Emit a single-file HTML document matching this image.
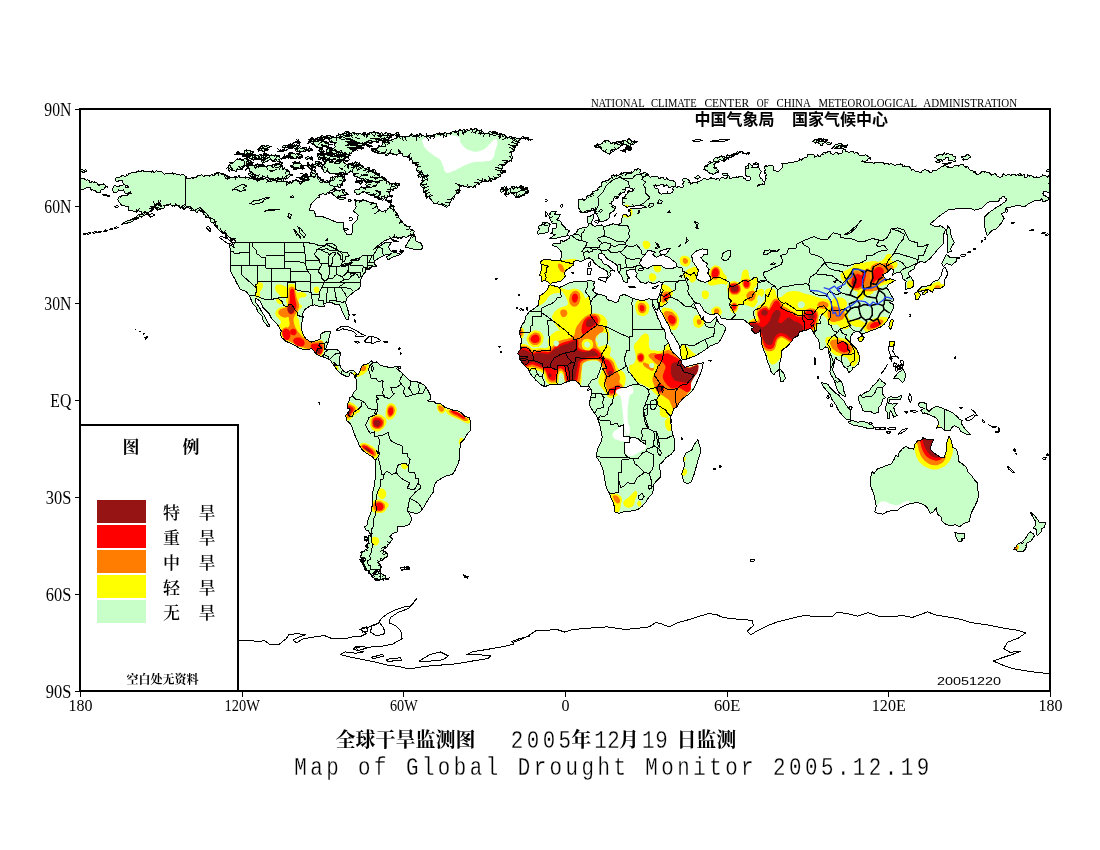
<!DOCTYPE html>
<html lang="zh-CN">
<head>
<meta charset="utf-8">
<title>全球干旱监测图 Map of Global Drought Monitor 2005.12.19</title>
<style>
html,body{margin:0;padding:0;background:#fff;}
body{width:1100px;height:850px;overflow:hidden;}
svg{display:block;}
text{fill:#000;}
.ax{font-family:"Liberation Serif",serif;font-size:16.5px;}
.ay{font-family:"Liberation Serif",serif;font-size:18px;}
.hd{font-family:"Liberation Serif",serif;font-size:11.5px;}
.cn16{font-family:"Liberation Sans","Noto Sans CJK SC",sans-serif;font-size:16px;font-weight:700;}
.cn20{font-family:"Liberation Serif","Noto Serif CJK SC",serif;font-size:20px;font-weight:700;}
.dg{font-family:"Liberation Mono",monospace;font-size:26px;stroke:#fff;stroke-width:0.3px;}
.en{font-family:"Liberation Mono",monospace;font-size:26px;stroke:#fff;stroke-width:0.3px;}
.lg{font-family:"Liberation Serif","Noto Serif CJK SC",serif;font-size:17px;font-weight:600;}
.lgt{font-family:"Liberation Serif","Noto Serif CJK SC",serif;font-size:17px;font-weight:700;}
.nd{font-family:"Liberation Serif","Noto Serif CJK SC",serif;font-size:12px;font-weight:700;}
.dt{font-family:"Liberation Sans",sans-serif;font-size:10px;}
</style>
</head>
<body>
<svg width="1100" height="850" viewBox="0 0 1100 850">
<rect x="0" y="0" width="1100" height="850" fill="#fff"/>
<defs><path id="landshape" fill-rule="evenodd" clip-rule="evenodd" d="M112.1,188.8l1.1-1 0.5-1.5 1.6-1 1.4,1.3 1.2-0.4 1.3,0.2 1.1-1.3 1.5,0.8 0.9-0.7 1.2-0.5 1.4,0.3 0.1,1.6 0.9-0.7 1.1-0.4 0.4,1.3 1.2,0.4 -1.7,0.7 -1.7-0.9 -0.5-1.7 -1.2-1.4 -0.9-0.9 -0.5-1.1 -0.3-1.7 -1.6,0 -1.9,0.1 -0.7,1.8 -1.6-0.5 -0.8-1.5 0.1-1.8 1.1-1.3 1.8,0.8 1.5-1.1 1.5-0.7 1.3-1 1.3,1 1.6,0.2 0.7-1.3 1.3,0.4 0.4-1.4 1.4,0.1 1.2-0.5 0.7-1.1 1.2,0.1 1.2,0.4 1.1-0.4 1.2-0.3 0.8-1 1.2-0.3 1.1,0.9 1.5,0.1 0.8-1.3 1.5-0.2 1.3,1.3 1.7-0.7 1.5,0.9 1.6-0.4 1.3-0.1 0.6,1.1 0.5-0.9 0.8-0.8 1.2,1.3 1.8-0.1 1.2-1.4 1.6,0.9 1.5,0.2 1.3-0.6 1,1.2 1.2,1 1.5,1 1.5-1 1.5,0.6 1.6,0.1 1.6-0.3 1.5-0.8 1.3,1.2 1.7-0.7 1.1,1.6 1.8-0.8 1.6,0.9 1.8-0.2 1.2,0 0.9-0.8 0.4,1 0.9,0.8 1.4,1 0.3,1.7 1.7-0.1 1.6,0.5 0.7-0.7 0.9-0.6 1.1,0.3 0.3,1.1 0.9-1.6 1.9,0.3 0.8-1.1 1.3,0.4 -0.2-1.3 0.9-0.8 1,0.7 1-0.7 1.3-0.3 0.6,1.2 1.3,0.7 1.1-1 1.3,0.4 1-1 1.5,0.2 1,1.1 1-1 1.2-0.7 0.9,1.3 1.5-0.6 0.2-1.5 1.4-0.5 0.7-1.1 1.3-0.1 1.4,0.1 0.7,1.1 1.2,0.1 0.7,0.9 1.3-0.8 0.9,1.2 1.1-0.1 1,0.5 0.9,0.7 1,0.4 1.3,0.8 1.3,0.7 1.5,0.3 1.5-0.3 1.2-1.5 1.7,0.9 1.8-0.1 0.5-1.8 0.2,1.9 1.6,0.8 1.6-0.4 1.7,0.2 1.3-1.2 1.5,0.8 1.4,0.6 1.5-0.1 0.5-1.4 1.5-0.3 1.6,0.1 0.6,1.5 1.4-0.1 0.3,1.4 1.3,0.7 -0.5,1.3 1-1.5 1.7-0.9 1.4,0.3 0.7-1.2 0.4,1.1 0.9,0.9 1.6-1.1 1.8,0.4 1.6,0.8 1,1.6 0.7-1.7 1.8,0 1.6,0.6 1.3-1.2 0.8,0.5 0.9,0.6 1.2,0.1 0.3,1.3 0.2-1.3 0.9-0.9 1.3-0.4 1.1,0.7 1.4-1.3 1.6,1.2 -0.3,1.9 1.8,0.6 1.2-0.8 1.3,0.7 1.2,0 1.3-0.3 1.7,0.7 1-1.6 1.7,0.2 1-1.4 1.5,0.4 0.8,1.4 1.6-0.2 1.4,0.5 1.7-0.5 0.7-1.6 1.5,0.5 1.5,0.3 0.6-1.2 1.2-0.6 -0.8-1.1 0.4-1.3 1.6,0.6 1.2-1.2 0.7-1.5 -0.9-1.3 1.1-0.8 0.2-1.4 -1.2-0.8 0-1.4 1.6,0.8 1,1.5 1.1-1 1.2,1 0.7,1 -0.2,1.2 0.8,0.9 1.2,0.2 -0.6,1.3 1.3,0.9 0.5,1.5 1.6-0.3 0.2,1.7 1.7,0 1.3,1.3 0.5,1.8 0.6-1 1.1-0.2 1.1-0.2 0.8,0.9 1.4-0.2 0.3-1.4 1.1-0.8 -0.3-1.4 1.2-0.2 0.9-0.7 1.3,0.2 0.8-1 1.5,0.7 1.1-1.2 1.4-0.4 0.6-1.4 1.1,0.8 1,0.9 1.3-1 1.5,0.6 0.3,1.3 -0.5,1.3 0.6,1.4 1.4,0.2 -0.6,0.9 -0.9,0.6 -1.3-0.4 -0.6,1.2 0.2,1.3 -1,0.9 1.2,0.6 -0.2,1.4 -1.3-0.9 -1.4,0.7 0.3,1.6 -1.3,0.9 -0.3-1.7 -1.7,0.1 -1.3,0.1 -1.1,0.8 -0.9,1 -0.7,1.1 -0.8,1.4 -1.6-0.3 -1.1,0.5 -0.7,0.9 0.5,1 0.6,0.9 -0.9-0.6 -0.8-0.7 -1.2,0.1 -0.5,1.2 -0.9,0.6 -1.1-0.3 -1-0.4 -0.5-1 -0.7,0.7 -0.5,0.9 -1,0.5 -1-0.4 -1,1.1 0.8,1.3 -1,0.7 -1.2,0.1 -1.4,1.4 -1.6,1.2 -4,4.9 -0.8,4.8 4.8,1 1.4,5.5 6.7,0 8.1,3.2 5.4,2.3 7.2,0.6 0.3,6.8 3.3,4.9 4,0.6 2.1-3.8 -0.8-6.5 5.4-4.9 0.6-4.8 -4.6-3.9 2.7-4.2 -1.4-7.4 1.1,0.7 0.8,1 2.2-1.2 2.1,1.4 1.9-1.6 6.8,2.3 6.7,1.6 1.3,4.8 4.1,3.3 2.7-0.9 1.3-0.3 1.4-0.5 -0.1-1.7 1.8-0.3 0.6-1.2 0.9-1 1.5,0.5 1.1-1 1.2,1 -0.3,1.5 0,1.1 0.8,0.8 0.2,1 0.3,1 1.3,1.4 1.4,1.4 0.5,1.9 0.9,1.7 0.8,0.7 0.9,0.6 0.1,1.1 -0.7,0.8 1.8,0.3 1.1,1.4 1.4,1.3 1.5,1.4 1.9,0.4 2,0.1 -0.2,1.1 -0.3,1 0.9,0.8 1,0.3 1.6,0.8 1.5,0.9 -0.9,1.5 -0.9,1.7 -1.9,0.7 -1.9,0.5 -1.6,1.2 -1.4,1.5 -0.8-1.2 -1.3-0.3 -1.5,0.2 -0.4,1.5 -1.4-0.3 -0.7-1.3 -1,0.8 -1,0.9 -1.4-0.7 0-1.5 -1.2,1 -1.4-0.8 -0.5,1.4 -1.4-0.2 -0.9,0.9 -1.2-0.1 -5.4,2.2 -5.4,3.9 -5.4,4.6 5.4-2.6 6.7-4.6 5.4,0.7 -2.7,3.9 1.9,3.9 3.5,1.6 5.4,1.3 4-2.9 -2.7,3.8 -6.7,2.3 -6.2,3.2 -1.1-2.9 4.6-3.2 -6.7,1.3 -5.4,2.9 -4.1,2.9 -0.8,2.6 2.2,2.6 -4.1,0.9 -6.2,2 -1,3.5 -2.7,2.9 -2.2,5.2 0.8,4.5 -2.1,3.6 -4.1,2.6 -4,3.2 -4,3.6 -1.1,4.5 2.1,7.1 1.4,5.5 -0.8,4.2 -2.2,0 -2.1-4.2 -2.2-4.8 -2.4-5.9 -3.5,0.4 -4.1-2.3 -5.4,0.3 -2.7,0.7 0.6,3.2 -4.6-0.3 -5.4-1.6 -4.8,1.3 -4.6,3.2 -2.2,4.2 0.3,3.6 -1.3,6.1 -0.3,5.5 1.3,4.8 2.7,4.9 3.5,2.3 2.2,1.3 4.6-1.3 4-1.3 1.4-5.9 4-1.9 5.4-0.3 -1.4,5.5 -0.8,4.8 -1.3,2.6 -1.4,5.2 3.5,0.3 4.1-0.3 4,0.3 3.3,2.6 -1.1,6.5 0,4.8 1.9,4.9 2.7,3.2 2.7,0.6 3.5-2.2 3.2,0.3 2.9,2.6 -1.3,4.5 -1.6-3.5 -3.2-1.7 -1.7,4.6 -3.2-1 -3.5-1.9 -2.4-1.3 -3.5-4.2 -2.2-3.3 -4-5.8 -3.3-1.3 -4-1.6 -4-1 -2.2-1.9 -4.6-4.9 -3.5,0.4 -3.2,0.9 -5.4-1.9 -4-2.3 -4.9-2.6 -4.6-1.9 -4-3.5 -1.6-3.3 0.8-3.5 -2.4-4.6 -3.6-4.2 -4-4.2 -2.2-4.5 -3.2-3.2 -3.2-3.3 -2.2-5.8 -4.6-2.9 -0.2,3.9 3.5,4.8 2.7,4.9 3.2,4.8 2.2,4.9 2.7,4.2 -2.2,0.6 -4.6-5.8 -0.8-4.5 -4.6-4.2 -1.3-4.2 -3.5-3.9 -2.4-5.2 -1.4-3.2 -3.2-4.2 -5.7-1.9 -3.5-6.2 -1.9-4.2 -3.5-5.8 -1.3-3.2 0.2-6.5 0.6-6.5 0-5.5 -1.6-6.8 4.8,2.6 -1.4-2.7 1.4-0.7 0.8-1.4 0.3-1.8 -1.5-0.8 -1.6,0.5 -1.2-1.2 -0.8-1.5 -1.4-0.9 -1.9,0.6 -1.3-1.4 -0.1-1.1 0.8-0.8 -0.4-1.2 -1.3,0.2 -1.5,0.1 -1.5-0.4 0.6-1.1 -0.6-1 -1.1,0.5 -1-0.8 -1.1-1.1 -0.9-1.4 -1.1-0.8 -0.6-1.3 -1.4-0.6 -0.4-1.5 -0.8-1.1 -1.4-0.3 -1.6-0.8 0.6-1.7 -1.4-1.1 -1.2-1.5 -1.1,0.5 -1.3-0.4 0.1-1.2 -0.5-1.1 -1.1-1 -1.1,1 0.3-1.2 -0.8-1 -1-0.9 0.5-1.2 -1.1,0.5 -1.1-0.4 -1.9,0.1 -1,1.6 -1.7-0.7 -0.8-1.7 -1.8,0.4 -1.9-0.2 0.6-1.2 -0.8-1.1 -1.3,0.3 -1-0.8 -1-0.4 -1-0.1 -0.9,0.7 -0.2,1.1 -1,0.8 -1.1-0.7 0-1.1 -0.7-0.9 -1.4-0.1 -0.4,1.3 -0.6-0.9 -1-0.5 -1.5-1.3 -1.8,0.5 -1.3,0.4 -0.6-1.2 -1.2,0.2 -0.4,1.2 -1.1-1.3 -0.8-1.5 -1.3,0.8 -1.1,1.1 -1.8-0.8 -1.2,1.5 -0.1,1.5 -1.5,0.4 -1.2,0.1 -1.3,0.2 -0.5,1.3 -1.3,0 -1.3,0.3 -0.9-0.9 -1.4-1.2 0.2-1.8 0.9-1.4 1.6-0.5 1.2-1.1 1.5-0.2 -1.8,0.8 -1.9-0.7 -1.5,1.1 -1.5,1.1 0.3,1.4 -0.5,1.3 -0.8,1.7 -1.7-0.5 0.8,1.4 -1.3,0.9 -1.4,0.2 -0.8,1 -1,1.5 -1.8-0.1 -1.3,1 -1.3,0.9 -1.3,0 -0.6,1.1 -0.9-0.6 -0.8-0.8 -0.9,1.6 -0.9,1.6 -1.6,0.3 -1.7-0.4 -2.1,2.6 -5.3,1.7 -5.4,1.3 4-3 5.4-1.6 3-2 1.8-0.6 1.1-1.6 1.7-0.9 1.9,0.1 1-0.6 0.3-1.1 -0.2-1.1 -0.6-0.9 -1.7,0.1 -1.6-0.4 -1,1.4 -1.7-0.7 -1.5,0.5 -1.2-1.2 -4-0.7 0-3.2 -6.7-1.6 -2.7-3.2 -1.4-2.6 0.9-1.1 -0.1-1.3 1.2-0.5 1.3,0.6 0.9-0.9 -0.4-1.2 1.1,0.6 1.1-0.7 1.6,0.8 1.9-0.2 0.4-1.2 1.3-0.4 1.1-0.5 1.2,0.5 -0.4-1.3 -0.1-1.3 -1.4,1.1 -1.5,0.9 -1.9,0.2 -1.4-1.2 -0.4-1.4 -0.5-1.3 -1.2,0.9 -1.5-0.4 -1.4,0.1 -1.2-0.8 -0.3,1.4 -0.8,1.1 -1.9,0.5 -1.8-0.2 -0.8-1.7ZM446.4,207.2l-5.3-2.9 -6.8-0.6 -4-4.9 -1.1-0.7 0.3-1.3 -1.2-0.2 -1,0.6 -1.1-0.2 -0.6-1 1.2-0.7 -0.6-1.3 -1-1.3 -1.4-0.5 -0.3-1.6 0-1.5 -0.7-1.1 -0.8-1.2 -1.3-0.9 0.1-1.6 0.3-1.8 1.8-0.3 -1-1.2 0.3-1.6 -0.1-1 0.2-1 1.2-0.2 0.3-1.2 1.9-0.3 1.9,0.5 -1.8-0.7 -0.9,1.7 -1.7,0.5 -0.9-1.5 -1.1-0.8 -0.6-1.3 -1.1-0.9 -1.3-0.3 -0.3-1.3 -1.1-0.9 0-1.3 0-1.3 0.5-1.1 0.1-1.2 -1.5,0 -0.6-1.3 -1-1.2 -1.4,0.8 -0.1-1.2 0-1.3 -0.5-1.1 -0.8-1 -1.3-0.1 -1,0.8 -0.3-1.2 0.5-1.1 -1.1-0.3 -0.9-0.8 -1.5-0.7 -1.5,0.7 -1.7-0.9 0.3-1.9 -1.2-0.7 -1.4,0.1 -1.7-0.4 -0.8,1.5 -1.7,0.6 -1.3-1.2 -1.7,0.7 -1.4-1.3 -1.5,0.4 -1.5,0.4 -1.1,1.7 -1.9-0.6 -0.8-1.2 -1.3-0.4 -1.4-0.2 -0.7-1.2 -0.7,1.7 -1.8-0.4 -1.5-0.1 -1.2-0.8 -1.7-0.3 -1.6-0.8 -1.4-1.2 -0.7-1.6 2-0.1 1,1.7 1.2-1.2 1.6-0.6 1.3-1.1 0.4-1.7 1.2,0.2 0.6,1.1 1.1-0.4 0.4-1.1 0.9-1.5 -0.5-1.7 1.6-0.5 1.6,0.5 0.7-1.2 1-1 1.5-0.4 1.3,0.9 1.5-1 1.7-0.4 1.8-0.3 1.6-0.8 -0.3-1.3 1.2-0.7 1.3-0.7 1,1 1.8,0.1 1.8-0.1 1.8,0.3 1.8,0.3 2-0.4 1.1-1.6 1.1-1.3 1.4,0.9 1.3,0.9 -0.3,1.5 0.8-0.6 0.6-0.8 1.1,0 0.8-0.8 2,0.3 1.1-1.6 1.7,0.9 0.1,1.9 1.6-1.2 1.5,1.4 1.8-0.7 -0.4-2 0.7,1.5 1.1,1.2 1-1.5 1.9,0.1 1.5,0.6 1.3,1 0-2 2-0.5 1.2-1.1 1.5,0.7 1.3-1 1.4,0.9 1.4,0 1.3,0.2 1.2-1.2 1.5,0.6 1.4,0.8 1.5-0.4 1.2-0.8 1.2-0.7 1.2-0.7 1.5-0.1 1.4-0.6 1.3,0.8 1.6-0.7 0.7-1.6 1.3,1.1 1.7,0 1.5-1.1 1.3,1.3 1.2-0.8 1.4-0.1 1,0.7 1.1-0.4 0.4-1 0.3-1 1,1.4 1.7,0.5 1.2-1.2 1.7,0.2 1.2,0.9 1.3,0.8 1.6-0.3 1.4-0.9 -0.3,2 1.8,0.8 0.7,1.6 1.6-0.3 1.6,0.6 0.9-1.5 1.1-0.6 1-0.9 1.3,1.3 1.4-1 1.2,1 1.3-1 0.8,1.3 1.4-0.2 0,1.3 1.1,0.7 1-0.7 1.2,0.1 1.1,0.2 0.5,1.1 0.8-0.7 1.1-0.3 0.6,1.1 0,1.2 1.2-0.2 1.1,0.7 1.1,0.5 0.9-0.7 1.1-0.2 0.7-0.8 0.2,1 0.6,0.9 1.1-0.1 1,0.4 1.8,0 1.8,0.5 1.8-0.2 1.7-0.4 1.1,0 0.8,0.8 0.3-1.3 1.3,0 1.1-0.1 1.2,0.2 1.3,0.3 0.2,1.4 1.3,0.1 0.9,1.1 0.8-1.1 1.3-0.3 -1.8,0.8 -1.8-0.7 -1-0.4 -0.8-0.7 -0.7,0.9 -1,0.4 -0.7-1 -1.2-0.2 -0.9,0.9 -1.2-0.1 -1.2,0.3 -1,0.7 -0.8,1.1 0.6,1.2 -1.5,1 -0.1,1.8 -1.8,0.4 -0.6,1.7 -0.5,1.2 0.3,1.3 -1.2,0.9 0,1.4 -1-0.6 -1.1,0.5 0.3,1.2 -1,0.8 0.5,1.6 1,1.4 0,1.6 -1.5,0.6 0.1,1.3 0,1.3 -0.5-1.3 -1.3,0.2 -0.4,1.3 -1.3,0.1 -1.2,1.3 -0.7,1.7 -1.8,0.2 -1.4,1.2 0.1,1.8 -0.9,1.6 0.4,1.2 1.2,0.1 1-0.4 0.7-0.9 0.7,1.6 0,1.6 -1.8-0.7 -1.6,1.1 -1.6,1.1 -0.4,1.8 -1.5,1.2 -2,0 -0.4,1 -0.8,0.6 -1,0.5 -1-0.1 -1.5,0.5 -0.7,1.4 -1.4-0.3 -1.1-1 -0.7,1.3 -1.5,0.5 -1.4-0.3 -1.1-0.8 -1.3,0.9 -1.2-0.9 -0.2,1.4 -1.3,0.7 -0.4,1.3 -1.4,0.2 -1.1-0.6 -1.2,0.6 -0.3,1.5 0,1.5 -1.6-0.5 -1.5,0.8 -1.1-0.8 -1.3-0.5 -0.9,1.1 -1.4,0.4 -1-0.7 -0.9-0.7 -1.2,0.1 -1.2,0.3 -1.3-1.4 -1.5,1.1 -1.5,0.9 0.5,1.7 0.2,1.9 -1,1.6 -1.5,0.9 -1.7,0.5 -1.3,1.4 0.4,1.9 -1.2,0.7 0.2,1.3 -1-0.4 -1.2-0.1 -2.7,6.5ZM356.4,373.1l1.7,1.9 2.1-4.2 1.4-4.2 1.9-1.6 4.8-1.3 3.5-2.9 1.1,2.3 3.5-1.3 4,3.5 5.4,1.3 5.4,1.3 4.6-1.3 2.4-0.3 -1.6,2.3 4,3.2 2.7,2.3 4.1,4.2 3.5,3.2 5.9,0.3 4,1.3 4.1,2.6 2.7,3.9 2.7,5.5 0,4.2 -2.7,1.6 2.7,0.6 4,0.4 1.4,1.3 5.4,0.9 4,3.3 4,1.3 4.1,1.6 4,0 4.1,2.6 3.5,3.5 4.5,1.3 1.7,5.8 -0.3,6.5 -4,4.9 -2.7,4.8 -3.3,3.2 -0.8,6.5 0,8.1 -1.9,6.5 -2.9,6.4 -2.7,4.2 -4.6,0.7 -5.4,2.6 -5.4,3.2 -2.9,3.9 -0.3,6.4 -3.5,4.9 -4.1,6.5 -2.7,4.8 -3.2,4.2 -3.5,1.9 -5.4-1.2 -3.8-1.7 3,4.9 1.4,3.2 -2.7,5.5 -6,2.3 -5.9,0.3 -0.3,4.9 -4.5,1.6 -2.7,3.2 2.7,2.3 -0.6,1.3 -1.1,0.9 -0.3,1.6 -1.5,0.4 -0.3,1.3 -1.4-0.1 0.3,1 0.3,1 -0.9,0.6 -0.8,0.8 -0.7-0.8 -1-0.4 0.5,1 0,1.1 -1.1,0.1 -0.9,0.8 0.7,1.6 1.5,0.7 1.7,0.7 0.2,1.9 0.2,1 0.3,1 -1.3-0.1 -0.4,1.2 -1.6,0.7 -1.3,1 -1.3,1.2 -1.6,0.5 -1.3,1.3 0.2,1.9 1.6,0.8 0.8,1.7 -1.1,1.5 0,1.8 -1.5,0 -1.4-0.3 -0.6,1.7 -1.9-0.1 -0.5,1.7 -1.7,0.5 -1.5,0.8 -1.6-0.4 -1.4-1 0.2-1.7 -1.3-1.3 -1.6,0.7 -0.9-0.8 -0.5-1.2 0.8-0.9 0.8-0.9 -1.3,0.1 -1.3-0.2 0.8-1.4 -1.1-1.1 -0.9-1.7 -1.4-1.2 -0.2-1.1 -0.6-1 1.4-0.1 0.4-1.4 -1.5-0.4 -0.1-1.5 0.9-0.9 0.8-0.9 -0.9-1.3 1-1.2 1.2-0.1 1.3-0.2 0.5-0.8 0.8-0.6 1-0.3 0.7-0.8 -0.7-1 -0.9-0.8 0-1.4 1.3-0.7 0.5-1.7 1.7,0.2 -0.4-1.3 -0.7-1.2 -0.4-1.2 0.9-0.8 -0.6-1 0.3-1.1 0.7-1.5 1.6,0.1 -0.1-1.4 -1-1 -0.9-1.2 0.4-1.4 -1.3-0.3 -1.3,0.2 -1.3-1.5 -0.4-1.9 0.9-0.4 0.7-0.7 0.8-0.8 -0.1-1.1 1.3-4.9 2.7-6.4 1.1-6.5 0.5-8.1 -0.3-4.9 1.9-6.4 0.8-6.5 0.9-8.1 -0.3-6.4 -0.3-5.2 -3-3.6 -5.3-3.2 -5.4-4.2 -2.2-3.9 -2.4-5.5 -2.7-6.1 -2.2-6.5 -2.4-4.5 -3.5-2.6 -0.3-5.2 2.7-3.2 1.4-2.9 -3-0.7 0.3-4.2 1.9-3.2 0.2-2.9 3-2 1.1-3.5 2.7-2.9 0.2-4.9 0-4.8 -1.3-2.3ZM380.2,571l0.6,1.5 1,1.4 1,0.8 1.2,0.6 1.4,0.4 0.4,1.4 0.4,1.1 1.2,0.2 1,0 0.9-0.6 -0.7,0.8 -0.6,0.9 -1.2,0.1 -1-0.5 -1.8-0.4 -0.7,1.8 -1.1-1.7 -1.8,0.9 -1.6-0.2 -0.8,1.4 -0.6-1.2 -1-1 -1.2,0.3 -1-0.6 -0.7-1 -1.2-0.3 -0.7-1.1 -0.6-1.1 1.7,0.2 1.5-0.9 1-0.9 0.4-1.4 1-1.3 1.7,0.4ZM549.1,285.1l1.6-0.3 6.2,2 2.7,0.6 5.4-2.3 4-2.2 4.1-1 5.4,0 6.7-0.6 6.2-1 1.4,1.6 1.8-0.6 -1,3.8 1,2.6 -2.1,2.3 2.1,2.6 4.1,1.9 2.1,0 5.2,2 1.3,3.2 4.9,1.3 4,1.9 2.7-2.2 0.3-4.2 4.3-2 4,1 4.9,2.9 5.4,1.3 5.3,1.3 2.7-1.3 2.7-1 3.5,1 0.8,4.2 -0.5,1.6 2.2,4.9 1.6,2.2 1.9,5.9 2.7,4.8 0.5,3.2 3.2,3.3 0.8,3.2 0.3,4.9 3.2,4.8 2.2,6.5 1.9,3.2 4,3.2 3.3,3.3 1.6,1.6 0,3.2 3.2,3.6 4-1.3 5.4-1.3 5.4-1.3 3.5-0.7 -0.5,4.3 -1.6,4.8 -2.7,6.5 -2.7,6.4 -2.7,4.9 -4.1,4.8 -5.3,3.3 -4.1,4.8 -2.7,4.2 -3.2,2.3 -1.6,4.8 -1.9,4.9 0.8,4.2 0.5,5.5 1.4,5.8 1.3,3.9 0.3,4.8 0.3,6.5 -3.3,4.8 -5.4,3.3 -3.2,4.2 -3.5,3.2 0.8,5.5 0.6,6.5 -5.4,5.5 -2.2,2.6 0.3,4.8 -1.4,4.2 -3.5,3.6 -2.7,4.5 -4,4.5 -4,2.9 -3.6,1.3 -5.9,0.4 -5.4,0.9 -4,1.3 -4.1-1.6 -0.5-4.8 -0.8-4.2 -2.7-5.5 -1.3-3.9 -2.7-4.6 -1.4-5.4 -1.3-8.1 -1.4-6.5 -2.7-6.5 -3.2-4.8 0-4.9 1.3-4.8 3.3-6.5 0.8-4.8 -1.4-6.5 -1.3-6.5 -1.4-3.2 -0.8-3.2 -2.7-3.9 -3.5-4.9 -1.9-4.2 1.1-4.8 1.1-4.9 -0.3-4.8 -1.9-2.9 -4,0 -4,0.3 -2.7-4.2 -4.1-2.6 -5.4,1 -4,1.3 -4,2.2 -4.1-0.3 -5.4-0.3 -6.7,2.6 -4-2 -4.9-4.5 -3.2-3.6 -3.3-4.2 -0.8-3.2 -3.5-3.2 -3.2-3.6 -1.9-2.9 -0.3-3.2 -1.9-2.9 2.5-4.2 0.8-6.5 0-4.8 -1.9-4.9 2.7-8.1 2.7-3.2 1.3-5.5 4.1-5.2 4-2.2 4.1-3.3 0.8-4.8 1-4.9 4.4-3.2 3.2-3.2ZM652,299.7l5.1,0 1.9-3.9 1.7-4.8 1-4.9 0.8-3.9 -4-0.3 -4.6,2 -5.4-2 -2.7,1.6 -5.4-1.3 -1.8-2.6 -2.7-3.2 1.3-3.2 -1.6-1.6 -0.5-2.3 -5.4-0.3 -1.4,1.9 -1.9-0.6 0.3,3.5 1.1,2.3 1.9,1.9 -2.7,0.7 0.5,4.2 -3.2-1 -1.9-3.2 -0.8-3.3 -2.2-2.2 -2.1-3.2 0.2-3.9 -2.7-2.6 -4-2.6 -4-2.3 -2.7-3.8 -2.2-1.3 -3.5,0.6 0,3.9 3,1.9 1.9,3.9 4.8,1.6 2.7,2.9 4,2.9 -4-0.9 -1.1,2.6 1.4,1.9 -2.5,2.6 -1.3,1 0.8-3 -0.8-3.8 -3.2-2.3 -4.1-1.9 -2.1-1.7 -3.3-2.2 -1.8-3.3 -3.6-2.5 -4,1.6 -4,2.2 -4.1-0.9 -3.7,0.6 0.2,3.9 -3.2,2.3 -4.1,2.6 -2.1,3.5 1.3,2.3 -2.7,3.5 -3.2,2.6 -6.5,0.3 -2.6,2 -2.5-2 -2.9-1.6 -4.1,0.7 0.3-4.9 -1.6-1 1.6-5.4 0-4.9 -1.1-3.2 3.2-2.3 5.4,0.3 6,0.3 5.3,0.4 1.4-3.6 0.5-4.2 -2.9-3.9 -2.2-1.9 -4.3-1.3 -0.3-1.6 4.6-1 3.8,0.3 -0.3-3.2 3.3,1.3 1.8-1 3.5-1.9 0.6-2.3 4-1.6 3-2.3 1.3-2.9 3.3-1.3 3.2-0.6 3.5-0.7 0.5-3.2 -1.3-2.3 0-4.8 3.5-0.6 3-1.7 -0.3,3.9 -1.4,3.2 -0.8,2.3 3,2.6 3.2-0.6 4.1-0.7 2.1,1.6 5.1-1.3 4.9-1.6 2.2,1.3 2.9-0.3 3-2.3 0.3-4.2 1-3.2 3-0.7 2.4,2.3 2.4-1.6 -0.2-2.6 -2.2-1.6 0-1.3 4.1-1 5.4,0 3.2-0.3 5.6-1 -4.5-1.9 -5.7,0.3 -4.3,1 -5.4,0.6 -4.3-2.6 0-4.2 0.2-1.6 0.3-1.6 1.4-0.2 1.1-0.9 0.1-1.6 1.5-0.5 0.1-1.7 0.8-1.4 1.6-0.4 1.5,0.9 1.7-0.2 0.7-1.4 -1.3-1.4 -1.9-0.3 -1.3-0.2 -1.3,0 -1.3-0.1 -1.2,0.7 0.1,1.4 -0.2,1.4 -1,1.3 -1.6-0.2 -0.8,1 -1.2-0.5 -0.7,1 0.5,1 -1.4,1.3 -0.4,1.8 -1.8,0.5 -1.8-0.7 -1.2,0.6 -0.1,1.3 -0.4,1.5 -1.5-0.1 -0.3,3.5 4.4,2.3 -0.9,3.2 -4.8,3.3 -0.5,3.8 -1.9,2.3 -4.1,1.9 -3.5,0.4 -0.8-2.6 -2.4-4.2 -0.7-1.8 -1.9,0.2 0.5-1.5 0.5-1.4 -1.5-0.4 -0.1-1.6 -2,0 -0.2,2 -0.8,0.6 -1,0.3 -1.2-0.2 -0.3-1.2 -0.3,1.8 -1.2,1.2 -1.8-0.3 -1.7,0.3 -1.1-0.6 -1.2,0.2 -1.2-0.8 0.5-1.3 -0.5-1.5 -1.5-0.4 0.1-1.4 0.5-1.3 0-1.2 -0.4-1.2 0-1.2 0.2-1.2 0.1-1.6 1.6-0.1 1.3,0 1-0.9 0.6,1.1 1.1,0.6 0.8-0.9 1.2-0.5 0.4-1.8 1.3-1.4 1.2,0.3 1.1-0.4 0.4-1.4 1.3-0.1 0.4-1.5 0.9-1.1 1.4-0.3 1.4-0.4 1.1-0.4 1.1-0.4 -0.7-1.4 1.2-1 1.1-0.6 1.2-0.2 0.2-1.2 0.2-1.2 0.3-1.3 0.6-1.2 1.2-0.7 1.4-0.1 1.4-1 1.4,1 1-1 0.8-1.2 1.5-0.9 0.5-1.7 0.6-1 1.1-0.4 1,0.5 0.6,0.9 1.4-1.3 1.5,1.1 1.2-0.8 1.3-0.6 0.5-0.9 0.6-0.8 1.2,0.5 0.7-1 1.9,0 1.9,0.2 1.3,0.7 0.9-1.1 1,0.7 0.5,1 0.9-0.9 -0.1-1.2 1.3,0.6 0.9-1.1 1.1-0.6 0.1-1.2 1.1-0.5 1.1,0.2 1.2-0.9 1,1.2 1.3,0.4 -0.2,1.4 -0.6,1.5 1.5,0.8 1.1-0.2 1.2-0.3 0.9-0.9 1.2-0.2 0.3,1.3 1.2,0.6 1.3,1.3 0.9,1.3 1.5,0.8 1.3-1.1 1.7,0.3 1,0.3 1-0.2 1.1-0.2 0.9,0.5 0.4,1.6 1.6,0.2 0.6-1.4 1.5-0.1 1.3,0.5 0.6,1.3 1.7,0.4 0.8-1.5 0.7,1 1.1,0.3 0.7,0.9 1.2,0.3 1.8-0.4 1.5,0.9 1.6,0.9 0.5,1.8 -0.5,1.3 0.5,1.3 -1.3-0.2 -0.6,1.2 -0.9-0.6 -0.7-0.8 -1.3,1.5 -2-0.1 -1-1.3 -1.2-1 -1.5,0.7 -1,1.2 -0.1-1.9 -1.9-0.3 -1.7,0 -1,1.3 -1.4-0.1 -1.3,0.3 -1.2-1.2 -1.5,0.7 0.4,1.4 0.8,1.3 1.5,0 1.4,0.8 0.7,1.5 0.1,1.8 1.2,1 1.5,0.8 1-0.5 0.5-1 0.4,1.2 1.3,0.1 1.9-0.4 0.8-1.9 0.6,1.9 2,0 1.4-0.7 1.4-0.9 0.3-1.1 0.7-0.8 -1.2-0.6 0.2-1.4 0.9-1.2 1.6-0.3 1.6,0.9 1.3-1.3 1.3,0.6 1.3,0.4 1.5,0 1.3-0.7 -0.6-1.3 -0.8-1.3 1.3-0.8 0.6-1.4 -1.2-1 -0.7-1.3 1.7-0.6 1.8,0 1.9,0.3 1.3,1.3 0.8,1.1 -0.7,1.1 1.3,0.3 0,1.4 1.5-0.6 0.9-1.3 1.6,0.5 1.4-0.9 1.1,0.3 0.9,0.9 0.1-1.5 1.5-0.2 1.5-0.9 1.6-0.9 1.5-1.3 1.8,0.6 1.8,0.4 1.7-0.6 1.6-1 1.8,0.6 1.8,0 1.5,1 1-0.9 1.4-0.2 1.1,0.8 0.3,1.4 0.2-1.1 0.5-1 1-0.9 1.2,0.3 1.8,0.2 1.7,0.2 1.5-1.2 0.4-1.8 1.6,1.1 -0.2,1.8 1.2,0.8 1.2-0.7 0.9-1 1.4,0.1 1.3,0.6 1-1 1.2,0.7 1.2-0.8 1.8,0 1.8-0.3 0.7,0.7 0.4,1 1,0.4 1-0.2 0.2,1.6 1.6,0 1.1,0.3 1.2,0.1 1.1-1.1 0.2-1.5 -1.3-1.2 -1.7,0.1 -1.5-0.7 -0.9-1.4 -0.3-1.2 0.3-1.3 -0.4-1.2 0.4-1.2 0.1-1.1 -0.2-1.1 0.6-1.1 1.2-0.3 1.2-0.7 0.1-1.5 1.4,0 1,1 1,0.5 0.8,0.9 0.8,1.1 1.3-0.3 1.5-0.1 1.2,0.8 0-1.7 1.5-0.6 -0.7,1.7 1.2,1.4 0.6,1.5 1.1,1.2 -0.6,1.7 -1.1,1.4 0.1,1.8 0.7,1.6 1.3,0.8 1,1.1 0.5,1.4 -0.1,1.6 -0.9,1.3 -1.5,1 -1.9-0.1 -1,1.6 -0.1-1.2 0.8-0.8 1.3,0.7 0.9-1.2 1.9,0.2 1.9,0.1 0.3-1.9 -1.5-1.1 1.9-0.1 0.6-1.8 0.4-1.1 -0.5-1.1 0-1.2 0.9-0.9 -0.8-1.3 -1.5,0.1 0.9-1.2 -0.7-1.4 1.1-1.4 -0.9-1.6 -0.1-1.1 0.6-0.9 1-0.8 1,1 1.1-0.4 0.6-1 1.1,0 0.9,0.8 1.1-0.5 1,0.7 0.8,0.9 0.1,1.1 -0.1,1.3 0.3,1.4 1.6-0.5 0.9,1.4 1.6-0.5 1.6-0.6 1-1.4 1.2-1.1 0.4-1.2 -0.3-1.2 0.6-1.3 -0.7-1.2 1.6,0.1 1.5,0.3 1.6,0 1.4-0.8 1.4-0.6 1.6-0.2 1.5,0.2 1.5,0.1 1.4-1.3 1.9,0.1 1-0.3 1.1-0.2 0.7-1.1 -0.7-1.1 0.8,1.2 1.4,0.5 0.9-1.1 1.2-0.8 1-0.4 0.7-0.8 1.2,0.2 0.9-0.7 -0.1-1.5 1.4-0.6 1.4-0.5 0.9,1.3 1.1-1.3 1.3,0.9 1,1 -0.1,1.3 1-0.2 0.8-0.7 1.2-0.5 -0.3-1.3 0.5,1.3 1.3,0.5 1.6,0.2 0.5-1.6 1.1-0.1 1.2,0 -0.4-1.3 0.9-1 1,0.2 0.9,0.5 0.9-0.4 0.9-0.6 0.6-1.1 1.2,0.2 0.8,0.6 1,0.2 -0.4,1.6 1.5,0.5 1.3,0.3 0.9-0.8 1.4-0.9 1.6,0.2 1.4,1.4 1.7-0.9 1.5-0.4 1.1-1.1 -0.4-1 0.5-1 1-0.2 1,0 0.6,1.7 1.7,0.3 1.5,0.9 1.6-0.7 1.4-0.4 1.4,0.2 0.9,1.5 1.7-0.3 1.7,0.1 0.8,1.5 1,1.1 1.4,0.5 1.5-0.5 1.5,0.2 1.3-1 1.6,0.4 1,1.3 1.4,0.8 1.7,0.8 -0.1,1.9 -0.9-1.4 -1.7-0.2 -0.6,1.6 -1.5,0.6 -0.9,1.3 -1.4-0.4 -1.2-0.5 -1.2,0.6 1.9-0.5 1.4,1.4 1.7,0.1 1.7-0.3 1,0.5 1,0.2 1-0.3 1.1,0.2 1,0.2 0.8,0.8 0.6-0.8 0.6-0.9 1.6,0.2 1.5,0.3 1.6-0.6 1.8,0 1.8,0.4 0.8,1.7 1.6-0.8 1.7,0 1.1,0.5 0.5,1 0.8-0.8 1.1-0.3 1.7,0.3 1.5,0.9 1.7,0 1.8-0.1 1.6-0.1 1.2-1 1.8,0.6 0,1.9 1.5,0.2 0.9-1.2 0.7,1.6 1.7-0.4 1.1,0 1.1,0.2 0.8,0.9 0,1.2 1.2,0.4 0.4,1.2 0.9-0.9 1.2,0.2 1.1,1.2 1.4,0.5 1.4,0.5 1.5,0.1 1.9,0.5 0.8-1.7 1.3-0.7 1.4-0.4 1.3,0.3 1.2,0.4 1.2,0.5 0.9,1.1 1.3,0.6 1.4-0.5 0.7-1.4 1.4-0.3 1.2-0.1 1.3,0 1.1-0.7 0.5-1.1 1.3,0.2 0.9-0.8 0.7-0.9 1.1-0.5 1.7-0.3 0.2-1.7 0.7,1.4 1.6,0.2 0.9,1 1.2-0.7 0.5,1.2 1.3-0.1 1.3-0.1 1.2,0.3 0.4-1.3 1-0.8 1.2-0.3 1.2,0 1.5,0 0.3,1.5 1-1.5 1.7-0.5 2-0.3 1.1,1.7 1.7,1.1 1.7-0.9 1.1,1.3 0.5,1.7 1.5,0.9 1.9,0.3 1.2,0.7 -0.1,1.3 0.9-0.8 1.3,0.2 0.1,1.9 1.9,0.4 1.5-0.5 1.4-0.7 0.6-1.4 1.4-0.2 1.5,0.7 1-1.2 0.8,1.5 1.6,0.2 1.6,0 1.1,1.2 1.2,1.3 1.6-0.8 1.5-0.9 1.4,1.1 1.1,1.4 1.6,0.8 1.2,0.9 1.3-0.7 1-0.9 0.3-1.3 1.2-0.9 1,1 1,0.3 1.1,0.3 0.9-1.4 1.7,0.5 1.4,0.9 1.3-1.1 1.4,0.3 1.3-0.1 1.4,0.8 1.4-0.8 1.6,0.9 1.8,0.6 1.7-0.8 1.6-1.1 0,1.2 -0.4,1 0.4,1.4 1.4,0 0.8-0.5 0.9-0.6 0.2-1 -0.2-1.1 1.3,0.6 0.3,1.3 0.9-0.8 1.1-0.5 1.2,1 1.2,0.9 1.5,0.6 1.4-0.8 1.4,1 1.5-0.8 1.5-0.3 1.1-0.9 0.9-1.1 1.3,0.5 1.4-0.1 0.6,1.2 1.7,0.8 1-1.5 1.4,0.8 -0.2,1.6 -0.4,1.1 -0.3,1.1 1.4,0 0.7,1.1 -1.2-0.1 -0.6,1.1 -0.9,1 0.8,1 1,1.4 0.5,1.7 -1,1.5 0,1.7 -1,1.4 -1.7,0.3 -0.9-0.7 -1.1,0.1 -1-0.5 -1,0.4 0.2,1.1 -0.6,0.9 0.2,1.1 1,0.5 1.7,0.8 1.5,1.1 1.4,0.7 0,1.6 -1,0.5 -1,0 -1.6,1.2 -2.5,0 -0.4-1.2 -0.3-1.2 -0.9,0.6 -0.8,0.8 -1.1,0 -1.1,0.1 -4.2,0.8 -5.4,2.6 -4,3.2 -6.7-1.6 -5.4,1.6 -5.4,0.6 -1.9,4.3 -3.5,2.2 2.7,4.2 -2.7,4.9 -5.4,5.8 -4,1.3 -4.9,5.8 -1.9-6.5 -1.3-6.4 0.8-6.5 3.2-3.2 6.8-4.9 5.4-3.2 5.3-3.9 0.8-1.3 0.6-1.3 -1.6-0.6 -0.8-1.5 -1.9-0.3 -1,1.6 -1.7,0.6 0.1,1.8 -2.5,1 -2.7,0 -6.8,0.7 -6.7,6.4 -6.7,1.6 -4.1-1.6 -5.4,0.3 -8.1,0 -8,0.7 -6.8,4.5 -5.4,4.2 -6.7,5.8 5.4,2.9 5.4-1.2 4.8,3.8 -2.1,4.9 0,4.8 -0.6,4.9 -4.8,4.8 -4.1,4.9 -4,4.8 -5.4,3.9 -4-1.3 -3.3,2.3 -2.9,3.2 -0.6,2.3 -5.4,3.2 -0.2,2 2.4,2.2 2.7,4.9 0.3,3.8 -1.1,2.3 -4.1,1.3 -2.9,0.7 0.2-4.3 0.3-3.8 -3.5-2.6 -0.3-3.3 -2.1-3.5 -5.1,1.3 -2.7,1.9 1.3-5.1 -2.7-1.3 -4.6,4.2 -4,1.9 2.7,3.2 0.5,2.3 4.9-1.6 4.6,1.6 -4.1,2.6 -2.7,1.6 -1.9,3.2 2.7,3.3 1.7,3.8 2.4,3.6 0,2.6 -3.5,1.9 4,1.6 -0.5,4.3 -2.2,3.8 -1.6,4.2 -2.4,4.2 -3.2,3.6 -3.6,2.6 -5.3,2.2 -4.1,1.3 -4.6,2 -3.2,0.6 -0.5,2.3 -1.9-2.6 -1.9-1.9 -2.7,0 -3.5,2.5 -2.4,4.3 0.5,4.2 2.7,3.8 3.5,3.3 2.4,6.4 0.3,4.9 -0.8,3.2 -4,3.3 -2.2,0.6 -0.5,2.6 -3.5,2.6 -1.1-4.2 -3.5-2 -1.9-3.5 -2.2-2.6 -2.7-0.7 -1.3-2.6 -1.4,3.3 -0.5,4.8 -1.6,4.9 2.1,3.2 1.4,4.2 2.7,1.3 2.7,2.6 2.1,4.9 0.6,4.8 1.9,4.8 -2.2,0 -5.1-3.8 -1.9-4.2 -1.3-4.9 -1.7-4.2 -2.7-3.9 -1-3.2 0.8-4.8 0.2-4.9 -1.3-6.5 -1.4-4.8 -0.2-3.2 -3-0.7 -2.7,2.9 -3.2-1.3 0.5-4.2 -1.3-4.8 -2.7-3.3 -2.7-4.8 -2.7-3.3 -2.7,1.7 -4,0.9 -4.1,1.3 -1.3,3.6 -4.1,2.3 -2.7,3.8 -4.5,5.2 -3.6,2.3 -2.1,2.6 0,5.4 -1.1,4.9 0,5.5 -2.1,3.2 -2.2,1.3 -1.9,2.6 -2.7-2.9 -1.3-4.8 -2.7-6.5 -1.4-6.5 -1.8-3.2 -2.2-6.5 -0.5-4.8 -0.3-4.9 -0.3-3.2 -0.3-2.3 -1.3,3.3 -4,1.2 -4.1-4.5 2.7-1.6 -3.2-1.9 -1.6-1.7 -2.5-2.2 -1.6-1.6 -5.9-1 -6.7,0.3 -5.4-0.3 -5.4-1 -2.7-3.9 -1.9-0.9 -4.9,1.6 -4-1.3 -4-2.9 -1.9-3.6 -2.2-3.2 -3.2-1 -2.2,1.6 1.9,4.3 2.7,4.8 1.4,2.3 1.6,4.2 1.3-3.3 0.8,3.9 2.5,2 4,0 4-4.2 2.2-2.3 0.5,4.5 2.7,3.2 3.5,1.3 2.7,2.9 -2.9,6.5 -2.5,4.9 -2.1,3.2 -4.1,1.6 -4,1.6 -4.6,3.3 -4.8,3.2 -5.4,3.2 -5.4,2 -4.1,1.9 -4,0.3 -1.3-4.2 -0.6-4.8 -0.8-4.9 -2.7-4.8 -2.7-4.9 -3.5-4.8 -1.9-6.5 -3.2-4.8 -2.2-4.9 -3.2-4.8 -1.1-4.9 -1.6,4.9 -2.1-1.6 -2.5-4.9ZM80,178.1l1.8,0.6 1.9-0.6 1.2,1.5 1.8,0.5 1.3-0.3 0.9,0.8 1,0.9 -0.3,1.3 1.1-0.1 0.8-0.9 1.3-0.3 0.7,1.2 1-0.7 1.3,0.2 0.9,0.7 0.8,0.9 0.7,1 1.1,0.6 0.8-1.4 1.5,0.6 1.2,0.2 0.6-1.1 0.5,1.1 1.1,0.2 0.8,1.8 2,0.4 -1.2-0.6 -1.2,0.5 -1.4,0.5 0.2,1.5 -1.2,0.9 -1.6-0.3 -1.4,1 0.2,1.7 -1.3,0.3 -1.4,0.3 -0.7-0.7 -0.5-0.9 -1-0.5 -0.6-0.8 -1,0.2 -1-0.5 -1.2,0.3 -0.7-1 0-1.4 -1.3-0.2 -1.1-0.2 -1,0.4 -1.7,0.5 -1.7,0.9 -1.2,0.8 -1.1-0.9 -1.1,0.6 -0.6,1.1 -1.6-1.1 0.1-2 0.7-1.5 0.6-1.7 -0.6-1.5 -0.4-1.7 0.9-1.4ZM872.4,471.4l1.4,2.2 3.8-4.8 4-1.3 4-1.9 5.4-1.3 3.3-5.2 1.3-3.9 2.7,1.6 0.3-3.5 3.2-3.9 4-3.2 4.1,2.6 4,0.3 0.8-4.6 2.7-3.5 4.6-1.3 0-2.3 6.8,2.6 4.8-0.3 -2.2,4.8 -1.3,4.9 2.7,2.6 4,2.9 4.1,2.6 3.5,0 1.9-6.5 0.5-6.5 0.3-3.2 1.9-5.5 2.7,5.5 0.8,5.8 4,2.3 1.9,6.5 0.5,5.8 3.5,2.3 4.1,3.2 1.3,4.8 3.5,3.3 3.3,4.8 3.2,3.3 -0.3,5.8 1.4,4.8 -1.7,7.1 -2.6,5.5 -2.2,3.9 -1.9,5.2 -1.3,5.8 -5.4,1.9 -4.6,3.6 -4-2.6 -3.5,1.6 -5.4-1.3 -4.1-3.2 -1.3-4.8 -3.5-2.6 -1.1-6.5 -3.5,4.9 -2.7,0.9 -2.7-5.8 -4-3.2 -5.4-1.6 -5.4,0.3 -6.8,1.9 -5.3,2.6 -2.7,2.9 -5.4-0.3 -5.4,1.6 -4.1,2.3 -5.3-0.7 -2.7-1.6 1.3-5.8 -1.3-6.5 -1.4-6.5 -2.7-6.4 -0.3-6.5 0.6-4.8ZM954.9,532.5l4.8,1.3 4.9-0.7 -0.3,5.2 -3,0.3 1.2,1.6 -1.4,1.3 -1.4-0.5 -1.3,0.5 -2.2-4.2ZM1030.3,512.1l4.3,3.6 3.3,4.2 1.3,2.6 5.4,0 1.4,0.3 -1.9,4.8 -2.2,1 -0.5,3.3 -4.1,3.5 -1.3-1 1.1-3.5 -1.9-2.3 -1.9-0.6 2.4-2.6 0-3.9 -4-6.5ZM1030.3,531.9l3.5,2.2 0.6,2 -3.8,5.4 -1.4,0.1 -0.7,1.2 -1.5-0.2 -0.4,1.5 -0.6,1.5 0.8,1.4 -1.2,0.8 -0.4,1.5 -0.8,1.1 -1.3-0.5 0,1.5 -1.4,0.2 -1.6,0.3 -1.6-0.3 -1.5-0.6 -0.5-1.4 -1.5,0 -1.4,0 1.1-0.9 -0.4-1.4 1.6,0 0.4-1.5 1.1-1.6 1.6-1 1.4-0.2 0.6-1.2 0.4,1.4 1.4,0.2 0.3-1.1 -0.6-1.1 1-0.5 0.9-0.8 2.2-3.2 1.8-3.2ZM697.8,439.7l3.3,11.3 -1.9,4.9 -2.2,8.1 -2.7,9.6 -2.7,8.1 -4,2 -4-2 -1.9-8.1 2.7-8 -0.8-8.1 2.6-4.9 5.4-2.2 2.7-5.9ZM780,369.2l3.8,4.2 1.6,4.9 -2.2,2.9 -2.4,0.3 -1.1-6.5ZM391.2,197.2l-1.8-0.6 -1.8,0.7 -1.2,0 -0.4,1.1 0.3,1.1 -0.5,0.9 -0.7-1.6 -1.8,0.3 -1.4-1.1 -1.5,0.8 -1.2,0.3 -1.3-0.1 0.2-1.7 -1.6-0.4 -1.1,0.8 -1.4,0 0-1.7 -1.7-0.4 -1,0.4 -1.1-0.2 0-1.3 -1.3-0.3 -1.9-0.5 -1.4-1.3 -1.1-0.8 -1.3,0.5 -1.1,0.5 -1.2,0.4 -1.3,0.7 -1,1.1 -2,0.1 -0.4-1.9 -1.8-1 0.4-1.9 1.5-0.6 1.4,0.5 1.5-0.5 0.9-1.3 1.1-1.5 1.9,0.5 1.1,0.3 1-0.4 -0.5,1.1 0.9,0.9 -0.1-1.9 1.5-1.3 -1.5-1.2 1-1.6 1.2-0.8 0.6-1.3 -1.5,0.3 -1.2,0.9 -1-1.2 -1.3-0.8 -1.5,0.3 -0.8-1.3 -0.9-0.9 -1.2-0.5 -1.4-0.8 -1.2-1 -1.8,0.1 -1-1.5 -0.4-1.6 -1.2-1 -0.8-0.7 -0.9-0.4 -0.4,0.9 -0.9,0.6 -1.2,1 -0.7,1.3 -1.5-0.4 -1.4-0.4 -0.7-1.4 -1.6-0.1 -0.2,1.7 -1.6,0.4 -1.6,0.2 -0.4-1.6 -1.2,0.5 -0.8,1 -0.7-1.6 -1.7,0.3 -1.3,0.3 -1.3,0.5 -1.7-0.4 0-1.7 -1.4-0.4 -1.4,0.4 -1.2,0.1 -1.3,0 -0.8-1.1 -0.2-1.3 -0.4-1 -1.1-0.4 -0.2-1.3 1.2-0.5 -0.5-1.4 1.1-0.8 1.2-0.2 0.9-0.9 -0.6-0.9 0.4-1.1 1-0.2 1-0.3 0.7-1.2 1.2,0.5 0.2,1.1 0.7,0.8 1.3-0.6 1.1,0.9 1.2-0.4 1.2,0.5 0.9-1.1 1.2-0.6 1.4-0.6 1.3,0.8 1.3-0.9 1.5,0.6 1.3,0.7 0.6,1.4 0.4,1.3 1.5,0 0.9,0.8 1.2,0.2 0.4-1.3 1.3-0.3 0.6,1 1.1,0.5 1.7-0.1 1.6,0.5 0.7,1.8 1.9-0.1 1.2-1.2 1.6-0.2 1.7,0 1.3,1.1 0.9,1.5 1.5,0.6 1.3,0 0.4-1.2 1.1-0.1 1,0.4 0.4,1.3 0,1.3 1.3,0.7 1.2-0.7 1.2-0.2 1-0.5 1.1,0.6 0.2,1.2 0.2,1.2 0.9,0.8 1.1-0.2 1.1-0.4 0.2,1.7 0.5,1.6 0.4,1.1 1,0.6 0.7-1.1 1.2,0 0.6,1.5 1.5,0.1 1.3,1.1 -0.7,1.5 1.5,0.8 1.6-0.6 -0.1,1.5 0.5,1.5 1.2-0.2 1-0.6 1.2,0.1 1.2-0.2 1.6-0.3 1.3,0.9 2-0.2 0.5,1.9 -1.3,0 -0.5,1.2 -0.2,1.1 -0.7,0.9 -1.4,0.1 -1.2-0.4 -0.2,1.4 -1.2,0.8 -1.2-1.1 -1.3,0.8 -0.1,1.6 -1.5,0.4 1,1.2 0,1.6 1.5,1 1.6-0.6 -0.4,1ZM291.5,175.9l-1.2,0 -1,0.6 -0.7,1 -0.7,0.9 -1.4-0.1 -0.9,1.1 -0.7-1.2 -1.5-0.1 -1.3,0.6 -1.4-0.6 -1.3,1.2 -1.4-1.2 -1.3,0.1 -1.3,0.5 -1.6,0.7 -1.1-1.3 -0.3,1.3 -1.3,0 -0.8-1.2 -1.2,0.7 -1.3-1.5 -2-0.1 -1.8-0.7 -1.9,0 0.2,1.3 -0.6,1.2 -1.3,0 -1.2,0 -1.3-0.4 -0.9-1 -0.3,1.5 -1.4,0.4 -1.1-0.9 0.4-1.3 -0.8-1.1 -1.4,0.5 -1-0.7 -1.1-0.6 -1.2-0.5 -0.7-1.1 0.8-0.9 1.2,0.2 0.8-1.1 1.2,0.5 -0.8-0.8 -1.2,0.2 -0.9-0.8 0.1-1.2 -0.6-1.5 -1.5,0 -1.3,0.5 -0.5,1.4 1-0.8 0.7-1 0.3-1.3 -0.6-1.1 1.6,0 0.8-1.5 1-1.3 1.6,0 0.5,0.9 0.1,1.1 1.1-0.2 1,0.3 1.5-0.9 1.5-0.7 1.6,0.8 1.1,1.4 -0.6-1.3 1.1-0.9 1.1,0.5 1.2-0.4 1.1,1.4 1.1,1.3 1.5-0.8 1.6-0.7 1.3-0.2 0.8,0.9 1.1-0.4 0.9-0.7 1,0.1 1-0.4 0.8-0.8 1.2,0.2 1.5-0.7 1.6,0.1 0.3,2 2,0.2 0.1,1.1 0.5,1 0,1.2 -0.6,0.9 1.6-0.4 0.4-1.6 0.9,1.3 1.6,0.2 0.9,0.8 1.2,0.2 0.4,1.1 1.1,0.7 -0.8,1.3 1.2,0.9 1.2,0 1.1,0.4ZM226.8,168.1l1.5-0.6 0.9,1.3 -1,1.4 1.3,1.1 0.4-1.4 1.5-0.1 1,0.8 1.2,0.1 1.1-0.2 0.9,0.8 1.4-0.4 -0.1-1.4 1.7-0.4 1.7,0.6 1.9,0 0.5-1.8 1.2-0.9 0.5-1.5 1.3-0.2 0.5,1.3 1.2,0.5 0.9-1 0.6-0.8 1-0.4 0.2-1.1 1-0.6 -0.1-1.1 -0.4-1 -0.9-1.1 -1.3,0.7 -0.7-1.5 -1-1.2 -1.7,0 -1.2,1.1 -1.3,0.6 -1.2-0.6 -1.6-0.5 -0.7,1.4 -1.3-1.2 -1.5,1 -1.1,0.9 -0.7,1.3 -1.6,0.1 -0.7,1.6 -1.1-1.1 -1.5-0.3 1,0.9 -0.7,1.1 -0.8,0.6 -0.8,0.6 0.4,1.9ZM399.3,134.8l-1-0.8 0.6-1.2 -1-0.3 -1,0.1 -1.3,1 -1.5,0.7 -0.6,1.4 -1.6,0 -0.6,1.4 -1.4,0.3 -0.7,1 -0.9,0.9 -1.2,1 -1.2-1.1 -1.2,0.9 -0.3,1.4 -1.4-0.3 -1.2-0.6 -1.5,0.3 -1.5-0.5 -0.5,1.9 -1.9-0.1 -1.5-0.4 -1.6,0 -1.4,0.7 -0.9,1.4 -1.5-0.7 -1-1.2 -1.7,0.5 -0.6,1.6 -1.2,0.5 -1,0.7 -1.2-0.3 -1.2,0.5 0,1 -0.2,1.1 -1.1-0.2 -0.9,0.7 -1.7,0.3 -1.5,0.9 -0.8,1 -1.1-0.2 -0.2,1.1 -1.2,0.4 -1.1,0.4 -0.3,1.2 -0.9,0.7 -1.2-0.3 0.4,1.3 -0.7,1.2 -1.3-0.1 -1.2,0.2 -1.1-0.5 -0.6-1 -1,0.6 -1.2,0.1 -1.7,0.7 -1.8-0.6 -0.6-0.8 -0.6-0.8 -1,0.4 -1-0.4 -1.5-0.8 -1.6,0.4 -1.8,0.2 -0.6,1.7 -1.5,0 -1.5,0.2 -0.4-1.9 -1.9-0.1 1.7-0.5 0-1.8 -0.3-1.6 1.3-1 1-1 1.2-0.6 1.8,0.1 0.3,1.8 1.2-0.2 1-0.9 1.1-1.1 -0.9-1.3 0.5-1.8 -1.7-0.9 -1.4-0.4 -1.4-0.2 -1.2-1.1 -0.5-1.6 -0.8-0.7 -0.3-1.1 -0.8,1 -1.2-0.1 -1.4,1.1 -1.5,0.9 -1-0.7 -1,0.8 0.1-1.3 -1.2-0.4 0.5-1.3 0.3-1.4 1.4-0.8 1.4,0.7 1.1,0.6 1.2-0.6 1-0.7 1.2,0.3 1.4-0.4 1.5,0.5 1.1,1.3 1.7-0.7 1.6,1.1 1.5-1.2 1.4-1 0.5-1.6 1.3,1 1.6-0.7 1.4-0.3 1.1-1 1.1-1.1 1.6-0.2 1.4,0.3 1.3,0.7 1.2,1.1 1.5-0.5 1.4-0.8 1.3,1 1.5,0 1.2,0.7 1.4-0.1 1.3-0.3 1.8,0.8 1.2-1.5 1.9-0.3 0.7,1.8 1.4-0.4 1.3-0.5 0.9-1.2 1.6-0.1 1,0.4 1-0.4 1.2-0.8 0.8,1.1 1.1,0.4 1-0.6 1.2-0.3 0.8,1 1.2,0.3 1.2-0.5 1.4,0.5 0.2,1.4 0.9-0.6 1.1-0.4 0.8-1 1.3,0.5 1.3,0.9 1.7-0.2 1.4,0.6 1.5,0.4 1.6,0.1 1.5,0.1 1.5-0.7ZM327.9,147.7l-1.4-0.3 -0.3-1.4 -1.5-0.6 -0.9,1.4 -1.1,0.5 -0.6,1.1 -1.4,0.5 -0.9-1.2 -1.8-0.7 -1.8,0.6 -0.5-1.9 -1.6-1 -1.6-0.6 -1.5-1 -0.6-1.2 -1.3,0.5 -0.2,1.2 -1.2,0.3 1.2-0.8 -0.5-1.3 0.8-1 -0.2-1.2 1.4,0.2 0.4-1.4 1.2-0.7 1,0.9 0.9,1 1.3-0.3 0.6-1.2 1.3-0.1 1.3-0.1 1.3-0.3 1.4,0.4 1,0.9 -0.3,1.9 1.7,0.8 1.5-0.7 1.5,0.4 1.1,1.3 -1,1.4 1.6-0.5 1,1.3 -1.1,1.3ZM349.4,159.4l-1.1-0.6 -0.2-1.3 -1.3-0.5 -1,0.9 -1.8,0.8 -1.3,1.5 -1.3,0.4 -1.2-0.8 0,1.3 -0.9,1 -1.8-0.8 -1.5-1.3 -1.2-0.8 -1.3,0.7 -1,0.7 -1,0.7 -0.6-1.2 -1-0.9 -1.4-0.7 -1.3,0.8 -0.9,0.7 -1.1,0.6 -1.1,0.9 -1.2-0.8 -0.5-1.4 -1.2-1.1 -0.9,1.6 -1.8-0.4 -0.4-1.1 0-1.1 -1.1-0.8 0.1-1.2 0.5-1.3 1.4,0.1 1-0.3 1-0.5 1.2-0.4 0.9,1 0.9,0.9 1.2-0.5 1.9-0.2 0.7-1.7 1.8-0.4 1.3,1.3 1.3,0.7 1.4,0.5 1.3,0.7 1.1,1 1.5,0 1.5,0.1 1.5-1.2 1.5,1.3 1.8,0.1 1.2,1.4 0.4-1.1 0.6-0.8 0.9,0.8 1.2-0.2 0.3,1.6ZM321.2,164.9l-0.7,1.3 -1.4,0.2 -1.1-0.7 -1.3-0.2 -1.1,1.2 0.3,1.5 -1.4-0.7 -1.4,0.6 -1.9-0.3 -1.7,0.8 -0.9-1.5 -0.9-1.6 0.4-1.6 -0.4-1.6 1.1,1.2 0.7,1.6 2,0.3 1.1-1.6 1.5,1.1 1.4-1.2 -0.2-1.9 1.8-0.5 1.5,0.7 0.4,1.6 0.9-1.6 1.8,0.3 -0.5,1.2ZM302.3,169.1l-1.7-0.8 -1.7,0.4 -1.3,0.2 -0.8-1 0.1,1.4 -1.3,0.4 -1.5-1.1 -0.5-1.7 -1.8,0.2 -1.6-0.6 0.9-1.3 1.5,0.1 1.1-1.3 -0.8-1.4 1.6,0.1 0.5-1.5 0.8,1 1.1,0.7 1.5,0 0.7-1.4 0.5,1.4 1.3,0.3 0.1,1.2 0.6,1 0.6,1.5 1.4-0.4 0.5,1.9ZM280.7,158.4l-0.9,1.2 -0.6,1.4 -1.5,0.7 -1.4-1 -1.4,0.7 -1.5,0.4 -1.2-0.9 -0.9-1.2 -1.8-0.3 -1.1,1.5 -1.5,1.1 -1.6-0.9 -0.3,1.2 -1,0.6 -1.4,0.2 -0.6-1.2 -0.7-1 0.1-1.2 -1.2-0.8 -1,1.1 -1.5-0.8 -1.5-0.8 -1.7,0.5 -1.1,1.4 -1.5-0.6 -0.6-1.4 -1.7,0.2 -1.2-1.1 0.9-1.3 1.6,0.3 -0.2-1.8 1.7-0.4 1.9-0.2 1.5,1.2 1.7,0 1.7-0.1 1-0.9 1.1,0.6 0.9,0.5 0.8,0.8 0.1-1.2 0.6-1 0.9-1.1 1.3,0.8 0.9,0.8 0.5,1.2 1.2-0.3 1.2,0.2 1.5,0.3 0.6-1.4 0.8,1.1 1.4-0.3 1.6-0.3 1,1.3 1.3-1 1.5,0.6 0,1.6ZM302.3,157.8l-1.4-0.4 -1,1.1 -1.3,0.1 -1-0.7 -1.2,0.4 -1.2-0.2 -1.1,0.3 -1.2,0 -1.5,0.1 -1.4-0.2 -1-1.2 0.2-1.6 -1.5-0.3 -0.5,1.6 -1.2,0.3 -1.2-0.3 1-0.8 1.3-0.5 1.3-0.6 0.4-1.3 1-1 1.3-0.6 1.3,0.4 1.1,0.8 1.1,0.7 1.3,0.5 0.8-1.2 1.5,0 1.2,0.5 0.6,1.1 1.1,0.2 1.2,0.2 0.6,1.3ZM252.4,154.2l-0.5,1.6 -1.7-0.3 -1.2-0.6 -1.3,0.1 -0.6,1.3 -1.4,0.5 -1.4-0.1 -1.3-0.6 -0.7-1.1 -0.6-1.3 -1.8-0.6 -0.8,1.6 -1.5-0.5 -0.5-1.4 -0.4,1.7 -1.8,0 1.4-0.9 -0.1-1.6 1.4,0.2 1.4-0.3 0.9,1.7 1.5,0.9 1.7-0.7 1.5-0.9 0.4-1.2 -0.8-1 1.2,0 0.9-0.8 1.6,1 1.9-0.6 0.7,0.8 1.2,0.3 1,0.5 1.1,0 -1.5,0.7ZM306.3,149.3l-0.8,1.6 -1.3,1 -1.6-0.8 -1.7,0.2 -0.5,1.1 -1.1,0.2 -0.6-0.9 -1.1-0.1 -1.9-0.6 -0.1-2 -1.4-0.2 -0.2-1.3 -1.1-0.3 -1.1-0.2 -1.1,0.3 -1.1,0 -1-1.1 -1.1,0.9 1.5-1.2 -0.8-1.7 1.5-0.1 1.5,0.4 1.1-0.7 1.3,0 1.2,0.6 0.8,1.1 1.4-0.7 1.4,0.9 0.6,1.3 1,1.1 1.5,0.8 1-1.3 1.5,0.3 1-1.1 1,1.1ZM307.7,178.8l-0.3,1.1 -0.8,0.7 -1.2-0.7 -1,0.9 -1.7-0.8 -1.8-0.9 -1.4-0.3 -0.2-1.5 -1.2-0.1 -1.2,0 1.6,0.3 1.5,0.3 1.1,0.6 1-0.8 -0.2-1.1 0.4-1 1.9-0.1 1.2-1.5 1.2-0.7 0.8,1.2 -0.3,1.1 0.6,1 -0.7,1.1ZM348.1,194.6l-1.1-0.6 -1.1,0.6 -0.8,0.9 -1.1,0.1 -1.2-0.6 -1,0.9 -1.4,0 -0.4,1.3 -1.9-0.4 -1.9,0.6 -1.2-1.6 -1.7-0.9 -1.4-1.3 -1.3-1.2 1.8-0.3 1.7-0.4 0.1-1.8 0.4-1.8 0.9,0.7 0.3,1.1 1,0.1 0.7,0.9 1.9-0.6 2-0.5 1.5,0.1 1.5-0.5 -0.1,1.7 1.1,1.3 1.5,0.9ZM405.2,247l8.9,2.3 6.7,0.6 2.2-2.6 -2.2-4.2 -5.3-2.3 -0.3-3 0-1.6 -0.6-1.5 -1-0.8 -1.2,0.8 -1.2,0.6 0.2,1.3 -4,6.5ZM500.3,189.1l1.4-0.1 0.8-1.2 1.3-0.4 0.6-1.2 0.7,1.1 1.2-0.6 0.5,0.9 0.6,0.8 1,0.7 1.1-0.3 1.3,0 0.3-1.3 1.1-1 1.5-0.3 1.3,0.9 1.5-0.2 1.4,0.5 1.4-0.7 1.2-0.7 1.4-0.1 1.8,0.6 -0.5,1.8 1.6,0.2 1.1-1 1.4-0.1 0.3,1.4 0.2,1.1 0.8,0.8 0.2,1.7 -1.2,1.3 -1.5,0.3 -1.5-0.7 0.3,1.9 -1.7,0.7 -1.5-0.8 -1.4,1 -0.8,1.6 -1.8,0.1 -2,0 -0.5-1.9 -1.5-1.3 -1.6-1.1 -0.8-1.2 -1.4,0.7 -0.7,0.8 -0.8,0.8 -1.1,0.3 -1.2-0.2 -1.3,0.1 -1-0.8 1.1-0.8 0.8-1.2 -1.1-1.2 -1.2-1.3 -1.9,0.1 -1.2,1.5 1.1,1 1.5-0.4 1.1-0.9 0.4-1.4 -1.2,0.6 -0.8-0.9 -1,0.2ZM549.6,238.9l6-0.6 5.4-1.3 7.5-1.6 -1.3-1 2.4-3.9 -3.8-1 -0.8-2.2 -3.2-2.9 -1.1-3 -3.8-1.6 2.7-3.2 0.5-1.9 -5.9,0 2.2-3.3 -4.9,0 -2.7,3.6 1.4,4.8 1.9,3.3 4.3,0.6 0.5,4.2 -4,0.7 0,3.2 -1.9,1.6 4.6,1.3 -2.7,1.3ZM538.1,234.1l5.3-0.4 4.6-1.6 0.8-4.2 1.4-3.2 -2.7-2.3 -4.9,0 -0.8,2.9 -3.7,1 1.3,3.2 -2.2,2.6ZM594.6,145.5l1.2,0 0.9-0.8 1-1 1.2,0.7 1.1-0.4 1.2,0 0.9-0.7 0.6-1.1 1-1.2 1.5-0.2 1.5-0.4 1.4,0.4 1.3,0.8 1.1,0.9 1.6,1.1 1.4-1.4 1.4,0.3 1.4-0.2 0.8,1.1 1,1.1 1.5-0.3 1.4-0.4 1-0.1 1,0.4 -0.1,1 0,1 -1.2-0.8 -1.5-0.3 0.2,1.9 -1.9,0.6 -0.5,1.1 -1.3,0.4 -1.2,0.2 -0.7,1.1 -1.5,1.2 -1.5-1.1 -1.2,1.1 0.2,1.7 -1.4,1 -1.5-0.7 -1.3-0.7 -1.2-0.9 -1.4-0.2 -0.8-1.1 -1.3-0.6 -0.5-1.3 -1.5-1.3 -2-0.1 -1.1,0.3 -1.1-0.2 -1-0.7ZM614.8,143.5l0.5-1.4 1.5-0.3 1.1-0.6 1.3-0.2 1.3,0.5 1.3-0.3 1.1-0.7 1.4,0.4 1.1-0.2 1,0.4 1.2-0.4 0-1.2 0.9-1.4 1.4,0.7 0.7,0.9 0.5,1.1 1.6,0.9 1.8-0.7 0.6,0.8 0.7,0.7 0.9-0.6 1.1,0 -1.6,0.3 -1.6,0.1 -0.6,1.6 -1.6,0.6 -1.7,0.8 -0.7,1.8 -1,0.8 -1.2-0.5 -0.2-1.1 -0.6-1 -1.2-0.8 -1.4-0.1 -1.4-0.3 -1.4,0.4 0.5-1.5 -1.4-0.7 -1.1,0.4 -1.2,0 -1.7,0.9ZM622.9,150.3l1.5-0.7 1,1.4 0.4-1.3 1.1-0.7 1.1,1 1.4,0.2 0.1-1.6 1.5-0.5 -0.3,1.6 -1,1.3 -1.7-0.9 -1.5-1.1 -1.4,0.6 0.2,1.5 -1.5,0.4ZM703.8,169.7l1.3-0.2 0.9,0.9 1.4,0.3 0.4,1.3 1,1.1 1.5,0.3 1.4,0.5 1.4,0.2 1.6-0.1 1-1.1 1.5,0.1 1.4-0.4 -0.1-1.7 -1-1.4 -1-1.6 -2,0.2 -0.7-1 0.5-1.1 -0.5-1.1 0.7-1 1.1-0.6 0.5-1.1 1.1,0.5 1.2,0.1 0.8-1.2 -0.5-1.3 1.2-1.2 1.4,0.9 1.5,0.1 0.8,1.3 1.5-0.3 0.8-1.2 0.9-1.2 1.5,0.4 0.9-1 0.2-1.3 0.7,1.2 1.3-0.5 0.7-1.2 1.3,0.5 0.5-0.9 0.1-1.1 1-0.5 0.7-0.7 1,0.9 1.3-0.4 0.3-1.2 1-0.7 1.1,0.1 1.1-0.6 0.8,0.8 0.5,1.1 1.8,0 1.7,0 1.5-1 1.8-0.3 -0.5,1.1 -0.6,1 -1.2-0.6 -1.2,0.4 -0.7-0.9 -1.1,0 -0.7-0.7 -0.8-0.7 -1.5,0 -1.3-0.9 -1.3,1.2 -1.6-0.8 -0.5,1.3 1,0.9 -1.4-0.2 -0.7,1.1 -1.7-0.9 -1.7,0.6 -1.3,1.5 -1.9-0.6 -1-0.2 -1,0.3 -0.7,0.9 0.2,1.1 -1.7-0.1 -1.5-0.6 -1.7-0.9 -1.6,1.2 -0.9,0.8 -1.2,0.6 -1.1-0.8 -1.3,0.2 -0.8,0.9 -1,0.7 -0.1,1.3 -0.3,1.1 -0.8,0.9 -1.1-0.2 -0.8-0.7 -1.1-0.1 -0.8,0.9 0.7,1.1 -0.5,0.9 -1,0.5 -1.2,0.5 -1.4,0.1 -1,1.2 0.9,1.4 -1,0.5ZM822.3,145.5l0.5-1.7 1.5-0.9 1.9,0 1,1.5 1.4,0.4 1.3-0.5 1.7-0.4 0.2-1.7 -1.2,1.2 -1.3-1 -1.3,0.4 -1.1-0.9 -1.6-0.2 0-1.6 -1.3-0.4 -0.3-1.3 -1.4,0.8 -1.4-0.6 -1.5,0 -1.3,0.6 -1.2,0.2 -0.4,1 -0.5-1 -1-0.4 -0.7,1.4 -1.4,0.9 1.5,0.8 0.9,1.5 -0.3-1.2 1.2-0.7 0.9,0.8 1.1-0.5 0.3,1.5 1.5,0.6 0.9,1.2ZM831.8,148.7l0.7-0.7 0.9-0.7 0.8,0.8 1.2,0.2 1-0.3 1,0 0.5-0.9 0.4-0.9 0.9-0.7 1-0.2 1.2,0.4 0.8-0.8 0.4,1.1 1,0.4 0.9,0.6 0.7,0.7 1-1 -0.6-1.4 1.4,0.3 0.9-1.1 -1.3,1 -1.3,1 -1.4-0.8 -1.4-0.8 -1.1-1 -1.4-0.6 -1.4,0.4 -1.5,0.5 -1,0.6 -1.1,0.1 -0.5,1.4 -1.4-0.2 0.3,1.8ZM934.1,157.4l1.2,0.4 0.9-1 0.7-1 1.2,0.1 0.3-1.5 1.6,0.1 1.3-0.4 0.9,1.1 1.2-1.2 1.1-1.2 0.4,1.1 1,0.6 0.8-0.8 1-0.4 1.3,0.9 1.5,0 1.5,0.4 1,1.2 1.1,0.9 1.2-0.6 0,1.2 0.4,1.1 -0.9,1.1 0.9,1 -0.7,1 -1.3-0.3 -1.5-0.8 -1.8,0 -1.2,0.1 -1-0.5 -0.1-1.1 0.1-1.2 -1.3,0.3 -0.9-0.8 -0.1,1.2 -1,0.6 -1.7,0.7 -1,1.5 -0.9-1.8 -1.9-0.1 -1.7,0.8 -1-1.5 -1.1-1ZM961.1,157.4l1-1.1 1.3,0.7 1.2-0.6 1.2,0.2 0.1-1.1 0.8-0.7 1.2-0.4 0.7,1 1.4,0.8 0.5,1.6 -1.7,0.2 -1,1.4 -1,0.7 -1.1-0.7 -1.1,0 -0.7,1 -0.9-0.9 0.1-1.2 -0.7-1.1ZM942.2,163.2l1.3,0.4 1.3-0.1 0.7,1.3 1.6-0.2 0.9-1 0.9-1.1 1.4,0.3 1.4-0.2 -1.7,0.7 -1-1.5 0.2,1.7 -1.6,0.7 -1.5-0.7 -1.3,1 -0.9-1.4ZM1046,171l0.8-0.7 1-0.5 1.1-0.1 1.1,0 0,2 -1.1,0.1 -1,0.1 -1.1-0.3ZM80,169.7l1.1,0 0.8-0.7 1,0.4 0.4,1 1.2,0.3 0.4,1.2 1.2-0.2 0.6-1 -1-1 -1.4,0.6 0.5,1.5 -1.2,0.8 -1.7-0.9 -1.9,0ZM947.6,225.3l2.7,4.2 0.8,6.5 3.2,6.5 -4,6.4 1.4,2.6 -4.1,0.7 0-6.5 0-6.5 -0.8-6.4 0.3-4.9ZM941.7,263.5l1.3-2.6 3.3-6.8 4,3.6 6.2,0 0.5,3.2 -5.3,4.2 -5.4-1.6 -2.7,3.2ZM917.7,291l4.3-4.6 8.1-0.6 3.5-4.5 4.6-1.3 3.5-5.2 0.5-4.8 2.7-3 2.2,4.6 0,3.8 -2.2,4.2 -0.8,6.2 -2.4,1.9 -3.5,1 -4.1,0.3 -1.8,3.3 -3.5-2.6 -4.1,0.3 -4,1.3ZM914.5,293.2l3.5-1.9 2.4,3.5 -1.9,4.9 -2.4,0.3 -0.8-4.2ZM922,293.2l4.6-3.2 1.3,1.6 -3.2,2.6 -1.9,0.6ZM891,319.7l2.5,0.4 -1.1,4.8 -1.9,4.9 -1.6-3.3 1.3-4.8ZM857.9,338.5l3.5-2.6 2.7,1.3 -1.9,3.9 -3,0.6ZM893.7,378.3l4.1-5.2 5.4-3.9 2.6,5.8 -1.3,5.5 -1.9,2.3 -3.5-3.9ZM858.7,396l2.7-0.6 3.5-2.6 4.6-2.2 2.7-4.2 4-3.3 3.5-4.8 2.4,3.2 4.1,2.6 -3.3,3.2 -0.8,3.9 0.8,3.2 2.7,3.3 -3.2,1.6 -0.8,4.8 -2.7,3.3 -0.5,4.8 -4.3,1.6 -3.3-2.2 -4,0.3 -4.1-1.3 -1.3-4.8 -2.2-3.3 -0.5-3.2ZM821.8,382.8l5.9,1.3 2.7,3.9 4.9,4.8 3.2,2.3 5.4,5.8 2.7,4.9 4,4.8 -0.5,9.1 -3.3,0 -4.3-4.2 -4-4.9 -2.7-5.8 -4-5.5 -1.4-4.2 -4-4.9 -4.1-4.8ZM848.5,421.9l3.5-1.6 5.3,1.9 6-0.6 5.4,1.6 4.8,2.9 0,2.9 -6.7-0.9 -6.8-2 -5.3-0.3 -5.4-2.6ZM887.8,398.3l2.7-1.6 5.9,1 5.4-2.3 -1.3,3.9 -5.4,0.3 -5.4,0.3 -1.4,3.6 4.1,0.6 4.8-0.6 -3.5,3.9 1.4,4.8 1.9,3.3 -3.3,1.6 -2.7-6.5 -1.3,1.6 -0.6,6.5 -2.1,0 0-6.5 -1.9-2.6 1.3-5.5 1.4-3.2ZM918,403.5l4-1.3 4.1,1.3 0.5,5.5 2.2,2.6 4-3.6 4-1.9 8.1,3.2 6.8,2.9 5.3,4.2 2.7,3.3 2.7,0.6 -1.3,2.6 4,6.5 5.4,4.8 -4,0 -5.4-2.6 -2.7-4.2 -4.1-1.6 -2.6,1.9 -1.4,2.9 -5.4-0.3 -4-2.9 -4.1,0.7 1.9-4.6 -1.3-4.2 -3.3-2.6 -4-1.6 -5.4-2.2 -1.9,0.9 -2.1-3.8 4-1.7 -4-0.9 -2.7-2ZM889.7,341.1l4.6,0.3 -0.3,5.2 -4.9,0ZM349.4,164.5l1.6-1 1.7-0.7 1.6,0.6 1.1-1.4 1.4,0.5 1.3,0.6 1.5-0.3 0.6,1.4 -1.1,0.8 -1.1-0.9 -0.3,1.2 -1.3,0.4 -1.4,0.6 -1,1.2 -0.6-1.7 -1.8-0.3 -1-0.7ZM305,158.3l1.2-0.8 1.2-0.7 1.1,0.1 0.9,0.5 1.2,0.6 0.9-1 1.6,1.1 -1.3,0.5 0.4,1.4 -0.9-0.7 -1.1,0.1 -0.6-1 -1.1-0.1 -0.7,1 -1.2-0.1ZM282.1,147.1l0.7-1 1.2-0.3 1.2,0.3 0.9-1 1.7,0.1 1.7-0.1 1.7,0.3 1.7,0.1 1.5,0.2 1.2,1.1 -1.4-0.8 -1.2,1 -0.5,1.5 -1.7-0.1 -1.5,0.4 -1.5-0.8 -1.5-0.3 -1.5,0.5 -1.2-0.9ZM257.8,149.9l0.4-1 0.7-1 1.2-0.3 1,0.8 1.3-0.7 1.4,0.6 1.2,1 1.5-0.7 1,0.7 1.1,0.4 -1-1 -1.2,0.8 -0.8,0.7 -0.8,0.8 -1.2,0.8 -1.2-0.8 -1.1-0.7 -1.3,0.5 -1.4,0.4ZM260.5,147l1-0.7 0.1-1.2 0.9,1.2 1.3-0.7 1.4,1 1.3-1.2 1.3,0 1.3,0.5 1,0.6 1.2,0.3 -1.4,0.1 -0.9-1 0.1,1.6 -1.6,0.4 -0.6,1.7 -1.8-0.4 -1.3-0.6 -1.1-0.8 -1.4,0.3ZM242.9,156.3l1.2-0.1 0.8-1 0.5,1 1.1,0.4 1.3,0 0.5-1.2 1.3,0.7 -0.8,1.3 -1.5-0.3 -1.6-0.3 -1.5,0.2ZM282.2,157.9l1.2-1 1,0.5 1.1-0.3 0.8,0.7 -1.5,0.8 -1.8-0.1ZM278.7,163.2l1.2-1.6 0.9,0.9 1.1-0.6 0.9,1 -1.5,1.3 -1.8-0.1ZM355.5,182l0.7-1.3 1.3-0.6 1.7,0.5 1.7-0.2 1.3,1.3 -0.4,1.8 -1.9-0.2 -0.3-1.1 -1.2-0.3 -1.3-0.1 -0.2,1.3ZM337.9,198.4l0.6-1.7 1.8,0.2 0.8,1.1 1.2-0.7 1-0.3 1,0.1 1.6,1.1 -1.4,0.5 -1.4,0.8 -1.8,0.3 -1.8-0.5ZM348.1,200.7l1-1.6 1.6,0.3 0.6,1 -1.1,1.3 -1.5-0.1ZM343.5,229.7l1.5-1 2.4,0.2 1,0.6 -1.7,0.8 -2.2,0ZM387.8,201.9l1.3-1.1 1,0 1,0.2 0.8,0.7 -1.4,1 -1.9-0.1ZM417.5,175.5l0.8-1 1.2-0.6 1.2,0.3 0.4,1.2 0.6-0.9 1.2-0.3 1.3,1 -1.1,0.8 -1.2,0.5 -1.6,0.7 -1.5-0.8ZM293.5,142.4l1.4,0 0.7-1.1 1.7-0.5 1.6,0.7 1.4,0.7 -1,1.1 -1.4-0.1 -1.5-0.9 -1.5,0.8ZM278.9,150.9l1.4-1.4 1.2,0.8 1.2-0.6 1,0.9 -0.4,1.2 -1.3,0 -1-0.9 -1.2,0.8ZM306.2,150.2l0.7-1.2 1.3,0.2 1.7-0.4 1.7,0.5 1.3,0.7 -0.9,1.1 -1.4-0.3 -1.6,0.7 -1.5-0.8ZM318.5,150.8l1.6-1 1.4-0.4 1.3,0.6 1,0.6 -0.9,0.4 -0.9,0.4 -1.2-0.4 -1.3,0.4ZM319.9,153l1.3-0.7 1,0 1,0.1 0.8,0.5 -1.4,0.7 -1.9-0.1ZM935.5,161.8l1.6-0.8 1.4-0.8 1.3,0.9 1.1,0.5 -1.9,0.7 -1.2,0 -1.2-0.1ZM835.8,147.3l1.6-0.7 1.6-0.8 2-0.1 0.6,1.8 1.3-1 1.5-0.5 1.5-0.3 0.7,1.4 -1,0.6 -1.1-0.5 -0.6,0.9 -1.1,0.3 -1.8,0.2 -0.6-1.7 -0.8,1.5 -1.7-0.2 -1.2,0ZM816.9,140.5l1.9,0 1.4-1.3 1-1 1.1,0.8 -0.7,1.3 1.2,0.8 1.1-1.3 1.7-0.4 1.3-0.1 0.8,1 -1.9,0.6 -1.9,0.5 -1.1-0.6 -1.3,0.3 -1.2-0.1 -1.2,0.3 -1.1-0.5ZM722.6,174.8l0.4-1.2 1.2-0.3 1.4,0.4 1.3-0.2 1.1,1.1 -0.5,1.3 -1.4,0 -1.1-1 -1.3,0.8ZM694.6,177.7l1.3-0.3 0.5-1.2 1.6-1.1 1.3,1.3 1.2,1.1 -1.4,0 -0.6,1.3 -1.4,0.3 -1.3-0.5ZM753.1,164.1l1.6-1 1.4-0.8 1.3,0.9 1.1,0.7 -0.8,0.9 -1.1-0.1 -1.2-0.8 -1.3,0.7ZM625,147.9l0.9-0.7 1.1-0.4 1.7-0.9 1.6,1.1 1.4,0.7 -1.5-0.3 -0.9,1.3 -1.5-0.4 -1.5,0.3ZM1017.8,175l1.2-0.8 1.1-0.7 0.9,0.9 0.8,0.5 -1.4,0.6 -1.8,0ZM364.5,539.1l-0.3-1.6 1.1-1.3 1.4,0.5 1,0.8 -0.5,1.1 -0.8,1.1 -0.1,1.4 -1.2-0.3ZM362.1,561l-1.2-0.9 0.2-1.4 1.2-0.5 0.6-1.1 1.4,0.6 1,1.1 -0.5,1.5 -1.3,0.1 -0.5,1.1 0,1.2 0.9,0.8 -1.3-0.3 -0.3-1.1ZM643.4,267.7l-3-2.6 -0.8-2.3 1.4-2.2 1.3-2.9 2.7-2.9 2.7-3.9 3.5,0 4.1,1.3 -2.5,1.9 2.5,2.6 1.3,0.6 3.5-1.9 3.2-0.6 2.7,1.6 3.5,1.3 3.3,2.9 4,2.9 0.3,3.2 -4.3,1.6 -4.1,0.4 -4-0.7 -2.7-1.9 -2.7-1 -4,0 -4.1,1 -2.7,1.9 -2.7,0ZM659.3,251.5l4-1.6 4.6-1.3 2.7-0.3 -3.2,3.9 -1.4,1.9 -2.4,0.3 -2.9-0.3ZM697,250.6l5.4-1.7 5.4,1 0,4.5 -4,0.4 -1.4,2.2 -1.9,0.7 3.3,3.5 3.5,2.3 -0.8,3.2 2.7,2.3 -1.4,4.2 2.2,3.2 0.5,3.9 -5.4,1.9 -4-0.9 -4.1-2 -0.2-2.6 1-3.5 0.6-3.2 -2.7-4.3 -2.7-3.8 0-3.3 -1.9-2.2 1.9-2.6ZM637.8,270l2.6-1.7 3.3,0.7 -1.1,1.3 -3.5,0.3Z"/><clipPath id="landclip"><use href="#landshape"/></clipPath><clipPath id="frameclip"><rect x="80" y="109" width="970" height="582"/></clipPath></defs>
<g clip-path="url(#frameclip)">
<use href="#landshape" fill="#c8ffc8" stroke="none"/>
<g clip-path="url(#landclip)">
<path d="M257.0,283.0C258.4,281.5 259.4,281.9 261.0,282.4C262.6,282.9 262.7,283.2 263.0,285.0C263.3,286.8 262.8,287.1 262.0,289.0C261.2,290.9 260.5,290.1 260.0,292.0C259.5,293.9 260.6,294.5 260.0,296.0C259.4,297.5 258.9,297.6 257.6,297.6C256.3,297.6 255.4,297.5 255.0,296.0C254.6,294.5 255.8,294.1 256.0,292.0C256.2,289.9 255.3,290.4 255.6,288.0C255.9,285.6 255.6,284.5 257.0,283.0ZM275.6,286.0C276.5,284.6 277.0,284.7 279.0,284.6C281.0,284.5 280.9,284.7 283.0,285.6C285.1,286.5 285.8,286.0 287.0,288.0C288.2,290.0 287.9,290.6 287.6,293.0C287.3,295.4 287.4,295.8 286.0,297.0C284.6,298.2 284.0,298.0 282.4,297.6C280.8,297.2 281.3,296.8 280.0,295.6C278.7,294.4 278.8,294.5 277.6,293.0C276.4,291.5 276.1,291.9 275.6,290.0C275.1,288.1 274.7,287.4 275.6,286.0ZM276.4,299.0C277.0,297.9 278.4,298.3 280.0,299.0C281.6,299.7 282.1,300.3 282.4,301.6C282.7,302.9 282.3,303.6 281.0,304.0C279.7,304.4 278.8,304.3 277.6,303.0C276.4,301.7 275.8,300.1 276.4,299.0ZM314.4,287.6C315.2,286.4 315.8,286.4 317.0,286.6C318.2,286.8 318.5,287.1 319.0,288.4C319.5,289.7 319.7,290.4 319.0,291.6C318.3,292.8 317.7,293.2 316.4,293.0C315.1,292.8 314.5,292.4 314.0,291.0C313.5,289.6 313.6,288.8 314.4,287.6ZM288.0,285.0C290.0,283.7 292.6,283.1 295.0,285.0C297.4,286.9 295.4,290.1 297.0,292.0C298.6,293.9 298.6,291.5 301.0,292.0C303.4,292.5 304.9,292.7 306.0,294.0C307.1,295.3 306.6,295.9 305.0,297.0C303.4,298.1 301.6,296.4 300.0,298.0C298.4,299.6 298.5,300.9 299.0,303.0C299.5,305.1 301.7,304.4 302.0,306.0C302.3,307.6 301.1,307.4 300.0,309.0C298.9,310.6 298.8,310.1 298.0,312.0C297.2,313.9 296.7,313.9 297.0,316.0C297.3,318.1 298.2,317.3 299.0,320.0C299.8,322.7 299.2,323.1 300.0,326.0C300.8,328.9 300.9,328.6 302.0,331.0C303.1,333.4 302.7,332.9 304.0,335.0C305.3,337.1 305.1,337.4 307.0,339.0C308.9,340.6 308.6,340.5 311.0,341.0C313.4,341.5 313.3,341.3 316.0,341.0C318.7,340.7 318.9,339.5 321.0,340.0C323.1,340.5 323.1,340.9 324.0,343.0C324.9,345.1 324.7,345.3 324.4,348.0C324.1,350.7 323.9,350.9 323.0,353.0C322.1,355.1 322.3,355.5 321.0,356.0C319.7,356.5 319.9,356.3 318.0,355.0C316.1,353.7 316.1,352.6 314.0,351.0C311.9,349.4 311.9,349.3 310.0,349.0C308.1,348.7 309.1,350.3 307.0,350.0C304.9,349.7 304.7,349.1 302.0,348.0C299.3,346.9 299.7,347.3 297.0,346.0C294.3,344.7 294.7,344.3 292.0,343.0C289.3,341.7 289.4,342.3 287.0,341.0C284.6,339.7 284.6,339.9 283.0,338.0C281.4,336.1 281.5,336.4 281.0,334.0C280.5,331.6 281.5,331.1 281.0,329.0C280.5,326.9 279.0,327.9 279.0,326.0C279.0,324.1 281.3,324.1 281.0,322.0C280.7,319.9 279.4,319.9 278.0,318.0C276.6,316.1 276.1,316.9 275.6,315.0C275.1,313.1 275.1,312.9 276.0,311.0C276.9,309.1 276.9,309.2 279.0,308.0C281.1,306.8 281.9,307.4 284.0,306.4C286.1,305.4 286.5,306.1 287.0,304.4C287.5,302.7 286.0,302.5 286.0,300.0C286.0,297.5 286.6,297.7 287.0,295.0C287.4,292.3 287.3,292.7 287.6,290.0C287.9,287.3 286.0,286.3 288.0,285.0ZM332.0,364.0C332.7,363.3 333.4,363.6 335.0,364.4C336.6,365.2 337.2,365.5 338.0,367.0C338.8,368.5 338.8,369.3 338.0,370.0C337.2,370.7 336.5,370.4 335.0,369.6C333.5,368.8 333.2,368.5 332.4,367.0C331.6,365.5 331.3,364.7 332.0,364.0ZM361.0,365.6C362.3,364.6 363.0,364.3 365.0,364.0C367.0,363.7 367.6,363.1 368.4,364.4C369.2,365.7 368.9,366.7 368.0,369.0C367.1,371.3 366.9,371.2 365.0,373.0C363.1,374.8 363.1,374.5 361.0,375.6C358.9,376.7 359.0,377.2 357.0,377.0C355.0,376.8 354.3,376.3 353.6,375.0C352.9,373.7 353.2,373.3 354.4,372.0C355.6,370.7 356.5,371.2 358.0,370.0C359.5,368.8 359.2,368.8 360.0,367.6C360.8,366.4 359.7,366.6 361.0,365.6ZM348.0,402.4C349.6,401.5 350.3,402.1 353.0,403.6C355.7,405.1 356.1,406.0 358.0,408.0C359.9,410.0 360.5,409.4 360.0,411.0C359.5,412.6 358.1,412.1 356.0,414.0C353.9,415.9 354.0,416.3 352.0,418.0C350.0,419.7 350.0,420.4 348.4,420.4C346.8,420.4 346.5,420.2 346.0,418.0C345.5,415.8 346.1,414.9 346.4,412.0C346.7,409.1 346.6,409.6 347.0,407.0C347.4,404.4 346.4,403.3 348.0,402.4ZM388.0,404.4C389.6,403.2 390.3,402.9 392.4,403.6C394.5,404.3 394.9,404.8 396.0,407.0C397.1,409.2 396.9,409.3 396.4,412.0C395.9,414.7 395.7,415.0 394.0,417.0C392.3,419.0 392.0,419.3 390.0,419.6C388.0,419.9 387.6,419.8 386.4,418.0C385.2,416.2 385.6,415.7 385.6,413.0C385.6,410.3 385.8,410.3 386.4,408.0C387.0,405.7 386.4,405.6 388.0,404.4ZM373.0,415.6C375.2,414.6 376.1,414.0 379.0,414.4C381.9,414.8 382.0,415.2 384.0,417.0C386.0,418.8 386.1,418.6 386.4,421.0C386.7,423.4 386.4,423.6 385.0,426.0C383.6,428.4 383.1,428.5 381.0,430.0C378.9,431.5 379.1,431.6 377.0,431.6C374.9,431.6 374.7,431.2 373.0,430.0C371.3,428.8 371.5,429.1 370.6,427.0C369.7,424.9 369.6,424.4 369.6,422.0C369.6,419.6 369.7,419.7 370.6,418.0C371.5,416.3 370.8,416.6 373.0,415.6ZM361.0,443.6C362.3,442.5 362.6,442.6 365.0,443.0C367.4,443.4 367.5,443.7 370.0,445.0C372.5,446.3 372.4,446.1 374.4,448.0C376.4,449.9 376.6,449.9 377.6,452.0C378.6,454.1 378.7,454.3 378.0,456.0C377.3,457.7 376.9,458.4 375.0,458.4C373.1,458.4 373.1,457.4 371.0,456.0C368.9,454.6 369.1,454.6 367.0,453.0C364.9,451.4 364.9,451.6 363.0,450.0C361.1,448.4 360.5,448.7 360.0,447.0C359.5,445.3 359.7,444.7 361.0,443.6ZM438.0,404.0C439.3,403.2 440.0,403.9 442.0,405.0C444.0,406.1 444.8,406.2 445.6,408.0C446.4,409.8 446.0,410.1 445.0,411.6C444.0,413.1 443.6,413.5 442.0,413.6C440.4,413.7 440.3,413.5 439.0,412.0C437.7,410.5 437.3,410.1 437.0,408.0C436.7,405.9 436.7,404.8 438.0,404.0ZM446.4,409.6C447.7,408.8 448.9,409.4 452.0,410.0C455.1,410.6 454.8,410.4 458.0,412.0C461.2,413.6 460.9,414.1 464.0,416.0C467.1,417.9 468.1,417.1 469.6,419.0C471.1,420.9 470.8,422.1 469.6,423.0C468.4,423.9 467.6,423.2 465.0,422.4C462.4,421.6 462.7,421.2 460.0,420.0C457.3,418.8 457.7,419.2 455.0,418.0C452.3,416.8 452.1,416.9 450.0,415.6C447.9,414.3 448.0,414.6 447.0,413.0C446.0,411.4 445.1,410.4 446.4,409.6ZM459.6,439.0C460.5,437.5 461.5,437.5 462.4,438.0C463.3,438.5 463.4,439.3 463.0,441.0C462.6,442.7 462.1,443.7 461.0,444.4C459.9,445.1 459.4,445.0 459.0,443.6C458.6,442.2 458.7,440.5 459.6,439.0ZM401.6,464.4C402.5,463.5 403.3,463.3 405.0,463.6C406.7,463.9 407.6,464.3 408.0,465.6C408.4,466.9 407.6,467.5 406.4,468.4C405.2,469.3 404.9,469.4 403.6,469.0C402.3,468.6 402.1,468.2 401.6,467.0C401.1,465.8 400.7,465.3 401.6,464.4ZM379.0,489.6C380.3,488.6 380.6,488.1 382.4,488.6C384.2,489.1 384.6,489.7 385.6,491.6C386.6,493.5 386.4,493.8 386.0,495.6C385.6,497.4 385.3,497.5 384.0,498.4C382.7,499.3 382.5,499.6 381.0,499.0C379.5,498.4 379.3,497.8 378.4,496.0C377.5,494.2 377.4,494.1 377.6,492.4C377.8,490.7 377.7,490.6 379.0,489.6ZM373.6,501.0C375.1,499.7 375.2,499.6 378.0,499.6C380.8,499.6 381.2,499.8 384.0,501.0C386.8,502.2 387.6,502.1 388.4,504.0C389.2,505.9 388.2,505.9 387.0,508.0C385.8,510.1 386.1,510.7 384.0,512.0C381.9,513.3 381.7,512.9 379.0,513.0C376.3,513.1 376.0,513.5 374.0,512.4C372.0,511.3 372.0,511.1 371.6,509.0C371.2,506.9 371.9,506.5 372.4,504.4C372.9,502.3 372.1,502.3 373.6,501.0ZM372.4,537.6C373.7,536.8 374.2,536.4 376.0,537.0C377.8,537.6 378.5,538.1 379.0,540.0C379.5,541.9 379.1,542.5 378.0,544.0C376.9,545.5 376.6,545.9 375.0,545.6C373.4,545.3 373.1,544.5 372.0,543.0C370.9,541.5 370.9,541.4 371.0,540.0C371.1,538.6 371.1,538.4 372.4,537.6ZM539.6,260.7C545.2,258.9 552.0,260.5 561.4,260.0C570.9,259.6 571.6,258.0 575.1,258.9C578.5,259.8 576.2,260.6 574.4,263.4C572.6,266.3 570.8,266.3 568.2,269.6C565.7,272.9 567.0,272.6 564.8,275.7C562.6,278.8 563.1,278.9 560.1,281.2C557.0,283.5 556.5,283.6 553.2,284.3C550.0,285.1 551.0,284.7 547.8,283.9C544.5,283.1 543.1,283.5 540.9,281.2C538.8,278.8 539.8,278.9 539.6,275.0C539.4,271.2 540.3,270.7 540.3,266.9C540.3,263.0 533.9,262.5 539.6,260.7ZM547.8,284.6C551.8,284.0 556.5,285.1 560.1,287.1C563.6,289.1 561.9,290.5 561.1,292.1C560.4,293.7 559.6,292.5 557.3,293.1C555.0,293.6 554.9,293.1 552.5,294.1C550.2,295.2 550.3,295.1 548.5,296.9C546.6,298.7 547.7,298.9 545.7,301.0C543.7,303.1 542.9,303.9 540.9,304.8C539.0,305.7 539.0,306.0 538.5,304.4C537.9,302.8 538.1,301.8 538.9,298.9C539.7,296.0 540.0,296.0 541.6,293.5C543.3,290.9 543.4,291.7 545.0,289.4C546.7,287.0 543.8,285.2 547.8,284.6ZM561.4,288.7C562.5,287.6 565.0,290.0 568.2,290.0C571.5,290.0 570.8,288.7 573.7,288.7C576.6,288.7 576.6,288.6 579.2,290.0C581.7,291.5 581.6,291.9 583.3,294.1C584.9,296.3 584.2,297.5 585.3,298.2C586.4,299.0 586.3,296.9 587.4,296.9C588.4,296.9 588.7,296.4 589.4,298.2C590.1,300.0 589.7,300.8 590.1,303.7C590.4,306.6 590.4,306.5 590.8,309.1C591.1,311.8 590.0,312.4 591.4,313.5C592.9,314.6 593.5,313.0 596.2,313.4C599.0,313.7 599.2,313.5 601.7,314.7C604.1,316.0 603.8,315.8 605.4,318.0C606.9,320.2 607.1,320.6 607.4,322.9C607.8,325.2 606.4,324.3 606.7,326.6C607.1,328.9 608.1,328.9 608.8,331.7C609.5,334.4 609.5,334.4 609.5,336.9C609.4,339.3 610.0,339.1 608.5,340.9C607.0,342.8 606.5,343.7 603.7,343.7C601.0,343.7 600.5,343.1 598.3,340.9C596.1,338.8 598.1,336.6 595.5,335.5C593.0,334.4 592.4,336.1 588.7,336.9C585.1,337.6 585.9,337.5 581.9,338.2C577.9,338.9 577.3,340.2 573.7,339.6C570.1,338.9 570.8,337.6 568.2,335.8C565.7,333.9 566.3,334.1 564.1,332.8C562.0,331.4 561.9,332.2 560.1,330.7C558.2,329.3 558.8,329.3 557.3,327.3C555.9,325.3 555.9,325.6 554.6,323.2C553.3,320.8 553.3,320.0 552.5,318.4C551.8,316.9 551.7,318.5 551.9,317.3C552.0,316.1 552.1,315.7 553.2,313.9C554.3,312.1 554.1,312.1 556.0,310.5C557.8,308.9 557.9,308.9 560.1,307.8C562.2,306.7 562.1,307.3 564.1,306.4C566.2,305.5 566.8,306.2 567.6,304.4C568.3,302.5 567.8,302.3 566.9,299.6C566.0,296.9 565.6,297.0 564.1,294.1C562.7,291.2 560.3,289.8 561.4,288.7ZM517.5,346.4C518.5,343.7 518.2,344.9 520.5,344.4C522.7,343.8 523.6,343.9 525.9,344.4C528.3,344.8 527.5,345.0 529.3,346.1C531.2,347.2 530.8,347.9 532.8,348.5C534.8,349.0 534.7,348.2 536.9,348.0C539.0,347.9 538.6,347.8 540.9,347.8C543.3,347.8 543.7,348.6 545.7,348.0C547.7,347.5 547.9,347.6 548.5,345.7C549.0,343.8 547.4,343.3 547.8,340.9C548.1,338.6 548.2,339.0 549.8,336.9C551.5,334.7 551.5,334.4 553.9,332.8C556.3,331.1 556.0,330.7 558.7,330.7C561.4,330.7 561.6,331.4 564.1,332.8C566.7,334.1 565.7,333.9 568.2,335.8C570.8,337.6 570.1,338.9 573.7,339.6C577.3,340.2 576.1,337.9 581.9,338.2C587.7,338.6 591.2,338.8 595.5,340.9C599.9,343.1 596.1,345.3 598.3,346.4C600.5,347.5 600.8,345.2 603.7,345.0C606.6,344.9 607.3,344.3 609.2,345.7C611.1,347.2 610.6,348.0 610.8,350.5C611.0,353.0 609.2,353.1 609.9,355.3C610.5,357.5 611.6,356.5 613.3,358.7C614.9,360.9 614.7,360.9 616.0,363.5C617.3,366.0 616.4,366.2 618.1,368.2C619.7,370.2 620.2,369.0 622.2,371.0C624.1,373.0 624.5,372.8 625.3,375.8C626.1,378.7 625.8,378.8 625.3,381.9C624.8,385.0 624.7,384.8 623.5,387.4C622.3,389.9 622.4,389.4 620.8,391.4C619.2,393.4 619.4,393.2 617.4,394.9C615.4,396.5 615.7,397.0 613.3,397.6C610.9,398.2 610.5,398.3 608.5,397.2C606.5,396.1 607.2,395.6 605.8,393.5C604.3,391.4 604.5,391.4 603.0,389.4C601.6,387.4 601.5,388.0 600.3,386.0C599.1,384.0 598.8,384.3 598.5,381.9C598.3,379.5 598.6,379.8 599.4,377.1C600.1,374.4 600.5,374.4 601.3,371.7C602.0,368.9 602.3,369.4 602.1,366.9C601.8,364.3 602.1,363.7 600.3,362.1C598.6,360.5 598.6,361.0 595.5,360.7C592.4,360.5 591.6,360.7 588.7,361.1C585.8,361.6 586.3,361.3 584.6,362.5C583.0,363.7 583.3,363.3 582.6,365.5C581.8,367.8 582.1,368.1 581.9,371.0C581.6,373.9 581.8,373.5 581.6,376.4C581.5,379.3 581.8,379.5 581.3,381.9C580.9,384.3 581.5,384.4 579.8,385.3C578.2,386.2 578.2,385.5 575.1,385.3C572.0,385.1 570.8,385.2 568.2,384.6C565.7,384.1 566.6,384.7 565.5,383.3C564.4,381.8 564.8,381.3 564.1,379.2C563.5,377.0 563.9,376.7 563.1,375.1C562.3,373.4 562.1,373.2 561.1,373.0C560.2,372.8 560.0,372.7 559.4,374.4C558.7,376.0 559.1,376.8 558.7,379.2C558.3,381.5 558.9,381.6 558.0,383.3C557.1,384.9 557.3,384.9 555.3,385.3C553.3,385.7 552.7,385.6 550.5,384.9C548.3,384.2 548.5,384.3 547.1,382.6C545.6,380.9 545.9,380.6 545.0,378.5C544.2,376.4 544.9,376.4 543.9,374.8C543.0,373.2 543.2,373.4 541.6,372.3C540.1,371.2 540.2,371.4 538.2,370.7C536.2,370.0 536.3,370.1 534.1,369.9C531.9,369.7 532.2,369.8 530.0,369.9C527.8,370.0 528.1,370.4 525.9,370.3C523.7,370.2 523.7,370.5 521.8,369.6C520.0,368.7 520.3,369.1 519.1,366.9C517.9,364.7 518.1,364.7 517.5,361.4C516.8,358.1 516.7,358.6 516.7,354.6C516.7,350.6 516.5,349.1 517.5,346.4ZM527.3,336.2C528.6,333.4 529.3,332.8 532.1,331.4C534.8,329.9 534.8,330.0 537.5,330.7C540.3,331.4 540.7,331.8 542.3,334.1C543.9,336.5 543.8,336.7 543.4,339.6C543.0,342.5 543.0,343.0 540.9,345.0C538.9,347.0 538.5,346.9 535.8,347.1C533.0,347.3 533.0,347.2 530.7,345.7C528.5,344.3 528.2,344.2 527.3,341.6C526.4,339.1 526.0,338.9 527.3,336.2ZM518.4,329.3C519.4,327.7 520.3,326.9 521.8,327.3C523.4,327.7 523.7,328.5 524.3,330.7C524.8,332.9 524.6,333.3 523.9,335.5C523.2,337.7 522.8,338.4 521.6,338.9C520.3,339.4 520.1,339.0 519.1,337.5C518.2,336.1 518.2,335.6 518.0,333.4C517.8,331.3 517.4,331.0 518.4,329.3ZM636.0,302.4C637.6,299.3 639.2,300.1 642.4,300.4C645.6,300.7 646.2,301.0 648.0,303.6C649.8,306.2 649.5,307.0 649.0,310.0C648.5,313.0 648.3,313.5 646.0,315.0C643.7,316.5 643.0,316.4 640.4,315.6C637.8,314.8 637.6,315.5 636.4,312.0C635.2,308.5 634.4,305.5 636.0,302.4ZM661.0,285.6C662.1,283.7 663.3,284.1 666.0,285.0C668.7,285.9 669.1,286.9 671.0,289.0C672.9,291.1 673.3,290.6 673.0,293.0C672.7,295.4 671.9,295.3 670.0,298.0C668.1,300.7 668.1,300.9 666.0,303.0C663.9,305.1 663.9,305.7 662.0,306.0C660.1,306.3 659.5,306.1 659.0,304.0C658.5,301.9 659.2,301.2 660.0,298.0C660.8,294.8 661.7,295.3 662.0,292.0C662.3,288.7 659.9,287.5 661.0,285.6ZM662.0,309.0C663.2,306.9 664.8,307.5 668.0,308.0C671.2,308.5 671.3,308.9 674.0,311.0C676.7,313.1 676.7,313.1 678.0,316.0C679.3,318.9 679.3,318.8 679.0,322.0C678.7,325.2 678.6,325.9 677.0,328.0C675.4,330.1 675.1,330.3 673.0,330.0C670.9,329.7 670.9,329.1 669.0,327.0C667.1,324.9 667.4,324.9 666.0,322.0C664.6,319.1 664.7,319.5 663.6,316.0C662.5,312.5 660.8,311.1 662.0,309.0ZM694.0,317.0C695.4,314.8 696.6,315.2 699.0,315.6C701.4,316.0 701.7,316.4 703.0,318.4C704.3,320.4 704.5,320.7 704.0,323.0C703.5,325.3 702.9,325.8 701.0,327.0C699.1,328.2 699.0,328.4 697.0,327.6C695.0,326.8 694.4,326.8 693.6,324.0C692.8,321.2 692.6,319.2 694.0,317.0ZM702.4,291.6C703.4,290.2 704.4,290.5 706.0,291.0C707.6,291.5 707.9,291.8 708.4,293.6C708.9,295.4 708.9,296.2 708.0,297.6C707.1,299.0 706.5,299.3 705.0,299.0C703.5,298.7 703.1,298.4 702.4,296.4C701.7,294.4 701.4,293.0 702.4,291.6ZM654.0,265.6C655.0,264.2 656.1,264.5 658.0,265.0C659.9,265.5 660.4,266.0 661.0,267.6C661.6,269.2 661.3,269.7 660.4,271.0C659.5,272.3 659.2,272.6 657.6,272.4C656.0,272.2 655.4,272.2 654.4,270.4C653.4,268.6 653.0,267.0 654.0,265.6ZM649.6,274.4C650.5,272.8 651.3,273.2 653.0,273.6C654.7,274.0 655.3,274.4 656.0,276.0C656.7,277.6 656.6,278.1 655.6,279.6C654.6,281.1 654.0,281.6 652.4,281.6C650.8,281.6 650.3,281.5 649.6,279.6C648.9,277.7 648.7,276.0 649.6,274.4ZM681.0,257.0C682.6,255.5 683.6,255.5 686.0,256.0C688.4,256.5 688.9,257.0 690.0,259.0C691.1,261.0 690.8,261.6 690.0,263.6C689.2,265.6 689.0,265.9 687.0,266.4C685.0,266.9 684.3,266.9 682.4,265.6C680.5,264.3 680.4,263.9 680.0,261.6C679.6,259.3 679.4,258.5 681.0,257.0ZM687.0,270.0C689.0,268.1 688.6,268.8 691.0,268.0C693.4,267.2 693.9,266.5 696.0,267.0C698.1,267.5 698.7,268.1 699.0,270.0C699.3,271.9 697.8,271.6 697.0,274.0C696.2,276.4 697.1,276.8 696.0,279.0C694.9,281.2 694.6,281.9 693.0,282.4C691.4,282.9 691.3,282.4 690.0,281.0C688.7,279.6 689.3,277.8 688.0,277.0C686.7,276.2 686.2,278.5 685.0,278.0C683.8,277.5 683.1,277.1 683.6,275.0C684.1,272.9 685.0,271.9 687.0,270.0ZM643.0,242.0C643.9,240.4 645.1,240.6 647.0,241.0C648.9,241.4 649.3,242.0 650.0,243.6C650.7,245.2 650.6,245.6 649.6,247.0C648.6,248.4 648.0,249.0 646.4,249.0C644.8,249.0 644.5,248.9 643.6,247.0C642.7,245.1 642.1,243.6 643.0,242.0ZM634.1,345.5C635.0,342.6 635.9,342.9 638.2,340.0C640.6,337.1 640.6,336.2 643.0,334.6C645.4,332.9 645.5,333.0 647.1,333.9C648.7,334.8 648.7,335.3 649.1,338.0C649.6,340.7 648.5,341.0 648.9,344.1C649.2,347.2 649.0,347.9 650.5,349.6C652.0,351.2 652.0,349.9 654.6,350.3C657.1,350.6 657.5,351.3 660.1,350.9C662.6,350.6 662.3,350.4 664.1,348.9C666.0,347.4 665.2,346.8 666.9,345.5C668.5,344.2 669.2,343.4 670.3,344.1C671.4,344.8 670.2,346.4 671.0,348.2C671.7,350.0 671.2,349.9 673.0,350.9C674.8,352.0 675.8,352.7 677.8,352.3C679.8,351.9 679.4,351.4 680.5,349.6C681.6,347.8 680.8,346.6 681.9,345.5C683.0,344.4 682.8,344.8 684.6,345.5C686.4,346.2 686.5,346.4 688.7,348.2C690.9,350.0 691.0,350.5 692.8,352.3C694.6,354.1 696.3,353.8 695.5,355.0C694.8,356.3 693.0,355.8 690.1,357.1C687.2,358.4 686.8,358.7 684.6,359.8C682.4,360.9 681.2,359.2 681.9,361.2C682.6,363.2 683.7,366.2 687.4,367.3C691.0,368.4 692.6,366.0 695.5,365.3C698.5,364.5 697.7,363.0 698.5,364.6C699.3,366.2 699.7,368.1 698.5,371.4C697.4,374.7 696.1,374.0 694.2,376.9C692.2,379.8 692.1,379.1 691.2,382.3C690.3,385.6 691.8,386.1 690.8,389.2C689.7,392.3 689.4,391.4 687.4,393.9C685.4,396.5 685.4,396.0 683.3,398.7C681.1,401.4 681.2,401.3 679.2,404.2C677.2,407.1 677.6,407.1 675.8,409.6C673.9,412.2 674.2,412.5 672.3,413.7C670.5,415.0 670.7,415.0 668.9,414.4C667.1,413.9 667.3,413.3 665.5,411.7C663.7,410.0 663.9,409.9 662.1,408.3C660.3,406.6 660.3,407.2 658.7,405.5C657.1,403.9 656.1,404.3 656.0,402.1C655.8,399.9 658.4,399.7 658.0,397.4C657.6,395.0 656.6,395.4 654.6,393.3C652.6,391.1 652.7,391.0 650.5,389.2C648.3,387.3 649.0,387.9 646.4,386.4C643.9,385.0 643.7,385.2 640.9,383.7C638.2,382.2 638.4,382.8 636.2,381.0C634.0,379.2 634.4,379.4 632.8,376.9C631.1,374.3 630.9,374.3 630.0,371.4C629.1,368.5 628.8,367.8 629.3,366.0C629.9,364.1 630.6,365.7 632.1,364.6C633.5,363.5 633.8,364.0 634.8,361.9C635.8,359.7 635.8,359.3 635.8,356.4C635.8,353.5 635.2,353.9 634.8,350.9C634.4,348.0 633.2,348.4 634.1,345.5ZM660.1,406.2C661.1,405.5 662.1,406.8 664.1,408.3C666.2,409.7 666.5,409.5 667.6,411.7C668.7,413.9 668.8,414.8 668.2,416.5C667.7,418.1 667.2,418.2 665.5,417.8C663.9,417.5 663.6,416.9 662.1,415.1C660.6,413.3 660.6,413.4 660.1,411.0C659.5,408.6 659.0,407.0 660.1,406.2ZM666.2,419.2C667.3,417.9 668.2,417.3 669.6,417.8C671.1,418.4 671.3,419.1 671.7,421.2C672.0,423.4 672.1,424.7 671.0,426.0C669.9,427.3 669.0,426.9 667.6,426.0C666.1,425.1 665.9,424.4 665.5,422.6C665.2,420.8 665.1,420.5 666.2,419.2ZM712.0,309.0C713.4,307.7 714.6,307.3 717.0,307.6C719.4,307.9 719.8,308.4 721.0,310.0C722.2,311.6 722.3,312.0 721.6,313.6C720.9,315.2 720.4,315.5 718.4,316.0C716.4,316.5 715.8,316.6 714.0,315.6C712.2,314.6 712.1,314.2 711.6,312.4C711.1,310.6 710.6,310.3 712.0,309.0ZM712.3,309.4C713.3,307.7 713.9,306.9 716.1,306.6C718.3,306.4 719.1,306.8 720.5,308.4C721.8,310.1 721.7,311.0 721.2,312.8C720.6,314.6 720.2,314.6 718.4,315.2C716.6,315.9 716.0,315.9 714.3,315.2C712.7,314.6 712.8,314.3 712.3,312.8C711.7,311.2 711.3,311.0 712.3,309.4ZM709.6,271.8C710.3,268.6 710.6,268.3 712.6,266.7C714.6,265.0 714.8,265.2 717.1,265.7C719.4,266.2 719.3,266.4 721.2,268.4C723.0,270.4 722.4,271.0 723.9,273.2C725.3,275.4 726.1,275.0 726.6,276.6C727.2,278.3 727.2,278.8 725.9,279.3C724.7,279.9 724.0,278.7 721.8,278.7C719.7,278.7 719.9,278.8 717.7,279.3C715.6,279.9 715.8,280.9 713.6,280.7C711.5,280.5 710.9,281.0 709.8,278.7C708.7,276.3 708.8,275.0 709.6,271.8ZM708.5,282.1C709.5,280.7 709.8,280.3 712.3,279.3C714.8,278.4 714.8,278.7 717.7,278.7C720.7,278.7 720.7,278.6 723.2,279.3C725.8,280.1 726.4,280.0 727.3,281.4C728.2,282.7 728.1,283.7 726.6,284.4C725.2,285.1 724.6,284.0 721.8,284.1C719.1,284.2 719.1,284.4 716.4,284.8C713.6,285.2 713.7,285.6 711.6,285.5C709.5,285.4 709.3,285.3 708.5,284.4C707.6,283.5 707.4,283.4 708.5,282.1ZM702.5,293.7C703.2,292.2 703.3,291.5 704.8,290.9C706.2,290.4 706.8,290.6 707.9,291.6C709.0,292.6 709.1,293.1 708.9,294.8C708.7,296.5 708.4,297.1 707.1,298.0C705.8,299.0 705.2,298.9 703.8,298.5C702.5,298.0 702.4,297.7 702.0,296.4C701.7,295.1 701.7,295.1 702.5,293.7ZM728.0,284.8C729.4,282.7 729.8,281.8 732.8,281.1C735.7,280.4 736.7,282.7 738.9,282.1C741.1,281.4 740.0,281.2 740.9,278.7C741.9,276.1 741.2,274.9 742.3,272.5C743.4,270.2 743.5,270.2 745.0,269.8C746.6,269.4 747.0,269.5 748.0,271.2C749.1,272.8 748.4,273.7 749.1,275.9C749.9,278.1 749.5,278.4 750.8,279.3C752.0,280.3 752.3,280.1 753.9,279.3C755.5,278.6 755.6,276.3 756.6,276.6C757.7,277.0 758.0,278.3 758.0,280.7C758.0,283.1 757.7,283.3 756.6,285.5C755.6,287.7 754.1,287.4 753.9,288.9C753.7,290.4 754.7,290.8 756.0,290.9C757.2,291.1 757.1,290.1 758.7,289.6C760.3,289.0 760.6,288.5 762.1,288.9C763.6,289.3 763.8,289.3 764.1,290.9C764.5,292.6 764.4,293.2 763.5,295.0C762.6,296.9 762.2,296.1 760.7,297.8C759.3,299.4 759.3,299.4 758.0,301.2C756.7,303.0 757.2,303.0 756.0,304.6C754.7,306.2 754.9,306.9 753.2,307.3C751.6,307.8 751.6,306.8 749.8,306.2C748.0,305.7 748.4,305.9 746.4,305.3C744.4,304.7 744.3,303.7 742.3,303.9C740.3,304.1 740.2,304.3 738.9,306.0C737.6,307.6 738.6,308.2 737.5,310.1C736.4,311.9 736.4,312.5 734.8,313.1C733.2,313.6 732.9,313.4 731.7,312.1C730.4,310.8 730.4,310.4 730.0,308.0C729.7,305.6 730.6,305.8 730.3,303.2C730.0,300.7 729.6,301.0 728.9,298.5C728.3,295.9 728.4,296.2 728.0,293.7C727.5,291.1 727.3,291.3 727.3,288.9C727.3,286.5 726.5,286.9 728.0,284.8ZM748.5,322.3C749.9,319.4 751.0,320.0 753.0,318.9C755.0,317.8 755.3,319.5 756.0,318.2C756.6,317.0 755.4,316.3 755.3,314.1C755.2,312.0 755.0,312.2 755.7,310.1C756.4,307.9 756.5,307.6 758.0,306.0C759.5,304.3 759.8,305.4 761.4,303.9C763.1,302.5 763.1,302.5 764.1,300.5C765.2,298.5 765.2,298.8 765.5,296.4C765.8,294.0 764.9,293.6 765.2,291.6C765.6,289.6 765.2,289.7 766.9,288.9C768.6,288.1 769.5,288.1 771.7,288.5C773.8,288.9 773.9,288.5 775.1,290.3C776.3,292.0 775.3,293.2 776.2,295.0C777.1,296.9 777.0,296.7 778.5,297.1C780.0,297.5 780.1,297.4 781.9,296.4C783.7,295.4 783.3,294.7 785.3,293.4C787.3,292.1 787.0,292.3 789.4,291.6C791.8,291.0 791.6,290.9 794.2,290.9C796.7,290.9 796.4,291.0 799.0,291.6C801.5,292.3 801.2,292.7 803.7,293.4C806.3,294.1 806.0,293.7 808.5,294.4C811.1,295.0 810.9,295.0 813.3,295.7C815.7,296.5 815.0,296.4 817.4,297.1C819.7,297.8 819.6,297.9 822.2,298.5C824.7,299.0 824.7,298.2 826.9,299.1C829.1,300.0 829.1,300.0 830.3,301.9C831.6,303.7 830.6,305.4 831.7,306.0C832.8,306.5 832.8,304.8 834.4,303.9C836.1,303.0 835.9,302.5 837.9,302.5C839.9,302.5 840.1,302.6 841.9,303.9C843.8,305.2 843.8,305.0 844.7,307.3C845.6,309.7 845.7,309.9 845.4,312.8C845.0,315.7 844.6,315.7 843.3,318.2C842.0,320.8 842.4,320.7 840.6,322.3C838.8,324.0 838.9,323.8 836.5,324.4C834.1,324.9 833.9,324.9 831.7,324.4C829.5,323.8 829.8,324.0 828.3,322.3C826.8,320.7 827.5,320.1 826.3,318.2C825.0,316.4 825.0,316.6 823.5,315.5C822.1,314.4 822.1,313.8 820.8,314.1C819.5,314.5 819.4,314.7 818.7,316.9C818.1,319.1 819.0,319.4 818.5,322.3C817.9,325.3 817.9,325.3 816.7,327.8C815.5,330.3 815.8,330.3 814.0,331.9C812.1,333.5 811.9,333.6 809.9,333.9C807.8,334.3 807.5,332.7 806.2,333.3C804.9,333.8 805.9,334.3 805.1,336.0C804.3,337.6 804.3,337.7 803.0,339.4C801.8,341.1 801.9,340.9 800.3,342.5C798.8,344.2 798.8,344.2 797.2,345.5C795.5,346.9 795.9,346.7 794.2,347.6C792.5,348.5 792.6,348.0 790.8,349.0C788.9,349.9 789.2,349.7 787.4,351.0C785.5,352.3 785.6,352.1 783.9,353.7C782.3,355.4 782.7,355.3 781.2,357.1C779.8,359.0 779.9,358.9 778.5,360.6C777.0,362.2 777.4,362.3 775.8,363.3C774.1,364.3 774.0,364.7 772.3,364.4C770.7,364.0 770.8,363.7 769.6,361.9C768.4,360.2 768.8,360.0 768.0,357.8C767.2,355.6 767.4,355.7 766.6,353.7C765.8,351.7 765.9,352.1 764.8,350.3C763.7,348.6 763.6,349.2 762.5,347.2C761.4,345.2 761.4,345.1 760.7,342.8C760.1,340.6 760.8,340.2 760.1,338.7C759.3,337.3 759.5,337.5 758.0,337.4C756.6,337.2 756.4,338.0 754.6,338.0C752.8,338.0 752.7,338.3 751.2,337.4C749.7,336.4 749.8,336.6 748.9,334.6C747.9,332.6 747.6,333.1 747.5,329.8C747.4,326.6 747.0,325.3 748.5,322.3ZM841.4,273.2C842.7,271.6 842.9,271.9 845.5,270.5C848.0,269.0 848.0,269.6 850.9,267.7C853.9,265.9 853.1,264.9 856.4,263.6C859.7,262.4 860.0,263.5 863.2,263.0C866.5,262.4 865.8,262.1 868.7,261.6C871.6,261.1 871.2,260.9 874.1,260.9C877.1,260.9 876.9,262.3 879.6,261.6C882.3,260.9 882.6,260.0 884.4,258.2C886.2,256.4 885.0,255.9 886.4,254.8C887.9,253.7 888.4,253.5 889.8,254.1C891.3,254.6 891.5,255.2 891.9,256.8C892.3,258.5 890.5,259.0 891.2,260.2C891.9,261.5 893.0,260.7 894.6,261.6C896.3,262.5 896.8,262.2 897.4,263.6C897.9,265.1 897.6,265.6 896.7,267.1C895.8,268.5 895.2,267.8 893.9,269.1C892.7,270.4 893.3,270.6 891.9,271.8C890.4,273.1 889.9,272.6 888.5,273.9C887.0,275.2 885.9,275.5 886.4,276.6C887.0,277.7 888.2,277.3 890.5,278.0C892.9,278.7 894.4,278.3 895.3,279.3C896.2,280.4 895.6,281.0 893.9,282.1C892.3,283.2 891.7,282.7 889.2,283.4C886.6,284.2 886.8,284.1 884.4,284.8C882.0,285.5 882.3,285.3 880.3,286.2C878.3,287.1 878.5,286.9 876.9,288.2C875.2,289.5 875.4,289.5 874.1,290.9C872.9,292.4 873.6,292.6 872.1,293.7C870.6,294.8 870.7,294.1 868.7,295.0C866.7,296.0 866.2,295.8 864.6,297.1C863.0,298.4 864.0,299.3 862.5,299.8C861.1,300.4 860.6,300.2 859.1,299.1C857.7,298.0 857.5,297.5 857.1,295.7C856.7,293.9 858.3,293.6 857.8,292.3C857.2,291.0 856.7,291.7 855.0,290.9C853.4,290.2 853.3,290.7 851.6,289.6C850.0,288.5 850.4,288.5 848.9,286.9C847.4,285.2 847.8,285.1 846.2,283.4C844.5,281.8 844.2,282.5 842.8,280.7C841.3,278.9 841.1,278.6 840.7,276.6C840.3,274.6 840.1,274.8 841.4,273.2ZM850.9,321.0C852.2,319.7 853.5,319.6 856.4,319.6C859.3,319.6 859.3,320.1 861.9,321.0C864.4,321.9 864.0,323.0 866.0,323.0C868.0,323.0 867.6,322.1 869.4,321.0C871.2,319.9 870.4,319.8 872.8,318.9C875.2,318.0 875.3,318.1 878.2,317.6C881.2,317.0 881.2,316.7 883.7,316.9C886.3,317.1 886.9,317.0 887.8,318.2C888.7,319.5 888.0,319.8 887.1,321.7C886.2,323.5 886.0,323.4 884.4,325.1C882.7,326.7 883.0,326.5 881.0,327.8C879.0,329.1 879.2,328.9 876.9,329.8C874.5,330.8 874.6,330.7 872.1,331.2C869.6,331.8 869.3,332.1 867.3,331.9C865.3,331.7 865.9,331.6 864.6,330.5C863.3,329.4 864.0,328.7 862.5,327.8C861.1,326.9 861.1,327.5 859.1,327.1C857.1,326.8 857.0,327.2 855.0,326.4C853.0,325.7 852.7,325.8 851.6,324.4C850.5,322.9 849.7,322.2 850.9,321.0ZM857.1,336.7C857.6,335.0 858.6,335.0 860.5,334.9C862.4,334.8 863.2,335.1 864.3,336.3C865.4,337.5 865.3,337.9 864.6,339.4C863.9,340.9 863.5,341.2 861.9,341.7C860.2,342.2 859.7,342.5 858.5,341.2C857.2,339.8 856.5,338.3 857.1,336.7ZM831.8,300.5C833.1,298.9 833.4,298.5 835.9,297.8C838.5,297.0 838.8,297.0 841.4,297.8C844.0,298.5 844.3,298.7 845.8,300.5C847.2,302.3 847.1,302.4 846.9,304.6C846.6,306.8 846.4,307.1 844.8,308.7C843.2,310.3 842.9,310.4 840.7,310.7C838.5,311.1 838.6,311.0 836.6,310.1C834.6,309.1 834.7,309.0 833.2,307.3C831.7,305.7 831.5,305.7 831.2,303.9C830.8,302.1 830.6,302.1 831.8,300.5ZM826.4,307.3C828.1,305.3 828.6,305.3 831.8,304.6C835.1,303.9 835.4,303.9 838.7,304.6C841.9,305.3 841.8,305.3 844.1,307.3C846.5,309.3 846.4,309.4 847.5,312.1C848.6,314.8 847.3,315.2 848.2,317.6C849.1,319.9 850.6,318.6 850.9,321.0C851.3,323.3 851.0,324.2 849.6,326.4C848.1,328.6 847.9,328.8 845.5,329.2C843.1,329.5 842.9,329.1 840.7,327.8C838.5,326.5 839.3,325.7 837.3,324.4C835.3,323.1 835.4,323.9 833.2,323.0C831.0,322.1 830.9,322.6 829.1,321.0C827.3,319.3 827.4,319.2 826.4,316.9C825.4,314.5 825.3,314.6 825.3,312.1C825.3,309.6 824.6,309.3 826.4,307.3ZM825.7,338.7C826.8,336.5 827.4,337.0 830.5,336.7C833.6,336.3 833.7,336.8 837.3,337.4C840.9,337.9 840.8,338.0 844.1,338.7C847.4,339.4 847.0,338.6 849.6,340.1C852.1,341.5 851.7,342.0 853.7,344.2C855.7,346.4 855.6,345.7 857.1,348.3C858.5,350.8 858.8,350.8 859.1,353.7C859.5,356.6 859.4,356.3 858.5,359.2C857.5,362.1 857.4,362.8 855.7,364.6C854.1,366.5 853.9,366.7 852.3,366.0C850.7,365.3 851.0,364.1 849.6,361.9C848.1,359.7 848.7,359.3 846.9,357.8C845.0,356.4 845.1,357.0 842.8,356.5C840.4,355.9 840.5,356.5 838.0,355.8C835.4,355.1 835.6,355.4 833.2,353.7C830.8,352.1 830.9,352.0 829.1,349.6C827.3,347.3 827.3,347.8 826.4,344.9C825.5,341.9 824.6,340.9 825.7,338.7ZM889.2,321.0C889.9,318.8 890.5,318.9 891.6,318.9C892.8,318.9 893.2,319.2 893.5,321.0C893.9,322.8 893.7,323.6 893.0,325.8C892.3,327.9 891.9,328.8 890.8,329.2C889.7,329.5 889.3,329.3 888.9,327.1C888.5,324.9 888.4,323.2 889.2,321.0ZM889.4,341.4C890.0,339.3 890.6,339.9 891.9,340.1C893.2,340.3 893.8,340.1 894.3,342.1C894.9,344.1 894.6,345.4 893.9,347.6C893.3,349.8 893.0,350.1 891.9,350.3C890.8,350.5 890.5,350.6 889.8,348.3C889.2,345.9 888.9,343.6 889.4,341.4ZM907.6,282.1C908.6,280.4 909.4,280.5 911.0,280.7C912.6,280.9 912.8,281.3 913.7,282.8C914.6,284.2 914.8,284.5 914.4,286.2C914.0,287.8 913.8,288.0 912.4,288.9C910.9,289.8 910.3,290.1 909.0,289.6C907.6,289.0 907.5,288.9 907.2,286.9C906.8,284.8 906.6,283.7 907.6,282.1ZM915.1,292.3C916.2,290.1 916.6,290.7 919.2,289.6C921.7,288.5 921.7,289.2 924.6,288.2C927.6,287.2 927.4,287.2 930.1,285.8C932.8,284.3 932.3,283.9 934.9,282.8C937.4,281.6 937.1,281.6 939.7,281.4C942.2,281.2 943.0,281.0 944.4,282.1C945.9,283.2 945.7,283.8 945.1,285.5C944.6,287.1 944.4,287.1 942.4,288.2C940.4,289.3 940.2,288.9 937.6,289.6C935.1,290.3 935.4,290.2 932.8,290.9C930.3,291.7 930.6,291.6 928.1,292.3C925.5,293.0 925.7,292.8 923.3,293.7C920.9,294.6 920.8,294.1 919.2,295.7C917.6,297.4 918.2,299.3 917.1,299.8C916.1,300.4 915.6,299.8 915.1,297.8C914.5,295.8 914.0,294.5 915.1,292.3ZM915.0,437.0C916.6,434.9 916.5,436.0 920.0,436.0C923.5,436.0 924.3,436.5 928.0,437.0C931.7,437.5 932.4,435.6 934.0,438.0C935.6,440.4 932.9,442.3 934.0,446.0C935.1,449.7 935.6,449.3 938.0,452.0C940.4,454.7 940.9,457.1 943.0,456.0C945.1,454.9 944.9,452.3 946.0,448.0C947.1,443.7 946.2,443.2 947.0,440.0C947.8,436.8 947.7,435.5 949.0,436.0C950.3,436.5 950.9,438.3 952.0,442.0C953.1,445.7 953.3,445.7 953.0,450.0C952.7,454.3 952.6,454.3 951.0,458.0C949.4,461.7 949.7,461.3 947.0,464.0C944.3,466.7 944.5,466.5 941.0,468.0C937.5,469.5 937.7,469.7 934.0,469.6C930.3,469.5 930.5,469.2 927.0,467.6C923.5,466.0 923.7,466.2 921.0,463.6C918.3,461.0 918.6,461.4 917.0,458.0C915.4,454.6 915.8,454.7 915.0,451.0C914.2,447.3 914.0,447.7 914.0,444.0C914.0,440.3 913.4,439.1 915.0,437.0ZM1013.6,547.0C1013.9,545.4 1014.6,545.3 1016.0,545.0C1017.4,544.7 1018.5,544.8 1019.0,546.0C1019.5,547.2 1019.1,548.3 1018.0,549.6C1016.9,550.9 1016.2,551.7 1015.0,551.0C1013.8,550.3 1013.3,548.6 1013.6,547.0ZM936.0,424.4C936.6,423.6 937.5,423.5 938.4,424.0C939.3,424.5 939.6,425.3 939.4,426.4C939.2,427.5 938.5,427.8 937.6,428.0C936.7,428.2 936.4,428.0 936.0,427.0C935.6,426.0 935.4,425.2 936.0,424.4ZM611.0,494.0C612.1,492.8 612.9,493.3 615.0,493.6C617.1,493.9 617.1,493.6 619.0,495.0C620.9,496.4 621.5,496.6 622.0,499.0C622.5,501.4 621.5,501.3 621.0,504.0C620.5,506.7 620.8,506.8 620.0,509.0C619.2,511.2 619.5,511.7 618.0,512.4C616.5,513.1 615.6,513.0 614.4,511.6C613.2,510.2 614.1,509.6 613.6,507.0C613.1,504.4 613.1,504.4 612.4,502.0C611.7,499.6 611.4,500.1 611.0,498.0C610.6,495.9 609.9,495.2 611.0,494.0ZM624.0,501.0C625.4,499.0 626.6,499.1 629.0,497.0C631.4,494.9 631.1,494.6 633.0,493.0C634.9,491.4 634.9,490.5 636.0,491.0C637.1,491.5 637.3,492.6 637.0,495.0C636.7,497.4 635.9,497.3 635.0,500.0C634.1,502.7 634.9,503.0 633.6,505.0C632.3,507.0 632.0,507.1 630.0,507.6C628.0,508.1 627.7,507.9 626.0,507.0C624.3,506.1 624.1,506.0 623.6,504.4C623.1,502.8 622.6,503.0 624.0,501.0ZM637.6,502.0C638.2,500.9 639.0,500.5 640.0,501.0C641.0,501.5 641.3,502.6 641.2,504.0C641.1,505.4 640.6,506.1 639.6,506.4C638.6,506.7 638.1,506.2 637.6,505.0C637.1,503.8 637.0,503.1 637.6,502.0ZM681.0,469.6C681.9,468.4 682.8,468.0 684.4,468.4C686.0,468.8 686.6,469.4 687.0,471.0C687.4,472.6 687.1,473.2 686.0,474.4C684.9,475.6 684.3,476.0 683.0,475.6C681.7,475.2 681.5,474.6 681.0,473.0C680.5,471.4 680.1,470.8 681.0,469.6ZM683.0,457.0C683.4,455.9 684.3,455.6 685.0,456.4C685.7,457.2 686.0,458.9 685.6,460.0C685.2,461.1 684.3,461.2 683.6,460.4C682.9,459.6 682.6,458.1 683.0,457.0ZM665.6,420.0C666.7,418.8 667.4,418.2 669.0,419.0C670.6,419.8 670.9,420.3 671.6,423.0C672.3,425.7 672.3,426.9 671.6,429.0C670.9,431.1 670.5,431.3 669.0,431.0C667.5,430.7 667.1,430.0 666.0,428.0C664.9,426.0 665.1,425.7 665.0,423.6C664.9,421.5 664.5,421.2 665.6,420.0ZM660.0,412.0C660.8,410.7 662.4,410.5 664.0,411.0C665.6,411.5 665.9,412.4 666.0,414.0C666.1,415.6 665.7,416.5 664.4,417.0C663.1,417.5 662.2,417.3 661.0,416.0C659.8,414.7 659.2,413.3 660.0,412.0ZM622.0,207.0C623.9,204.9 625.3,204.2 628.0,205.0C630.7,205.8 631.2,207.1 632.0,210.0C632.8,212.9 632.9,214.1 631.0,216.0C629.1,217.9 627.7,217.8 625.0,217.0C622.3,216.2 621.8,215.7 621.0,213.0C620.2,210.3 620.1,209.1 622.0,207.0Z" fill="#ffff00" stroke="none"/>
<path d="M289.6,287.6C291.0,286.4 292.4,286.2 294.0,287.6C295.6,289.0 294.8,290.0 295.6,293.0C296.4,296.0 296.1,296.0 297.0,299.0C297.9,302.0 298.6,301.7 299.0,304.4C299.4,307.1 299.1,306.7 298.4,309.0C297.7,311.3 297.5,311.0 296.4,313.0C295.3,315.0 295.1,314.5 294.4,316.4C293.7,318.3 293.6,317.9 293.6,320.0C293.6,322.1 293.7,322.0 294.4,324.4C295.1,326.8 295.0,326.5 296.4,329.0C297.8,331.5 297.7,331.3 299.6,333.6C301.5,335.9 301.4,335.8 303.6,337.6C305.8,339.4 305.5,339.3 308.0,340.4C310.5,341.5 310.3,341.3 313.0,341.6C315.7,341.9 315.7,341.8 318.0,341.6C320.3,341.4 320.1,340.4 321.6,341.0C323.1,341.6 323.1,341.9 323.6,344.0C324.1,346.1 324.0,346.4 323.6,349.0C323.2,351.6 323.1,352.0 322.0,353.6C320.9,355.2 321.2,355.3 319.6,355.0C318.0,354.7 318.0,353.7 316.0,352.4C314.0,351.1 314.1,350.9 312.0,350.0C309.9,349.1 310.4,349.6 308.0,349.0C305.6,348.4 305.7,348.5 303.0,347.6C300.3,346.7 300.7,346.8 298.0,345.6C295.3,344.4 295.7,344.4 293.0,343.0C290.3,341.6 290.4,341.8 288.0,340.4C285.6,339.0 285.6,339.4 284.0,337.6C282.4,335.8 282.4,335.7 282.0,333.6C281.6,331.5 281.6,331.2 282.4,329.6C283.2,328.0 283.4,328.3 285.0,327.6C286.6,326.9 287.2,328.1 288.4,327.0C289.6,325.9 289.4,325.5 289.6,323.6C289.8,321.7 289.3,321.8 289.0,320.0C288.7,318.2 289.3,317.6 288.4,317.0C287.5,316.4 287.2,317.6 285.6,317.6C284.0,317.6 284.0,317.7 282.4,317.0C280.8,316.3 280.7,316.2 279.6,315.0C278.5,313.8 278.3,313.8 278.4,312.4C278.5,311.0 278.6,310.8 280.0,309.6C281.4,308.4 281.7,308.9 283.6,308.0C285.5,307.1 285.8,307.7 287.0,306.4C288.2,305.1 287.6,305.2 288.0,303.0C288.4,300.8 288.2,300.9 288.4,298.0C288.6,295.1 288.5,294.8 288.8,292.0C289.1,289.2 288.2,288.8 289.6,287.6ZM362.0,367.0C363.1,365.9 363.9,365.5 365.0,366.0C366.1,366.5 366.4,367.7 366.0,369.0C365.6,370.3 364.9,370.7 363.6,371.0C362.3,371.3 361.4,371.1 361.0,370.0C360.6,368.9 360.9,368.1 362.0,367.0ZM348.0,404.4C349.4,403.5 350.4,404.4 352.4,405.6C354.4,406.8 355.4,407.0 355.6,409.0C355.8,411.0 354.5,410.9 353.0,413.0C351.5,415.1 351.4,415.7 350.0,417.0C348.6,418.3 348.5,418.8 347.6,418.0C346.7,417.2 346.7,416.4 346.6,414.0C346.5,411.6 346.8,411.6 347.2,409.0C347.6,406.4 346.6,405.3 348.0,404.4ZM388.6,406.4C389.8,405.3 390.5,405.1 392.0,405.6C393.5,406.1 393.8,406.6 394.4,408.4C395.0,410.2 395.0,410.4 394.4,412.4C393.8,414.4 393.4,414.8 392.0,416.0C390.6,417.2 390.2,417.5 389.0,417.0C387.8,416.5 387.8,416.0 387.4,414.0C387.0,412.0 387.1,411.6 387.4,409.6C387.7,407.6 387.4,407.5 388.6,406.4ZM373.0,417.6C374.9,415.8 375.7,416.0 378.4,416.4C381.1,416.8 381.5,417.2 383.0,419.0C384.5,420.8 384.3,420.7 384.0,423.0C383.7,425.3 383.9,426.0 382.0,427.6C380.1,429.2 379.4,429.0 377.0,429.0C374.6,429.0 374.5,429.2 373.0,427.6C371.5,426.0 371.4,425.7 371.4,423.0C371.4,420.3 371.1,419.4 373.0,417.6ZM361.6,445.0C362.5,444.0 363.4,444.1 365.6,444.6C367.8,445.1 367.8,445.6 370.0,447.0C372.2,448.4 372.4,448.1 374.0,450.0C375.6,451.9 376.0,452.3 376.0,454.0C376.0,455.7 375.6,456.4 374.0,456.4C372.4,456.4 372.1,455.4 370.0,454.0C367.9,452.6 368.0,452.5 366.0,451.0C364.0,449.5 363.6,450.0 362.4,448.4C361.2,446.8 360.7,446.0 361.6,445.0ZM439.0,405.6C440.0,405.1 440.7,405.5 442.0,406.4C443.3,407.3 443.9,407.6 444.0,409.0C444.1,410.4 443.5,411.1 442.4,411.6C441.3,412.1 441.1,411.9 440.0,411.0C438.9,410.1 438.7,409.8 438.4,408.4C438.1,407.0 438.0,406.1 439.0,405.6ZM449.0,410.4C449.8,409.6 451.3,410.3 454.0,411.0C456.7,411.7 456.3,411.5 459.0,413.0C461.7,414.5 461.6,414.8 464.0,416.6C466.4,418.4 467.7,418.4 468.0,419.6C468.3,420.8 467.1,421.3 465.0,421.0C462.9,420.7 462.7,419.7 460.0,418.4C457.3,417.1 457.4,417.2 455.0,416.0C452.6,414.8 452.6,415.5 451.0,414.0C449.4,412.5 448.2,411.2 449.0,410.4ZM374.4,502.4C375.8,500.9 376.1,501.1 378.4,501.2C380.7,501.3 381.2,501.5 383.0,502.8C384.8,504.1 384.8,504.1 385.0,506.0C385.2,507.9 385.0,508.5 383.6,510.0C382.2,511.5 381.9,511.5 379.6,511.6C377.3,511.7 376.7,511.6 375.0,510.4C373.3,509.2 373.4,509.1 373.2,507.0C373.0,504.9 373.0,503.9 374.4,502.4ZM558.0,264.8C558.4,263.3 559.3,263.4 560.7,264.1C562.2,264.8 562.5,265.5 563.5,267.5C564.4,269.5 564.8,270.4 564.4,271.6C564.1,272.9 563.4,272.9 562.1,272.3C560.8,271.8 560.5,271.6 559.4,269.6C558.3,267.6 557.6,266.3 558.0,264.8ZM569.6,296.9C570.2,294.7 570.2,294.4 571.7,292.8C573.1,291.1 573.2,290.9 575.1,290.7C576.9,290.6 577.1,290.6 578.5,292.1C579.9,293.6 579.9,293.8 580.3,296.2C580.6,298.6 580.5,298.6 579.8,301.0C579.2,303.3 579.3,303.5 577.8,305.1C576.3,306.6 576.2,306.7 574.4,306.7C572.6,306.7 572.3,306.6 571.0,305.1C569.6,303.5 569.7,303.2 569.3,301.0C569.0,298.8 569.0,299.1 569.6,296.9ZM560.3,311.9C560.5,310.3 560.8,310.4 562.1,309.8C563.4,309.3 563.9,309.2 565.2,309.8C566.6,310.5 566.8,310.7 567.2,312.2C567.5,313.6 567.4,314.0 566.6,315.3C565.8,316.6 565.5,316.9 564.1,317.1C562.8,317.3 562.4,317.4 561.4,316.0C560.4,314.6 560.1,313.5 560.3,311.9ZM529.3,336.9C530.4,335.0 530.8,334.5 532.8,333.4C534.8,332.3 534.8,332.2 536.9,332.8C538.9,333.3 539.2,333.6 540.3,335.5C541.4,337.4 541.3,337.7 540.9,339.9C540.6,342.0 540.5,342.3 538.9,343.7C537.3,345.1 536.9,345.1 534.8,345.0C532.7,345.0 532.7,344.7 531.1,343.4C529.6,342.1 529.4,342.0 528.9,340.3C528.5,338.5 528.3,338.7 529.3,336.9ZM518.8,330.7C519.6,329.4 520.5,329.0 521.6,329.3C522.7,329.7 522.8,330.4 522.9,332.1C523.1,333.8 522.8,334.6 522.1,335.8C521.4,337.0 521.1,337.0 520.2,336.6C519.3,336.1 518.9,335.7 518.6,334.1C518.2,332.6 518.0,332.0 518.8,330.7ZM518.4,349.8C519.2,347.3 518.7,347.4 520.5,346.4C522.3,345.4 522.9,345.8 525.3,346.1C527.6,346.5 527.3,346.5 529.3,347.8C531.3,349.0 530.9,350.1 532.8,350.8C534.6,351.4 534.2,350.6 536.2,350.2C538.2,349.9 537.9,349.5 540.3,349.4C542.6,349.3 542.9,349.7 545.0,349.8C547.2,349.9 546.8,350.4 548.5,349.8C550.1,349.3 549.7,349.0 551.2,347.8C552.6,346.5 552.5,346.5 553.9,345.0C555.4,343.6 555.0,343.5 556.6,342.3C558.3,341.1 558.1,341.4 560.1,340.7C562.1,339.9 561.8,340.2 564.1,339.6C566.5,338.9 566.7,338.9 568.9,338.2C571.1,337.5 570.9,337.8 572.3,336.9C573.8,335.9 573.7,336.3 574.4,334.8C575.1,333.3 574.5,333.4 575.1,331.4C575.6,329.4 575.3,329.5 576.4,327.3C577.5,325.1 577.5,325.4 579.2,323.2C580.8,321.0 580.6,321.1 582.6,319.1C584.6,317.1 584.3,317.1 586.7,315.7C589.0,314.3 588.9,314.3 591.4,313.9C594.0,313.6 594.0,313.5 596.2,314.3C598.4,315.2 598.5,315.2 599.6,317.1C600.7,318.9 600.5,319.0 600.3,321.2C600.1,323.3 598.6,324.0 599.0,325.3C599.3,326.5 600.4,325.0 601.7,325.9C603.0,326.8 603.5,327.0 603.7,328.7C603.9,330.3 603.6,330.6 602.4,332.1C601.1,333.5 600.6,332.8 599.0,334.1C597.3,335.4 597.1,335.0 596.2,336.9C595.3,338.7 595.5,338.8 595.5,340.9C595.5,343.1 595.7,343.2 596.2,345.0C596.8,346.9 596.5,346.3 597.6,347.8C598.7,349.2 599.0,348.9 600.3,350.5C601.6,352.1 601.1,352.1 602.4,353.9C603.6,355.7 603.3,356.1 605.1,357.3C606.9,358.6 607.2,357.6 609.2,358.7C611.2,359.8 611.1,359.6 612.6,361.4C614.1,363.2 613.7,363.1 614.6,365.5C615.6,367.9 614.9,368.1 616.0,370.3C617.1,372.5 617.7,371.7 618.7,373.7C619.8,375.7 619.9,375.6 620.1,377.8C620.3,380.0 619.1,380.1 619.4,381.9C619.8,383.7 620.6,383.2 621.5,384.6C622.4,386.1 623.2,385.7 622.8,387.4C622.5,389.0 621.7,389.1 620.1,390.8C618.5,392.4 618.7,392.2 616.7,393.5C614.7,394.8 614.6,395.2 612.6,395.5C610.6,395.9 610.5,396.0 609.2,394.9C607.9,393.8 608.6,393.4 607.8,391.4C607.1,389.4 607.2,389.5 606.5,387.4C605.7,385.2 605.6,385.4 605.1,383.3C604.5,381.1 604.4,381.0 604.4,379.2C604.4,377.3 605.3,378.3 605.1,376.4C604.9,374.6 604.3,374.5 603.7,372.3C603.2,370.2 603.6,370.2 603.0,368.2C602.5,366.2 602.6,366.5 601.7,364.8C600.8,363.2 600.9,363.4 599.6,362.1C598.4,360.8 598.5,360.7 596.9,360.1C595.3,359.4 595.5,359.7 593.5,359.8C591.5,359.9 591.4,359.9 589.4,360.3C587.4,360.8 587.6,360.7 586.0,361.4C584.3,362.1 584.3,362.0 583.3,363.1C582.2,364.1 582.3,363.8 581.9,365.5C581.5,367.3 581.9,367.2 581.6,369.6C581.3,372.0 581.2,371.8 580.8,374.4C580.4,376.9 580.9,377.0 580.3,379.2C579.6,381.3 580.0,381.4 578.5,382.6C576.9,383.7 576.8,383.3 574.4,383.5C572.0,383.7 571.8,383.5 569.6,383.3C567.4,383.0 567.6,383.7 566.2,382.6C564.8,381.5 565.0,381.2 564.4,379.2C563.8,377.2 564.3,377.0 563.9,375.1C563.4,373.2 563.6,373.2 562.8,372.1C561.9,370.9 561.8,370.8 560.7,370.7C559.7,370.6 559.7,370.5 559.0,371.7C558.2,372.8 558.4,373.1 558.0,375.1C557.6,377.1 557.9,377.3 557.3,379.2C556.8,381.0 557.1,381.0 556.0,381.9C554.9,382.8 554.9,382.6 553.2,382.6C551.6,382.6 551.3,382.8 549.8,381.9C548.3,381.0 548.5,381.0 547.5,379.2C546.5,377.3 546.9,377.0 546.1,375.1C545.4,373.2 545.7,373.3 544.8,372.1C543.8,370.8 544.0,371.1 542.6,370.3C541.2,369.5 541.3,369.5 539.6,368.9C537.9,368.3 537.8,368.5 536.2,368.0C534.5,367.4 535.0,367.2 533.4,366.9C531.9,366.6 532.0,366.6 530.3,366.9C528.6,367.2 528.9,367.7 527.0,368.0C525.1,368.3 525.0,368.6 523.2,368.0C521.4,367.3 521.5,367.3 520.2,365.5C518.9,363.8 519.2,364.0 518.4,361.4C517.7,358.9 517.5,359.1 517.5,356.0C517.5,352.9 517.6,352.4 518.4,349.8ZM638.4,304.4C639.6,302.8 640.5,302.7 642.4,303.0C644.3,303.3 644.6,303.7 645.6,305.6C646.6,307.5 646.5,308.0 646.0,310.0C645.5,312.0 645.2,312.4 643.6,313.0C642.0,313.6 641.5,313.5 640.0,312.4C638.5,311.3 638.4,311.1 638.0,309.0C637.6,306.9 637.2,306.0 638.4,304.4ZM663.0,293.0C664.7,291.3 665.9,291.2 668.0,291.6C670.1,292.0 670.7,292.6 671.0,294.4C671.3,296.2 670.4,296.5 669.0,298.4C667.6,300.3 667.4,300.5 665.6,301.6C663.8,302.7 663.5,303.4 662.4,302.4C661.3,301.4 661.4,300.5 661.6,298.0C661.8,295.5 661.3,294.7 663.0,293.0ZM664.4,312.0C665.7,310.6 667.2,310.8 670.0,311.6C672.8,312.4 673.1,312.8 675.0,315.0C676.9,317.2 677.0,317.3 677.0,320.0C677.0,322.7 676.6,323.4 675.0,325.0C673.4,326.6 673.0,326.8 671.0,326.0C669.0,325.2 669.2,324.4 667.6,322.0C666.0,319.6 665.9,319.7 665.0,317.0C664.1,314.3 663.1,313.4 664.4,312.0ZM697.0,320.0C697.6,318.8 698.8,319.1 700.0,319.6C701.2,320.1 701.6,320.7 701.6,322.0C701.6,323.3 701.1,323.9 700.0,324.4C698.9,324.9 698.4,325.2 697.6,324.0C696.8,322.8 696.4,321.2 697.0,320.0ZM683.0,259.0C683.6,257.8 684.7,257.9 686.0,258.4C687.3,258.9 687.9,259.6 688.0,261.0C688.1,262.4 687.6,263.1 686.4,263.6C685.2,264.1 684.5,264.2 683.6,263.0C682.7,261.8 682.4,260.2 683.0,259.0ZM649.1,354.4C650.4,353.3 651.4,353.2 653.9,353.0C656.5,352.8 656.3,353.9 658.7,353.7C661.1,353.5 660.6,353.2 662.8,352.3C665.0,351.4 664.7,350.6 666.9,350.3C669.1,349.9 669.0,350.0 671.0,350.9C673.0,351.9 672.4,352.4 674.4,353.7C676.4,354.9 676.8,354.4 678.5,355.7C680.1,357.0 679.6,357.0 680.5,358.5C681.4,359.9 680.1,358.8 681.9,361.2C683.7,363.5 683.7,366.2 687.4,367.3C691.0,368.4 692.6,365.9 695.5,365.3C698.5,364.6 697.5,363.2 698.3,364.9C699.0,366.5 699.4,368.2 698.3,371.4C697.2,374.6 696.1,374.0 694.2,376.9C692.3,379.8 692.1,379.1 691.2,382.3C690.3,385.6 691.8,386.1 690.8,389.2C689.7,392.3 689.4,391.4 687.4,393.9C685.4,396.5 685.4,396.0 683.3,398.7C681.1,401.4 681.2,401.3 679.2,404.2C677.2,407.1 677.4,408.5 675.8,409.6C674.1,410.7 674.3,409.7 673.0,408.3C671.7,406.8 672.1,406.4 671.0,404.2C669.9,402.0 670.4,401.9 668.9,400.1C667.5,398.3 667.3,398.6 665.5,397.4C663.7,396.1 663.9,396.4 662.1,395.3C660.3,394.2 660.3,394.9 658.7,393.3C657.1,391.6 657.2,391.5 656.0,389.2C654.7,386.8 654.8,386.9 653.9,384.4C653.0,381.8 652.5,382.2 652.5,379.6C652.5,377.1 653.0,377.2 653.9,374.8C654.8,372.5 654.9,373.1 656.0,370.7C657.1,368.4 658.2,368.0 658.0,366.0C657.8,364.0 656.9,364.9 655.3,363.2C653.6,361.6 653.5,361.5 651.9,359.8C650.2,358.2 649.9,358.5 649.1,357.1C648.4,355.6 647.9,355.5 649.1,354.4ZM637.1,355.7C637.6,353.6 638.0,353.5 639.6,353.0C641.1,352.4 641.7,352.6 643.0,353.7C644.3,354.8 644.2,355.1 644.4,357.1C644.5,359.1 644.4,359.7 643.4,361.2C642.4,362.6 642.1,362.7 640.7,362.5C639.2,362.4 638.9,362.6 637.9,360.8C637.0,359.0 636.7,357.8 637.1,355.7ZM643.7,362.5C644.7,362.2 645.3,362.6 647.1,363.5C648.9,364.4 648.7,364.6 650.5,366.0C652.3,367.3 653.4,367.4 653.9,368.7C654.5,370.0 653.8,370.6 652.5,370.7C651.3,370.9 651.0,370.3 649.1,369.4C647.3,368.5 647.3,368.5 645.7,367.3C644.2,366.1 643.9,366.1 643.4,364.9C642.9,363.6 642.7,362.9 643.7,362.5ZM714.4,310.4C715.1,309.4 716.3,309.5 717.6,310.0C718.9,310.5 719.3,311.2 719.2,312.4C719.1,313.6 718.4,314.1 717.2,314.4C716.0,314.7 715.5,314.7 714.8,313.6C714.1,312.5 713.7,311.4 714.4,310.4ZM749.1,323.0C750.5,320.9 751.3,321.2 753.5,320.7C755.7,320.2 756.0,321.6 757.3,321.0C758.6,320.3 758.5,319.9 758.4,318.2C758.3,316.6 757.3,316.8 757.1,314.8C756.8,312.8 756.7,312.6 757.3,310.7C757.9,308.9 758.1,309.1 759.4,308.0C760.6,306.9 760.2,307.1 762.1,306.6C764.0,306.2 764.8,305.9 766.6,306.2C768.4,306.6 767.9,308.4 768.9,308.0C769.9,307.6 769.5,306.3 770.3,304.6C771.1,302.9 771.0,303.0 772.1,301.6C773.2,300.1 772.8,299.9 774.4,299.1C776.0,298.4 776.4,298.2 778.1,298.9C779.8,299.5 779.7,300.0 780.8,301.6C781.9,303.2 781.1,303.4 782.2,304.9C783.3,306.3 783.2,306.0 784.9,307.1C786.6,308.1 786.6,307.9 788.4,309.0C790.3,310.1 789.9,310.1 791.7,311.1C793.5,312.2 793.4,312.0 795.3,313.1C797.1,314.1 796.7,314.9 798.5,315.2C800.4,315.6 800.5,315.5 802.1,314.4C803.7,313.3 803.0,312.6 804.4,311.1C805.9,309.7 805.6,309.7 807.6,309.0C809.5,308.2 809.5,308.1 811.6,308.4C813.8,308.7 814.0,308.5 815.7,310.1C817.5,311.6 817.6,311.5 818.1,314.1C818.6,316.8 818.2,317.0 817.7,319.9C817.1,322.8 817.2,322.4 816.0,325.1C814.8,327.7 815.1,328.0 813.3,329.8C811.5,331.7 811.3,331.8 809.2,332.2C807.1,332.5 806.8,330.8 805.4,331.2C804.0,331.6 804.9,332.0 804.0,333.5C803.1,335.1 803.3,335.4 802.1,337.1C800.9,338.8 800.9,338.4 799.4,339.8C797.8,341.3 798.3,341.7 796.4,342.5C794.5,343.4 794.4,343.4 792.3,343.1C790.2,342.7 790.4,342.3 788.4,341.2C786.5,340.1 786.6,339.9 784.9,339.0C783.1,338.0 783.3,337.8 781.9,337.6C780.4,337.5 780.6,337.7 779.4,338.4C778.3,339.2 778.3,338.9 777.5,340.4C776.7,341.8 777.0,342.0 776.4,343.9C775.9,345.8 776.1,345.9 775.3,347.6C774.5,349.3 775.1,349.3 773.4,350.3C771.7,351.3 771.1,351.5 768.9,351.3C766.7,351.1 766.9,351.2 765.2,349.6C763.6,348.1 763.8,347.8 762.8,345.5C761.8,343.3 762.0,343.4 761.4,341.2C760.9,338.9 761.4,338.5 760.7,337.1C760.1,335.7 760.3,336.1 759.0,336.0C757.6,335.8 757.5,336.5 755.7,336.5C753.9,336.5 753.7,336.9 752.1,336.0C750.6,335.1 750.8,335.3 749.8,333.3C748.8,331.3 748.6,331.2 748.5,328.5C748.3,325.8 747.8,325.1 749.1,323.0ZM710.9,272.5C711.4,270.3 711.5,269.9 713.0,268.4C714.4,267.0 714.7,266.8 716.4,267.1C718.1,267.3 718.5,267.4 719.4,269.4C720.3,271.4 720.3,272.2 719.8,274.6C719.3,277.0 719.1,277.1 717.5,278.4C715.8,279.7 715.3,279.8 713.6,279.3C712.0,278.9 711.9,278.4 711.2,276.6C710.5,274.8 710.4,274.7 710.9,272.5ZM728.7,285.8C729.5,283.1 730.5,283.3 733.0,282.8C735.6,282.2 736.2,282.4 738.2,283.8C740.3,285.3 740.4,285.8 740.7,288.2C741.0,290.7 741.0,291.2 739.3,293.0C737.6,294.7 736.9,294.9 734.4,294.8C731.9,294.7 731.6,295.0 730.0,292.6C728.5,290.2 727.9,288.4 728.7,285.8ZM742.6,281.7C743.2,279.4 744.2,278.8 746.1,278.7C748.1,278.5 748.7,279.1 749.8,281.1C750.9,283.1 751.0,284.1 750.2,286.2C749.5,288.2 748.8,288.6 747.1,288.9C745.3,289.2 744.9,289.1 743.7,287.1C742.5,285.2 741.9,283.9 742.6,281.7ZM747.1,293.7C748.3,291.9 749.1,291.3 751.2,290.9C753.3,290.6 753.8,290.7 754.9,292.3C756.0,293.9 755.9,294.8 755.3,297.1C754.7,299.3 754.3,299.9 752.5,300.8C750.8,301.7 750.4,301.4 748.9,300.5C747.3,299.6 747.2,299.3 746.7,297.5C746.2,295.7 745.9,295.4 747.1,293.7ZM731.4,304.6C732.2,303.0 732.9,302.5 734.4,302.5C735.9,302.6 736.5,303.0 737.1,304.9C737.7,306.7 737.6,307.7 736.6,309.4C735.6,311.0 734.8,311.3 733.4,311.1C732.1,311.0 731.9,310.4 731.4,308.7C730.8,306.9 730.6,306.2 731.4,304.6ZM714.3,310.1C714.9,309.0 715.4,308.4 716.7,308.4C717.9,308.4 718.5,308.9 719.1,310.1C719.7,311.2 719.6,311.8 718.8,312.8C718.1,313.8 717.6,313.9 716.4,313.9C715.2,313.8 714.9,313.5 714.3,312.5C713.8,311.5 713.7,311.1 714.3,310.1ZM817.7,303.9C818.4,302.4 819.4,302.1 821.5,301.6C823.6,301.1 823.7,301.3 825.6,302.1C827.4,302.9 827.9,303.1 828.3,304.6C828.7,306.1 828.4,306.5 826.9,307.6C825.5,308.7 825.0,308.8 822.8,308.7C820.7,308.6 820.1,308.6 818.7,307.3C817.4,306.1 816.9,305.4 817.7,303.9ZM829.0,310.1C830.4,308.4 830.7,308.4 833.1,308.0C835.4,307.6 835.7,307.6 837.9,308.7C840.0,309.8 840.5,309.7 841.3,312.1C842.0,314.5 841.7,315.2 840.6,317.6C839.5,319.9 839.4,319.9 837.2,321.0C835.0,322.1 834.6,322.2 832.4,321.7C830.2,321.1 830.3,320.9 829.0,318.9C827.7,316.9 827.6,316.5 827.6,314.1C827.6,311.8 827.5,311.7 829.0,310.1ZM849.6,279.3C850.1,277.2 849.9,277.3 850.9,275.3C852.0,273.2 852.0,273.1 853.7,271.8C855.3,270.6 855.3,270.5 857.1,270.5C858.9,270.5 858.7,271.8 860.5,271.8C862.3,271.8 862.1,271.4 863.9,270.5C865.7,269.6 865.7,268.4 867.3,268.4C869.0,268.4 869.1,268.8 870.1,270.5C871.0,272.1 870.7,272.4 870.7,274.6C870.7,276.8 870.6,276.7 870.1,278.7C869.5,280.7 869.6,280.4 868.7,282.1C867.8,283.7 867.9,283.5 866.6,284.8C865.4,286.1 865.6,285.8 863.9,286.9C862.3,287.9 862.3,288.0 860.5,288.9C858.7,289.8 858.9,290.1 857.1,290.3C855.3,290.4 855.3,290.5 853.7,289.6C852.0,288.7 852.2,288.5 850.9,286.9C849.7,285.2 849.3,285.4 848.9,283.4C848.5,281.4 849.0,281.5 849.6,279.3ZM870.7,267.7C871.5,265.7 872.1,265.6 874.1,264.3C876.2,263.1 876.1,263.1 878.2,263.0C880.4,262.8 880.2,263.6 882.3,263.6C884.5,263.6 884.2,262.8 886.4,263.0C888.6,263.1 888.7,263.2 890.5,264.3C892.3,265.4 892.9,265.6 893.3,267.1C893.6,268.5 893.2,268.5 891.9,269.8C890.6,271.1 890.1,270.6 888.5,271.8C886.8,273.1 886.8,272.9 885.8,274.6C884.7,276.2 884.2,276.7 884.4,278.0C884.6,279.3 886.6,278.3 886.4,279.3C886.3,280.4 885.3,281.0 883.7,282.1C882.1,283.2 882.1,282.7 880.3,283.4C878.5,284.2 878.7,284.1 876.9,284.8C875.1,285.5 875.3,285.6 873.5,286.2C871.6,286.7 871.7,286.5 870.1,286.9C868.4,287.2 868.6,287.7 867.3,287.5C866.1,287.4 865.1,287.4 865.3,286.2C865.5,284.9 866.7,284.6 868.0,282.8C869.3,280.9 869.2,281.3 870.1,279.3C870.9,277.3 870.8,277.3 871.1,275.3C871.5,273.2 871.5,273.8 871.4,271.8C871.3,269.8 870.0,269.7 870.7,267.7ZM863.9,287.5C865.1,286.4 866.0,286.9 868.7,286.6C871.4,286.2 871.6,286.1 874.1,286.2C876.7,286.2 877.3,285.9 878.2,286.9C879.2,287.8 879.0,288.8 877.6,289.9C876.1,290.9 875.3,290.6 872.8,290.9C870.2,291.3 870.3,291.3 868.0,291.2C865.8,291.1 865.4,291.7 864.3,290.7C863.2,289.7 862.7,288.6 863.9,287.5ZM866.6,326.4C867.0,324.8 867.1,324.5 868.7,323.0C870.3,321.6 870.2,321.9 872.8,321.0C875.3,320.1 875.5,319.8 878.2,319.6C881.0,319.4 881.9,319.2 883.0,320.3C884.1,321.4 883.4,322.1 882.3,323.7C881.2,325.3 880.9,325.2 878.9,326.4C876.9,327.7 877.0,327.6 874.8,328.5C872.6,329.4 872.7,329.7 870.7,329.8C868.7,330.0 868.4,330.1 867.3,329.2C866.2,328.3 866.3,328.1 866.6,326.4ZM830.5,308.7C831.6,306.5 831.9,307.0 833.9,306.6C835.9,306.3 835.8,306.4 838.0,307.3C840.2,308.2 840.3,308.4 842.1,310.1C843.9,311.7 844.3,311.5 844.8,313.5C845.4,315.5 845.2,315.7 844.1,317.6C843.0,319.4 842.9,319.4 840.7,320.3C838.5,321.2 838.3,321.3 835.9,321.0C833.6,320.6 833.5,320.6 831.8,318.9C830.2,317.3 830.2,317.6 829.8,314.8C829.4,312.1 829.4,310.9 830.5,308.7ZM830.5,341.4C831.6,339.6 832.5,339.8 835.3,339.4C838.0,339.0 837.8,339.4 840.7,340.1C843.6,340.8 843.4,340.7 846.2,342.1C848.9,343.6 849.3,343.4 850.9,345.5C852.6,347.7 852.7,348.1 852.3,350.3C851.9,352.5 851.6,352.6 849.6,353.7C847.6,354.8 847.5,354.6 844.8,354.4C842.1,354.2 842.1,354.1 839.3,353.0C836.6,352.0 836.8,352.1 834.6,350.3C832.4,348.5 832.2,348.6 831.2,346.2C830.1,343.9 829.4,343.3 830.5,341.4ZM934.9,286.6C935.6,285.5 936.8,285.1 938.3,285.2C939.8,285.3 940.2,285.9 940.3,286.9C940.5,287.8 940.3,288.2 939.0,288.9C937.7,289.6 936.7,289.9 935.6,289.3C934.5,288.7 934.2,287.7 934.9,286.6ZM917.0,438.0C919.7,435.8 923.6,437.3 928.0,437.6C932.4,437.9 932.1,436.7 933.6,439.0C935.1,441.3 932.5,442.8 933.6,446.4C934.7,450.0 935.1,449.6 937.6,452.4C940.1,455.2 940.9,456.0 943.0,457.0C945.1,458.0 945.3,454.9 945.6,456.0C945.9,457.1 945.8,458.8 944.0,461.0C942.2,463.2 941.9,463.3 939.0,464.4C936.1,465.5 936.2,465.5 933.0,465.0C929.8,464.5 929.8,464.3 927.0,462.4C924.2,460.5 924.4,460.7 922.4,458.0C920.4,455.3 920.8,455.6 919.6,452.4C918.4,449.2 918.7,449.8 918.0,446.0C917.3,442.2 914.3,440.2 917.0,438.0ZM1014.4,547.6C1014.8,546.5 1015.4,546.1 1016.4,546.0C1017.4,545.9 1017.9,546.2 1018.0,547.2C1018.1,548.2 1017.6,548.9 1016.8,549.6C1016.0,550.3 1015.6,550.5 1015.0,550.0C1014.4,549.5 1014.0,548.7 1014.4,547.6ZM613.0,496.0C613.6,495.1 614.4,495.1 616.0,495.6C617.6,496.1 617.9,496.4 619.0,498.0C620.1,499.6 620.3,500.1 620.0,501.6C619.7,503.1 619.2,503.5 618.0,503.6C616.8,503.7 616.8,503.2 615.6,502.0C614.4,500.8 614.3,500.6 613.6,499.0C612.9,497.4 612.4,496.9 613.0,496.0ZM625.0,209.0C625.5,207.7 626.9,207.2 628.0,208.0C629.1,208.8 629.5,210.7 629.0,212.0C628.5,213.3 627.1,213.8 626.0,213.0C624.9,212.2 624.5,210.3 625.0,209.0Z" fill="#ff7d00" stroke="none"/>
<path d="M290.6,290.0C291.6,288.7 292.5,288.3 293.6,289.6C294.7,290.9 294.1,292.0 294.6,295.0C295.1,298.0 295.1,298.0 295.6,301.0C296.1,304.0 296.6,304.0 296.4,306.4C296.2,308.8 295.9,308.1 295.0,310.0C294.1,311.9 294.3,312.5 293.0,313.6C291.7,314.7 291.3,314.5 290.0,314.0C288.7,313.5 288.6,313.2 288.0,311.6C287.4,310.0 287.3,309.8 287.6,308.0C287.9,306.2 288.4,307.1 289.0,305.0C289.6,302.9 289.7,302.8 290.0,300.0C290.3,297.2 289.8,297.1 290.0,294.4C290.2,291.7 289.6,291.3 290.6,290.0ZM283.6,330.0C284.8,328.8 285.4,328.7 287.0,329.0C288.6,329.3 288.7,329.4 289.6,331.0C290.5,332.6 290.6,332.9 290.4,335.0C290.2,337.1 290.2,337.7 289.0,339.0C287.8,340.3 287.4,340.4 286.0,340.0C284.6,339.6 284.6,339.3 283.6,337.6C282.6,335.9 282.4,335.6 282.4,333.6C282.4,331.6 282.4,331.2 283.6,330.0ZM291.0,329.6C292.1,328.7 293.0,328.5 294.4,329.0C295.8,329.5 296.1,330.2 296.4,331.6C296.7,333.0 296.7,333.5 295.6,334.4C294.5,335.3 293.8,335.5 292.4,335.0C291.0,334.5 290.8,333.8 290.4,332.4C290.0,331.0 289.9,330.5 291.0,329.6ZM294.0,339.0C295.2,337.8 295.9,337.6 298.0,337.6C300.1,337.6 300.3,337.8 302.0,339.0C303.7,340.2 304.0,340.2 304.4,342.0C304.8,343.8 304.8,344.4 303.6,345.6C302.4,346.8 302.0,346.6 300.0,346.4C298.0,346.2 297.7,346.2 296.0,345.0C294.3,343.8 294.1,343.6 293.6,342.0C293.1,340.4 292.8,340.2 294.0,339.0ZM311.0,345.0C311.9,343.8 312.7,343.9 315.0,343.6C317.3,343.3 317.6,343.3 319.6,344.0C321.6,344.7 321.7,344.5 322.4,346.4C323.1,348.3 322.9,349.0 322.4,351.0C321.9,353.0 321.7,353.3 320.4,354.0C319.1,354.7 319.2,354.6 317.6,353.6C316.0,352.6 316.0,351.9 314.4,350.4C312.8,348.9 312.5,349.4 311.6,348.0C310.7,346.6 310.1,346.2 311.0,345.0ZM348.0,406.0C349.2,405.2 350.1,406.0 351.6,407.0C353.1,408.0 353.6,408.0 353.6,409.6C353.6,411.2 352.8,411.3 351.6,413.0C350.4,414.7 350.2,415.5 349.0,416.0C347.8,416.5 347.7,416.6 347.2,415.0C346.7,413.4 347.0,412.4 347.2,410.0C347.4,407.6 346.8,406.8 348.0,406.0ZM389.4,408.0C390.4,407.4 391.0,407.0 392.0,407.6C393.0,408.2 393.1,408.7 393.2,410.4C393.3,412.1 393.3,412.6 392.4,414.0C391.5,415.4 391.1,415.9 390.0,415.6C388.9,415.3 388.8,414.5 388.4,413.0C388.0,411.5 388.1,411.3 388.4,410.0C388.7,408.7 388.4,408.6 389.4,408.0ZM373.6,419.0C374.9,417.1 375.8,417.6 378.0,418.0C380.2,418.4 380.8,418.8 382.0,420.4C383.2,422.0 382.9,422.2 382.4,424.0C381.9,425.8 381.7,426.0 380.0,427.0C378.3,428.0 377.9,428.1 376.0,427.6C374.1,427.1 373.6,427.3 373.0,425.0C372.4,422.7 372.3,420.9 373.6,419.0ZM362.4,446.0C363.0,445.4 364.0,445.3 366.0,446.0C368.0,446.7 368.1,447.1 370.0,448.6C371.9,450.1 372.0,450.1 373.0,451.6C374.0,453.1 374.1,453.9 373.6,454.4C373.1,454.9 372.8,454.7 371.0,453.6C369.2,452.5 369.0,451.8 367.0,450.4C365.0,449.0 364.8,449.6 363.6,448.4C362.4,447.2 361.8,446.6 362.4,446.0ZM451.0,411.0C451.6,410.5 453.3,410.7 456.0,411.6C458.7,412.5 458.6,412.8 461.0,414.4C463.4,416.0 464.5,416.5 465.0,417.6C465.5,418.7 464.9,418.9 463.0,418.4C461.1,417.9 460.5,416.9 458.0,415.6C455.5,414.3 455.5,414.8 453.6,413.6C451.7,412.4 450.4,411.5 451.0,411.0ZM376.4,503.6C377.6,502.6 378.2,502.4 380.0,502.8C381.8,503.2 382.2,503.5 383.0,505.0C383.8,506.5 383.8,507.0 383.0,508.4C382.2,509.8 381.6,510.1 380.0,510.4C378.4,510.7 378.2,510.7 377.0,509.6C375.8,508.5 375.8,508.0 375.6,506.4C375.4,504.8 375.2,504.6 376.4,503.6ZM572.1,296.9C572.5,295.4 572.6,294.9 573.7,294.1C574.8,293.3 575.1,293.3 576.2,293.9C577.3,294.4 577.4,294.7 577.8,296.2C578.2,297.7 578.1,298.0 577.5,299.6C577.0,301.2 576.8,301.7 575.8,302.3C574.7,303.0 574.4,302.8 573.4,302.1C572.4,301.3 572.4,301.0 572.1,299.6C571.7,298.2 571.6,298.3 572.1,296.9ZM531.1,337.5C531.8,336.4 532.0,335.9 533.4,335.2C534.9,334.5 535.1,334.4 536.6,334.8C538.0,335.2 538.2,335.5 538.9,336.9C539.6,338.2 539.7,338.4 539.3,339.9C538.9,341.3 538.8,341.5 537.5,342.3C536.2,343.1 536.0,343.2 534.4,343.0C532.8,342.8 532.6,342.5 531.7,341.6C530.7,340.7 530.9,340.7 530.7,339.6C530.6,338.5 530.4,338.7 531.1,337.5ZM518.4,331.7C519.0,330.9 519.7,330.6 520.5,331.1C521.2,331.6 521.3,332.5 521.2,333.4C521.0,334.4 520.5,334.6 519.8,334.8C519.1,335.0 518.8,335.0 518.4,334.1C518.1,333.3 517.9,332.5 518.4,331.7ZM518.4,351.2C519.0,349.2 518.8,349.3 520.5,348.5C522.1,347.6 522.4,347.8 524.6,348.0C526.8,348.3 526.5,348.2 528.7,349.4C530.8,350.6 530.9,351.9 532.8,352.5C534.6,353.2 533.9,352.2 535.8,351.9C537.6,351.5 537.1,351.3 539.6,351.2C542.1,351.1 542.7,351.4 545.0,351.6C547.4,351.8 546.6,352.2 548.5,351.9C550.3,351.5 550.2,351.5 551.9,350.2C553.5,349.0 553.0,348.5 554.6,347.1C556.2,345.7 556.0,346.1 558.0,345.0C560.0,343.9 559.9,343.9 562.1,343.0C564.3,342.1 563.8,342.4 566.2,341.6C568.6,340.9 568.6,341.0 571.0,340.3C573.3,339.5 573.2,339.1 575.1,338.9C576.9,338.7 576.9,338.3 577.8,339.6C578.7,340.9 578.3,341.7 578.5,343.7C578.7,345.7 577.9,345.6 578.5,347.1C579.0,348.5 578.9,348.3 580.5,349.1C582.2,350.0 582.4,350.2 584.6,350.2C586.8,350.3 586.4,349.9 588.7,349.4C591.1,348.9 591.3,348.3 593.5,348.5C595.7,348.6 595.3,348.7 596.9,349.8C598.5,350.9 598.4,350.9 599.6,352.5C600.9,354.2 600.6,354.3 601.7,356.0C602.8,357.6 602.1,357.6 603.7,358.7C605.4,359.8 606.0,359.0 607.8,360.1C609.6,361.1 609.3,361.0 610.6,362.8C611.8,364.6 611.7,364.7 612.6,366.9C613.5,369.1 614.1,369.0 614.0,371.0C613.8,373.0 613.2,373.1 611.9,374.4C610.6,375.7 610.5,375.9 609.2,375.8C607.9,375.6 608.1,375.3 607.1,373.7C606.2,372.1 606.3,371.8 605.8,369.6C605.2,367.4 605.8,367.3 605.1,365.5C604.4,363.7 604.3,364.2 603.0,362.8C601.8,361.3 601.8,361.3 600.3,360.1C598.9,358.8 599.2,358.6 597.6,358.0C596.0,357.5 596.2,357.9 594.2,358.0C592.2,358.1 592.3,358.1 590.1,358.4C587.9,358.8 588.0,358.8 586.0,359.4C584.0,360.0 584.0,359.8 582.6,360.7C581.1,361.6 581.3,361.3 580.5,362.8C579.8,364.2 580.2,364.4 579.8,366.2C579.5,368.0 579.5,367.6 579.2,369.6C578.8,371.6 578.8,371.5 578.5,373.7C578.1,375.9 578.3,375.8 577.8,377.8C577.3,379.8 577.5,380.1 576.4,381.2C575.3,382.3 575.5,381.8 573.7,381.9C571.9,382.0 571.4,381.8 569.6,381.6C567.8,381.4 568.0,382.2 566.9,381.2C565.8,380.2 566.0,379.6 565.5,377.8C565.1,376.0 565.6,376.2 565.2,374.4C564.9,372.6 565.0,372.4 564.1,371.0C563.3,369.5 563.2,369.7 562.1,368.9C561.0,368.2 561.1,368.1 560.1,368.2C559.0,368.4 558.9,368.5 558.0,369.6C557.1,370.7 557.2,370.7 556.6,372.3C556.1,374.0 556.3,373.9 556.0,375.8C555.6,377.6 556.0,377.9 555.3,379.2C554.5,380.4 554.5,380.3 553.2,380.5C552.0,380.7 551.8,380.6 550.5,379.8C549.2,379.1 549.4,379.3 548.5,377.8C547.5,376.3 547.8,376.2 547.1,374.4C546.4,372.6 546.6,372.4 545.7,371.0C544.8,369.5 544.9,369.8 543.7,368.9C542.4,368.0 542.6,368.3 540.9,367.6C539.3,366.8 539.2,366.8 537.5,366.2C535.9,365.6 536.3,365.7 534.8,365.2C533.3,364.8 533.5,364.4 532.1,364.4C530.6,364.4 530.8,364.8 529.3,365.2C527.9,365.7 528.2,365.9 526.6,366.2C525.1,366.5 525.0,366.7 523.5,366.2C521.9,365.7 521.9,365.6 520.7,364.1C519.6,362.7 519.8,362.9 519.1,360.7C518.4,358.6 518.3,358.5 518.2,356.0C518.0,353.4 517.8,353.2 518.4,351.2ZM582.6,323.9C583.5,321.7 583.5,321.1 585.3,319.1C587.1,317.1 587.0,317.3 589.4,316.4C591.8,315.5 592.1,315.3 594.2,315.7C596.3,316.1 596.2,316.1 597.2,317.7C598.2,319.4 598.4,319.8 598.0,321.8C597.6,323.8 597.1,323.6 595.5,325.3C594.0,326.9 593.9,326.5 592.1,328.0C590.3,329.4 590.5,329.3 588.7,330.7C586.9,332.2 586.9,332.5 585.3,333.4C583.7,334.3 583.6,334.8 582.6,334.1C581.6,333.4 581.8,332.5 581.6,330.7C581.4,328.9 581.6,329.1 581.9,327.3C582.1,325.5 581.7,326.1 582.6,323.9ZM609.2,389.4C610.1,387.9 611.1,388.4 613.3,387.4C615.5,386.3 615.6,385.5 617.4,385.3C619.2,385.1 619.7,385.6 620.1,386.7C620.5,387.8 619.8,388.1 618.7,389.4C617.7,390.7 617.7,390.4 616.0,391.4C614.4,392.5 614.2,393.1 612.6,393.5C611.0,393.9 610.8,393.9 609.9,392.8C609.0,391.7 608.3,390.9 609.2,389.4ZM640.0,306.0C640.7,304.7 641.8,305.0 643.0,305.6C644.2,306.2 644.4,307.0 644.4,308.4C644.4,309.8 644.1,310.5 643.0,311.0C641.9,311.5 641.2,311.7 640.4,310.4C639.6,309.1 639.3,307.3 640.0,306.0ZM664.0,295.0C665.0,293.3 666.3,293.6 667.6,294.0C668.9,294.4 669.2,294.9 669.0,296.4C668.8,297.9 668.3,298.5 667.0,299.6C665.7,300.7 664.8,301.6 664.0,300.4C663.2,299.2 663.0,296.7 664.0,295.0ZM669.0,315.6C670.2,314.5 671.2,314.9 673.0,316.0C674.8,317.1 675.3,317.6 675.6,319.6C675.9,321.6 675.2,322.5 674.0,323.6C672.8,324.7 672.5,324.6 671.0,323.6C669.5,322.6 668.9,322.1 668.4,320.0C667.9,317.9 667.8,316.7 669.0,315.6ZM655.3,355.0C656.6,354.2 657.2,354.1 659.4,353.9C661.6,353.8 661.3,354.5 663.5,354.4C665.7,354.2 665.6,353.2 667.6,353.4C669.6,353.6 669.0,354.1 671.0,355.0C673.0,356.0 673.1,356.0 675.1,357.1C677.1,358.2 676.7,357.9 678.5,359.1C680.2,360.3 679.3,359.3 681.6,361.6C684.0,363.8 683.6,366.5 687.4,367.6C691.1,368.7 692.6,366.2 695.5,365.6C698.5,364.9 697.6,363.7 698.3,365.3C698.9,366.8 699.1,368.3 698.0,371.4C696.9,374.5 696.0,374.0 694.2,376.9C692.4,379.8 692.1,379.1 691.2,382.3C690.3,385.5 691.8,386.3 690.8,388.9C689.7,391.4 689.2,391.5 687.4,391.9C685.5,392.3 685.8,391.4 683.9,390.5C682.1,389.6 682.5,389.2 680.5,388.5C678.5,387.8 678.6,387.8 676.4,387.8C674.2,387.8 674.3,388.8 672.3,388.5C670.3,388.1 670.6,387.7 668.9,386.4C667.3,385.2 667.5,385.3 666.2,383.7C664.8,382.1 664.8,382.3 663.9,380.3C663.0,378.3 662.7,378.6 662.8,376.2C662.9,373.8 663.4,373.8 664.1,371.4C664.9,369.1 665.5,369.3 665.5,367.3C665.5,365.3 665.4,365.6 664.1,363.9C662.9,362.3 662.7,362.5 660.7,361.2C658.7,359.9 658.3,360.2 656.6,359.1C655.0,358.0 655.0,358.2 654.6,357.1C654.2,356.0 654.0,355.9 655.3,355.0ZM638.2,356.4C638.7,355.1 639.1,354.7 640.3,354.4C641.4,354.0 641.7,354.1 642.6,355.0C643.4,356.0 643.5,356.3 643.4,357.8C643.3,359.2 643.1,359.6 642.3,360.5C641.5,361.4 641.3,361.5 640.3,361.2C639.2,360.9 639.0,360.7 638.5,359.4C637.9,358.1 637.7,357.8 638.2,356.4ZM656.2,386.4C657.1,385.0 657.6,384.7 659.4,384.4C661.1,384.0 661.5,384.0 662.8,385.1C664.1,386.2 664.3,386.7 664.1,388.5C664.0,390.2 663.6,390.6 662.1,391.6C660.6,392.6 660.3,392.6 658.7,392.2C657.1,391.7 656.9,391.4 656.2,389.8C655.6,388.3 655.4,387.9 656.2,386.4ZM749.8,323.7C751.0,322.2 751.7,322.2 753.9,322.1C756.1,321.9 756.4,323.3 758.0,323.0C759.6,322.7 759.9,322.4 760.1,321.0C760.2,319.5 759.2,319.4 758.7,317.6C758.1,315.7 757.8,316.0 758.0,314.1C758.2,312.3 758.3,312.2 759.4,310.7C760.5,309.3 760.3,309.4 762.1,308.7C763.9,308.0 764.4,307.6 766.2,308.0C768.0,308.4 767.7,310.2 768.9,310.1C770.2,309.9 769.9,309.0 771.0,307.3C772.1,305.7 771.9,305.6 773.0,303.9C774.1,302.3 773.8,302.0 775.1,301.2C776.3,300.3 776.5,300.2 777.8,300.8C779.1,301.3 778.9,301.7 779.8,303.2C780.8,304.8 780.1,305.2 781.2,306.6C782.3,308.1 782.3,307.6 783.9,308.7C785.6,309.8 785.5,309.6 787.4,310.7C789.2,311.8 788.9,311.7 790.8,312.8C792.6,313.9 792.2,313.7 794.2,314.8C796.2,315.9 796.1,316.5 798.3,316.9C800.5,317.2 800.5,317.3 802.4,316.2C804.2,315.1 803.6,314.2 805.1,312.8C806.6,311.3 806.2,311.5 807.8,310.7C809.5,310.0 809.4,309.9 811.2,310.1C813.1,310.2 813.2,310.1 814.6,311.4C816.1,312.7 816.3,312.6 816.7,314.8C817.1,317.0 816.6,317.1 816.0,319.6C815.5,322.2 815.7,322.0 814.6,324.4C813.6,326.8 813.6,326.8 811.9,328.5C810.3,330.1 810.3,330.3 808.5,330.5C806.7,330.7 806.6,328.8 805.1,329.2C803.6,329.5 804.1,330.3 803.0,331.9C802.0,333.5 802.3,333.7 801.0,335.3C799.7,336.9 799.7,336.6 798.3,338.0C796.8,339.5 797.2,339.9 795.5,340.8C793.9,341.6 793.9,341.5 792.1,341.2C790.3,340.8 790.5,340.4 788.7,339.4C786.9,338.4 787.1,338.3 785.3,337.4C783.5,336.4 783.6,336.2 781.9,336.0C780.2,335.8 780.3,335.9 778.9,336.7C777.5,337.4 777.7,337.3 776.7,338.7C775.8,340.2 776.0,340.3 775.3,342.1C774.7,343.9 775.2,343.9 774.4,345.5C773.6,347.2 773.8,347.4 772.3,348.3C770.9,349.2 770.7,349.1 768.9,349.0C767.2,348.8 767.1,348.9 765.8,347.6C764.4,346.3 764.7,346.2 763.9,344.2C763.0,342.2 763.1,342.3 762.5,340.1C761.9,337.9 762.5,337.4 761.7,336.0C760.9,334.5 760.9,334.9 759.4,334.6C757.8,334.3 757.8,335.0 756.0,334.9C754.1,334.8 754.0,335.2 752.5,334.3C751.1,333.5 751.3,333.6 750.5,331.9C749.7,330.1 749.6,330.0 749.4,327.8C749.2,325.6 748.6,325.2 749.8,323.7ZM712.0,272.5C712.4,270.7 712.5,270.2 713.6,269.1C714.8,268.0 715.1,268.1 716.4,268.4C717.7,268.8 717.9,268.8 718.4,270.5C719.0,272.1 719.0,272.7 718.4,274.6C717.9,276.4 717.7,276.4 716.4,277.3C715.1,278.2 714.8,278.3 713.6,278.0C712.5,277.6 712.4,277.4 712.0,275.9C711.6,274.5 711.6,274.3 712.0,272.5ZM729.8,286.2C730.5,284.1 731.4,284.2 733.4,283.8C735.5,283.5 735.9,283.6 737.5,284.8C739.2,286.0 739.4,286.3 739.6,288.2C739.8,290.1 739.7,290.7 738.2,292.0C736.8,293.4 736.1,293.5 734.1,293.4C732.1,293.3 731.9,293.6 730.7,291.6C729.5,289.7 729.0,288.2 729.8,286.2ZM743.9,282.1C744.5,280.5 745.1,280.3 746.4,280.3C747.7,280.3 748.2,280.6 748.9,282.1C749.5,283.5 749.4,284.3 748.9,285.8C748.3,287.2 747.9,287.4 746.7,287.5C745.5,287.6 745.1,287.6 744.4,286.2C743.6,284.7 743.4,283.6 743.9,282.1ZM732.5,305.3C733.0,303.8 733.8,303.7 734.8,303.9C735.8,304.1 736.1,304.6 736.2,306.0C736.3,307.3 736.1,308.1 735.2,309.0C734.4,309.9 733.8,310.4 733.0,309.4C732.3,308.4 732.0,306.7 732.5,305.3ZM851.6,281.4C852.0,279.6 851.9,279.1 853.0,277.3C854.1,275.5 854.3,275.5 855.7,274.6C857.2,273.7 857.0,273.7 858.5,273.9C859.9,274.1 860.1,275.6 861.2,275.3C862.3,274.9 861.6,273.4 862.5,272.5C863.5,271.6 863.7,271.3 864.6,271.8C865.5,272.4 865.8,272.7 866.0,274.6C866.1,276.4 865.8,276.5 865.3,278.7C864.7,280.8 864.8,280.9 863.9,282.8C863.0,284.6 863.1,284.2 861.9,285.5C860.6,286.8 860.8,286.8 859.1,287.5C857.5,288.3 857.4,288.5 855.7,288.2C854.1,288.0 854.1,287.7 853.0,286.6C851.9,285.5 852.0,285.5 851.6,284.1C851.3,282.7 851.3,283.2 851.6,281.4ZM872.8,272.5C873.4,270.5 873.4,270.6 874.8,269.1C876.3,267.7 876.4,267.4 878.2,267.1C880.1,266.7 880.2,266.8 881.7,267.7C883.1,268.7 883.3,268.8 883.7,270.5C884.1,272.1 883.7,272.1 883.0,273.9C882.3,275.7 882.2,275.8 881.0,277.3C879.7,278.8 879.7,278.4 878.2,279.3C876.8,280.3 876.8,279.8 875.5,280.7C874.2,281.6 874.4,282.8 873.5,282.8C872.6,282.8 872.4,282.3 872.1,280.7C871.8,279.1 872.3,278.8 872.5,276.6C872.7,274.4 872.2,274.5 872.8,272.5ZM870.1,325.8C870.6,324.5 871.0,324.0 872.8,323.0C874.6,322.0 874.9,322.2 876.9,322.1C878.9,322.0 879.6,321.8 880.3,322.6C881.0,323.4 880.6,323.9 879.6,325.1C878.6,326.3 878.4,326.3 876.6,327.1C874.8,327.9 874.3,328.0 872.8,328.1C871.2,328.2 871.5,328.1 870.7,327.5C870.0,326.9 869.5,327.0 870.1,325.8ZM837.3,344.2C838.0,342.4 839.1,342.3 841.4,342.1C843.6,341.9 843.8,342.4 845.8,343.5C847.8,344.6 848.0,344.6 848.9,346.2C849.8,347.9 850.0,348.1 849.3,349.6C848.6,351.2 848.1,351.5 846.2,352.1C844.2,352.6 844.1,352.5 842.1,351.7C840.1,350.8 839.9,351.0 838.7,349.0C837.4,347.0 836.6,346.0 837.3,344.2ZM919.0,438.0C921.0,436.7 924.1,437.3 928.0,437.6C931.9,437.9 932.1,436.7 933.6,439.0C935.1,441.3 932.5,442.8 933.6,446.4C934.7,450.0 935.3,450.3 937.6,452.4C939.9,454.5 941.2,452.9 942.4,454.4C943.6,455.9 943.2,456.4 942.0,458.0C940.8,459.6 940.4,459.9 938.0,460.4C935.6,460.9 935.7,460.7 933.0,460.0C930.3,459.3 930.4,459.5 928.0,457.6C925.6,455.7 925.7,455.7 924.0,453.0C922.3,450.3 922.6,450.4 921.6,447.6C920.6,444.8 921.1,445.0 920.4,442.4C919.7,439.8 917.0,439.3 919.0,438.0Z" fill="#ff0000" stroke="none"/>
<path d="M288.6,306.4C289.7,305.5 290.2,305.2 291.6,305.6C293.0,306.0 293.5,306.4 294.0,308.0C294.5,309.6 294.4,310.1 293.6,311.6C292.8,313.1 292.3,313.5 291.0,313.6C289.7,313.7 289.5,313.2 288.6,312.0C287.7,310.8 287.6,310.5 287.6,309.0C287.6,307.5 287.5,307.3 288.6,306.4ZM316.4,349.6C316.8,348.5 317.9,348.6 319.0,349.0C320.1,349.4 320.2,349.8 320.4,351.0C320.6,352.2 320.3,353.1 319.6,353.6C318.9,354.1 318.5,354.1 317.6,353.0C316.7,351.9 316.0,350.7 316.4,349.6ZM348.0,408.0C348.9,407.1 349.4,407.8 350.4,408.4C351.4,409.0 351.7,409.0 351.6,410.4C351.5,411.8 351.0,412.5 350.0,413.6C349.0,414.7 348.7,414.9 348.0,414.4C347.3,413.9 347.2,413.3 347.2,411.6C347.2,409.9 347.1,408.9 348.0,408.0ZM374.4,421.0C375.5,419.9 376.4,419.6 378.0,420.0C379.6,420.4 380.1,420.8 380.4,422.4C380.7,424.0 380.2,424.9 379.0,426.0C377.8,427.1 377.3,426.9 376.0,426.4C374.7,425.9 374.4,425.4 374.0,424.0C373.6,422.6 373.3,422.1 374.4,421.0ZM365.0,447.6C365.5,447.2 366.6,447.5 368.0,448.4C369.4,449.3 370.1,450.0 370.4,451.0C370.7,452.0 370.2,452.3 369.0,452.0C367.8,451.7 367.1,451.2 366.0,450.0C364.9,448.8 364.5,448.0 365.0,447.6ZM518.4,352.5C519.0,351.5 519.0,351.2 520.5,350.5C521.9,349.8 522.1,349.6 523.9,349.8C525.7,350.0 525.5,350.3 527.3,351.2C529.1,352.1 529.1,352.3 530.7,353.2C532.3,354.1 532.1,354.5 533.4,354.6C534.8,354.7 534.3,353.9 535.8,353.5C537.2,353.1 536.8,353.0 538.9,353.0C541.0,353.0 541.3,353.2 543.7,353.5C546.0,353.8 546.0,354.2 547.8,353.9C549.6,353.7 548.9,353.6 550.5,352.5C552.1,351.5 552.1,351.1 553.9,349.8C555.7,348.5 555.3,348.9 557.3,347.8C559.3,346.7 559.4,346.6 561.4,345.7C563.4,344.8 563.0,345.0 564.8,344.4C566.7,343.7 566.2,344.1 568.2,343.4C570.2,342.7 570.3,342.5 572.3,341.6C574.3,340.8 574.6,339.7 575.8,340.3C576.9,340.8 576.5,341.9 576.7,343.7C576.9,345.5 576.1,345.5 576.4,347.1C576.7,348.7 576.7,348.7 577.8,349.8C578.9,350.9 578.9,350.6 580.5,351.2C582.2,351.7 581.8,351.9 583.9,351.9C586.1,351.9 586.4,351.5 588.7,351.2C591.1,350.8 591.0,350.3 592.8,350.5C594.6,350.7 594.3,351.0 595.5,351.9C596.8,352.8 596.9,352.8 597.6,353.9C598.3,355.0 598.8,355.3 598.3,356.0C597.7,356.6 597.4,356.1 595.5,356.2C593.7,356.4 593.6,356.4 591.4,356.6C589.3,356.9 589.5,356.9 587.4,357.3C585.2,357.8 585.1,357.7 583.3,358.4C581.4,359.1 581.8,359.1 580.5,360.1C579.3,361.0 579.2,360.6 578.5,362.1C577.8,363.6 578.2,363.7 577.8,365.5C577.4,367.3 577.5,367.1 577.1,368.9C576.8,370.7 576.8,370.3 576.4,372.3C576.1,374.3 576.3,374.4 575.8,376.4C575.2,378.4 575.7,378.8 574.4,379.8C573.1,380.9 572.4,380.5 571.0,380.5C569.5,380.5 569.7,380.9 568.9,379.8C568.2,378.8 568.5,378.4 568.2,376.4C568.0,374.4 568.3,374.3 568.0,372.3C567.6,370.3 567.5,370.4 566.9,368.9C566.2,367.5 566.4,367.6 565.5,366.9C564.6,366.2 564.7,366.6 563.5,366.2C562.2,365.8 562.2,365.5 560.7,365.5C559.3,365.5 559.1,365.5 558.0,366.2C556.9,366.9 557.6,367.3 556.6,368.2C555.7,369.2 555.9,369.6 554.6,369.6C553.3,369.6 553.1,369.0 551.9,368.2C550.6,367.5 551.1,367.1 549.8,366.9C548.5,366.7 548.5,367.6 547.1,367.6C545.6,367.6 546.0,367.4 544.4,366.9C542.7,366.3 542.6,366.2 540.9,365.5C539.3,364.8 539.7,364.8 538.2,364.1C536.8,363.5 536.9,363.6 535.5,363.1C534.0,362.5 534.2,362.2 532.8,362.1C531.3,362.0 531.5,362.2 530.0,362.8C528.6,363.3 528.8,363.6 527.3,364.1C525.8,364.7 526.0,365.0 524.6,364.8C523.1,364.6 523.0,364.6 521.8,363.5C520.7,362.4 520.9,362.4 520.2,360.7C519.5,359.1 519.6,359.0 519.1,357.3C518.6,355.7 518.6,355.9 518.4,354.6C518.2,353.3 517.9,353.6 518.4,352.5ZM586.0,323.2C586.4,321.5 586.6,321.0 588.0,319.8C589.5,318.6 589.7,318.7 591.4,318.8C593.2,319.0 593.5,319.3 594.4,320.5C595.4,321.6 595.4,321.8 594.9,323.2C594.3,324.6 594.0,324.6 592.5,325.7C591.1,326.7 591.0,326.9 589.4,327.0C587.8,327.2 587.6,327.2 586.7,326.2C585.8,325.2 585.6,324.9 586.0,323.2ZM608.1,372.1C608.7,371.2 609.1,370.7 610.3,370.7C611.5,370.7 612.1,371.1 612.6,372.1C613.1,373.0 612.9,373.5 612.2,374.4C611.5,375.3 611.0,375.5 609.9,375.3C608.8,375.2 608.6,374.8 608.1,374.0C607.6,373.1 607.5,372.9 608.1,372.1ZM548.5,374.4C548.8,373.5 549.4,373.2 550.2,373.4C551.1,373.6 551.4,374.1 551.6,375.1C551.7,376.1 551.5,376.7 550.8,377.1C550.0,377.6 549.5,377.4 548.9,376.7C548.2,376.0 548.1,375.3 548.5,374.4ZM671.7,364.6C672.6,362.8 672.7,363.3 674.4,362.5C676.1,361.8 676.1,362.0 678.1,361.9C680.0,361.7 679.1,360.3 681.6,361.9C684.1,363.5 683.6,366.8 687.4,367.9C691.1,368.9 692.6,366.4 695.5,365.8C698.5,365.2 697.7,364.1 698.3,365.6C698.9,367.0 698.8,368.5 697.7,371.4C696.6,374.4 695.9,373.9 694.2,376.6C692.4,379.3 693.0,379.9 691.2,381.7C689.4,383.4 689.5,382.8 687.4,383.0C685.2,383.2 685.4,382.7 683.3,382.3C681.1,382.0 681.2,382.0 679.2,381.7C677.2,381.3 677.4,381.9 675.8,381.0C674.1,380.1 674.2,380.1 673.0,378.2C671.8,376.4 671.8,376.5 671.2,374.1C670.7,371.8 670.9,371.9 671.0,369.4C671.1,366.8 670.7,366.4 671.7,364.6ZM657.1,386.7C657.9,385.7 658.3,385.4 659.8,385.3C661.2,385.3 661.6,385.4 662.5,386.4C663.4,387.5 663.4,387.9 663.1,389.2C662.7,390.4 662.4,390.7 661.1,391.2C659.9,391.8 659.6,391.8 658.4,391.2C657.3,390.7 657.1,390.4 656.8,389.2C656.4,388.0 656.3,387.7 657.1,386.7ZM750.5,324.8C751.4,323.7 751.9,323.7 753.9,323.7C755.9,323.7 756.0,323.9 758.0,324.8C760.0,325.7 759.8,326.7 761.4,327.1C763.1,327.6 762.7,327.2 764.1,326.4C765.6,325.7 765.4,325.8 766.9,324.4C768.3,322.9 768.5,322.8 769.6,321.0C770.7,319.2 770.2,319.4 771.0,317.6C771.7,315.7 771.4,315.8 772.3,314.1C773.2,312.5 773.1,312.5 774.4,311.4C775.7,310.3 775.7,310.1 777.1,310.1C778.6,310.1 778.9,310.1 779.8,311.4C780.8,312.7 780.7,313.0 780.5,314.8C780.3,316.7 779.7,316.4 779.2,318.2C778.6,320.1 778.1,320.4 778.5,321.7C778.8,322.9 779.3,323.0 780.5,323.0C781.8,323.0 781.8,322.7 783.3,321.7C784.7,320.6 784.5,320.0 786.0,318.9C787.4,317.8 787.3,317.6 788.7,317.6C790.2,317.6 790.0,318.0 791.4,318.9C792.9,319.8 792.5,320.1 794.2,321.0C795.8,321.9 795.8,321.4 797.6,322.3C799.4,323.2 799.5,323.1 801.0,324.4C802.5,325.7 802.7,325.5 803.0,327.1C803.4,328.8 803.1,328.9 802.4,330.5C801.6,332.2 801.6,331.8 800.3,333.3C799.0,334.7 799.0,334.5 797.6,336.0C796.1,337.4 796.5,338.0 794.9,338.7C793.2,339.4 793.1,339.3 791.4,338.7C789.8,338.2 790.2,337.8 788.7,336.7C787.3,335.6 787.6,335.5 786.0,334.6C784.3,333.7 784.4,333.5 782.6,333.3C780.8,333.0 780.8,333.0 779.2,333.5C777.5,334.1 777.7,334.1 776.4,335.3C775.2,336.5 775.3,336.4 774.4,338.0C773.5,339.7 773.7,339.8 773.0,341.4C772.3,343.1 772.7,343.3 771.7,344.2C770.6,345.1 770.4,345.0 768.9,344.9C767.5,344.7 767.5,344.6 766.2,343.5C764.9,342.4 765.1,342.4 764.1,340.8C763.2,339.1 763.3,339.2 762.8,337.4C762.2,335.5 762.8,335.2 762.1,333.9C761.4,332.7 761.5,332.8 760.1,332.6C758.6,332.4 758.3,333.0 756.6,333.3C755.0,333.5 755.2,334.1 753.9,333.5C752.6,333.0 752.8,332.7 751.9,331.2C751.0,329.7 750.9,329.5 750.5,327.8C750.1,326.1 749.6,325.9 750.5,324.8ZM761.7,311.4C762.4,310.5 762.7,310.1 764.1,310.1C765.6,310.0 766.2,310.2 767.2,311.1C768.1,312.1 768.0,312.3 767.6,313.5C767.1,314.6 766.8,315.0 765.5,315.5C764.2,316.0 763.9,315.8 762.8,315.2C761.7,314.7 761.7,314.5 761.4,313.5C761.1,312.4 761.0,312.3 761.7,311.4ZM808.5,315.2C809.1,314.3 809.7,314.1 811.2,314.1C812.8,314.2 813.6,314.5 814.4,315.5C815.1,316.5 814.8,317.1 814.0,318.0C813.1,318.9 812.6,319.0 811.2,318.9C809.9,318.8 809.6,318.5 808.9,317.6C808.2,316.6 807.9,316.2 808.5,315.2ZM731.1,286.9C731.7,285.5 732.0,285.5 733.4,285.2C734.9,284.9 735.3,285.0 736.6,285.8C737.9,286.6 738.1,286.8 738.2,288.2C738.3,289.6 738.0,290.0 736.9,290.9C735.7,291.9 735.3,291.8 733.8,291.6C732.4,291.4 732.1,291.5 731.4,290.3C730.7,289.0 730.6,288.2 731.1,286.9ZM852.6,282.1C852.9,280.8 853.3,280.1 854.4,279.8C855.4,279.4 855.8,279.7 856.4,280.7C857.0,281.7 857.0,282.2 856.7,283.4C856.3,284.6 856.0,285.0 855.0,285.2C854.1,285.5 853.6,285.2 853.0,284.4C852.3,283.6 852.2,283.3 852.6,282.1ZM922.0,438.0C923.3,437.1 924.9,437.3 928.0,437.6C931.1,437.9 932.1,436.7 933.6,439.0C935.1,441.3 932.5,442.8 933.6,446.4C934.7,450.0 935.6,450.1 937.6,452.4C939.6,454.7 940.9,453.6 941.0,455.0C941.1,456.4 940.0,457.1 938.0,457.6C936.0,458.1 935.8,457.9 933.6,457.0C931.4,456.1 931.5,456.3 929.6,454.4C927.7,452.5 927.9,452.5 926.4,450.0C924.9,447.5 924.9,447.4 924.0,445.0C923.1,442.6 923.5,442.9 923.0,441.0C922.5,439.1 920.7,438.9 922.0,438.0Z" fill="#961414" stroke="none"/>
<path d="M582.6,340.9C583.7,339.1 584.0,339.3 586.0,338.9C588.0,338.5 588.3,338.7 590.1,339.6C591.9,340.5 592.1,340.5 592.8,342.3C593.5,344.1 593.4,344.5 592.8,346.4C592.3,348.3 592.2,348.3 590.8,349.4C589.3,350.5 589.2,350.6 587.4,350.5C585.5,350.4 585.4,350.4 583.9,349.1C582.5,347.9 582.3,347.9 581.9,345.7C581.5,343.5 581.5,342.8 582.6,340.9Z" fill="#ffff00" stroke="none"/>
<path d="M598.5,334.8C599.8,333.0 600.1,332.9 602.4,332.8C604.7,332.6 605.6,332.3 607.1,334.1C608.7,335.9 608.3,337.0 608.1,339.6C607.9,342.1 608.0,342.0 606.5,343.7C604.9,345.3 604.4,345.5 602.4,345.7C600.4,345.9 600.2,346.0 599.0,344.4C597.7,342.7 597.7,342.1 597.6,339.6C597.5,337.0 597.3,336.6 598.5,334.8ZM584.9,342.6C585.8,341.7 586.3,341.4 587.6,341.6C588.9,341.8 589.2,342.2 589.8,343.4C590.4,344.6 590.3,345.0 589.8,346.1C589.3,347.3 589.1,347.5 588.0,347.8C586.9,348.0 586.7,347.8 585.7,347.1C584.7,346.4 584.6,346.2 584.3,345.0C584.1,343.8 584.0,343.5 584.9,342.6ZM553.9,341.6C554.6,340.5 555.4,340.5 556.6,340.7C557.9,340.9 558.2,341.1 558.7,342.3C559.2,343.5 559.1,343.9 558.4,345.0C557.7,346.1 557.2,346.5 556.0,346.4C554.8,346.3 554.5,346.0 553.9,344.8C553.4,343.5 553.2,342.7 553.9,341.6ZM649.8,363.9C650.7,363.0 651.3,362.7 652.5,363.0C653.7,363.2 654.1,363.7 654.3,364.9C654.6,366.0 654.3,366.5 653.5,367.3C652.7,368.2 652.3,368.3 651.2,368.0C650.1,367.7 649.8,367.3 649.4,366.2C649.0,365.1 649.0,364.8 649.8,363.9ZM798.0,303.5C798.6,302.3 798.9,302.0 800.3,301.6C801.8,301.2 802.3,301.3 803.5,302.1C804.7,302.9 804.8,303.2 804.8,304.6C804.8,306.0 804.7,306.4 803.5,307.3C802.3,308.2 801.8,308.3 800.3,308.0C798.9,307.7 798.6,307.4 798.0,306.2C797.4,305.0 797.4,304.7 798.0,303.5ZM757.6,297.1C758.1,295.9 758.4,295.3 759.4,295.3C760.3,295.3 760.8,295.8 761.1,297.1C761.5,298.4 761.4,299.0 760.7,300.2C760.1,301.4 759.6,301.7 758.7,301.6C757.8,301.5 757.6,301.0 757.3,299.8C757.0,298.6 757.1,298.3 757.6,297.1Z" fill="#c8ffc8" stroke="none"/>
</g>
<path d="M619.0,390.0C621.4,387.9 627.3,387.9 630.0,390.0C632.7,392.1 629.5,393.7 629.0,398.0C628.5,402.3 628.4,401.7 628.0,406.0C627.6,410.3 627.6,409.7 627.6,414.0C627.6,418.3 627.4,418.0 628.0,422.0C628.6,426.0 630.0,425.5 630.0,429.0C630.0,432.5 629.3,434.7 628.0,435.0C626.7,435.3 626.2,433.5 625.0,430.0C623.8,426.5 624.1,426.3 623.6,422.0C623.1,417.7 623.4,418.3 623.0,414.0C622.6,409.7 622.5,410.3 622.0,406.0C621.5,401.7 621.8,402.3 621.0,398.0C620.2,393.7 616.6,392.1 619.0,390.0ZM613.0,433.0C614.1,430.6 615.6,430.9 618.0,429.0C620.4,427.1 620.4,425.7 622.0,426.0C623.6,426.3 622.9,427.1 624.0,430.0C625.1,432.9 626.3,434.1 626.0,437.0C625.7,439.9 625.1,440.2 623.0,441.0C620.9,441.8 620.4,440.8 618.0,440.0C615.6,439.2 615.3,439.9 614.0,438.0C612.7,436.1 611.9,435.4 613.0,433.0ZM625.0,439.0C626.6,436.1 627.5,436.7 631.0,437.0C634.5,437.3 634.5,438.4 638.0,440.0C641.5,441.6 642.0,440.9 644.0,443.0C646.0,445.1 646.4,445.9 645.6,448.0C644.8,450.1 643.6,449.4 641.0,451.0C638.4,452.6 638.7,452.7 636.0,454.0C633.3,455.3 633.6,456.0 631.0,456.0C628.4,456.0 628.0,456.1 626.4,454.0C624.8,451.9 625.4,452.0 625.0,448.0C624.6,444.0 623.4,441.9 625.0,439.0ZM616.0,391.0C616.5,389.1 618.3,389.3 622.0,388.0C625.7,386.7 627.1,385.7 630.0,386.0C632.9,386.3 632.5,386.9 633.0,389.0C633.5,391.1 633.9,392.9 632.0,394.0C630.1,395.1 629.2,392.7 626.0,393.0C622.8,393.3 622.7,395.5 620.0,395.0C617.3,394.5 615.5,392.9 616.0,391.0ZM876.0,508.0C877.2,505.4 877.6,504.1 880.0,502.4C882.4,500.7 882.1,501.2 885.0,501.6C887.9,502.0 887.5,503.1 891.0,504.0C894.5,504.9 894.5,505.5 898.0,505.0C901.5,504.5 901.1,503.1 904.0,502.0C906.9,500.9 907.9,500.5 909.0,501.0C910.1,501.5 909.9,502.4 908.0,504.0C906.1,505.6 904.7,505.4 902.0,507.0C899.3,508.6 900.7,508.8 898.0,510.0C895.3,511.2 895.2,510.8 892.0,511.6C888.8,512.4 889.2,512.4 886.0,513.0C882.8,513.6 882.8,514.3 880.0,514.0C877.2,513.7 876.7,513.6 875.6,512.0C874.5,510.4 874.8,510.6 876.0,508.0ZM424.4,138.5C428.7,136.5 430.9,136.9 439.6,136.4C448.4,135.8 451.3,134.3 457.1,136.4C462.9,138.4 458.0,140.2 461.5,144.0C464.9,147.8 464.9,148.8 470.2,150.5C475.4,152.3 475.9,152.3 481.1,150.5C486.3,148.8 486.3,146.9 489.8,144.0C493.3,141.1 492.1,140.2 494.2,139.6C496.2,139.1 497.2,138.9 497.5,141.8C497.7,144.7 496.7,145.9 495.3,150.5C493.8,155.2 495.2,156.4 492.0,159.3C488.8,162.2 488.5,160.6 483.3,161.5C478.0,162.3 478.2,161.1 472.4,162.5C466.5,164.0 466.7,164.6 461.5,166.9C456.2,169.2 456.8,169.8 452.7,171.3C448.7,172.7 448.8,173.8 446.2,172.4C443.6,170.9 444.7,169.3 442.9,165.8C441.2,162.3 442.3,162.2 439.6,159.3C437.0,156.4 436.6,157.5 433.1,154.9C429.6,152.3 429.2,152.4 426.5,149.5C423.9,146.5 423.9,146.9 423.3,144.0C422.7,141.1 420.0,140.6 424.4,138.5ZM941.0,266.0C942.9,263.6 945.9,263.4 948.0,265.0C950.1,266.6 949.0,268.0 949.0,272.0C949.0,276.0 949.3,276.8 948.0,280.0C946.7,283.2 946.1,283.5 944.0,284.0C941.9,284.5 940.8,284.7 940.0,282.0C939.2,279.3 940.7,278.3 941.0,274.0C941.3,269.7 939.1,268.4 941.0,266.0ZM699.0,363.9C700.0,362.5 701.4,362.5 702.6,362.7C703.8,362.9 703.6,362.6 703.5,364.6C703.3,366.6 703.2,366.7 702.0,370.1C700.7,373.4 700.6,373.5 698.8,377.2C697.0,380.8 697.0,380.7 695.1,383.7C693.3,386.7 693.0,388.2 692.0,388.5C690.9,388.8 690.7,387.5 691.2,384.8C691.7,382.1 692.3,381.4 693.9,378.2C695.5,375.0 695.9,375.5 697.2,372.8C698.4,370.1 698.1,370.4 698.5,368.0C699.0,365.6 697.9,365.3 699.0,363.9Z" fill="#fff" stroke="none"/>
<g fill="none" stroke="#000" stroke-width="1" stroke-linejoin="round" shape-rendering="crispEdges">
<use href="#landshape"/>
<path d="M217.4,172.1l0.9,2.6M218.7,172.1l-0.4,4.2M219.7,172.7l-5.1,1.9M220.7,173.3l1.1,1.9M222.7,173.9l4.5,2.5M224.7,174.7l0.6,4.5M227.7,176l-0.8,2.7M228.8,176.6l-1.4,2.4M230.1,177.4l-2.9,2.5M235.9,176.7l-0.6,3.5M246.1,176.9l-0.5,2.3M251.1,176.3l2.9,3.4M253.7,177l-5.3,2.4M255.5,178.3l-1.7,1.3M259.9,178.8l-2.6,2.6M262.2,179.2l-6.1,1.7M268.1,180.6l-2.5,2.7M270.2,179.7l0.6,2.5M275.3,179.9l-6.2,1.9M276.3,180.3l-0.2,2.3M277,181l-4-0.5M277.3,180.9l6.9,0.7M281.4,179.1l0.6,1.9M285.8,181.7l2.6,0.8M287,181.7l-0.3,3.9M289.6,181.8l2.8,2.8M291.1,182l-3.7,2.4M293.8,180.9l-1.7,1.6M295.1,180.3l6.6,1.2M298.7,181.3l1.7,2.7M301.8,181.5l-1.1,3.9M303,180.4l6.4-0.2M305.6,180.2l-3.5,2.6M306.6,179.8l3.2,0.1M307.5,176.8l4.9,0M308.5,176.5l-4.8,2.2M310.8,174.9l3.8,3.1M310.9,172.4l5.6,2.2M311.2,168.8l0.1,2M313.6,170.2l1.4,1.4M317.2,173.9l-2.8,3.2M317.8,175.8l-0.3,3M320.7,178.3l-3,1.2M323.1,179.8l-3.9,1.5M324.1,181.3l-3.9,1.7M324.6,181.7l5.6,1.8M328.6,181.6l1.3,2.9M329.4,180.8l4.2,0.1M330.1,179.7l0.5,1.8M331,177.8l-1,3M333.1,177.1l-1.6,4M335.4,176.5l-0.9,3.3M337.9,175.5l-0.5,2.1M341.9,175.1l1.4,4.7M343.3,174.9l-3.8,2.2M344.2,175.9l-6.6,1.2M345.2,179.3l-1.7,3.1M344.9,180.6l-0.1-3.1M342.8,181.1l-4.1-0.9M342.3,184.2l-2.8,3.5M342.8,185.2l-3.9-0.6M337.8,186.6l-0.8-2.7M335.2,187.1l-5.6-2.4M359.9,200.7l-0.7,2.7M373,202.9l-3.5,2.5M377.1,206.1l-4.7,2.8M379.8,210.1l-5.3,3.9M385.2,210.8l0.2,1.9M389.2,207.5l5.8,3.3M391.1,206.1l-1.1,1.5M393.6,205.9l-6.1,2.7M394.1,207.2l-4.1-1.7M394.3,209.4l-1.1,2.8M397.2,213.9l-2.3,1.6M398.2,215.5l-2.4,0.1M398.9,217.3l-2.7,0M400.5,219.2l-0.4,1.9M401.3,221.5l-1.9,1.7M402.8,222.4l-3.8,0.8M405.5,225.1l-1.8,0.7M407.1,226l-0.8,1.3M410,226.8l-1.8-0.5M410,228.8l-4.1,1.3M412.3,229.9l-2.7,2.2M411.8,234.8l-1.5-1.2M409.9,235.4l1-2.6M401.3,238.3l-0.9-1.6M400.3,237.6l2.2-0.2M398.4,238.1l-1.1-1.2M394.6,237l-0.4-2.6M391.5,238.3l-2.7-2.4M234.5,240.3l1-2.6M232.9,240.1l-2.3-1.1M231.5,239.8l1.9-1.4M230.5,238.5l5.6,0.2M225.5,235.4l2.7,0.5M225.8,234.5l1.2,1.9M223.7,233.1l2.1-2.9M222.2,233l1.1-2.3M219.9,230.8l0.5-3.2M216.8,227.5l1.4-1M216,226.4l2.2-1.8M215,225.5l0.8-3.4M213.5,223.1l3.4-2.2M210,219.3l0.8-1.2M208.7,217.9l2.2-0.7M205.8,216.7l4.4,2M203,213.3l2.1-2.3M202.1,212.4l3.2-1.1M201.9,211.3l3.1,1.1M199,210.8l0.4-2M194.9,211l1.3-1.3M191,208.6l2-0.1M186.8,207.1l-2.1-2.9M185.9,207.3l-1.7-0.5M185.3,208.2l-5.5-0.7M184.7,209.2l-2.3-1.3M181.7,206.9l1.5-1.8M179.5,207l0.5-2.1M178.3,206.1l1-1.4M176.6,205.7l-1.1-2.5M174.1,205.7l1.6-1.4M167,205.2l1.4-1.5M165.5,205.5l-2.4-0.5M157.2,209.7l1.4-3.1M155.5,207.1l4.7,1.2M157.3,204.6l4.3,2.2M158.7,203.8l2.9,1.9M159.9,203.4l0.3-3.6M158,203.4l0.6-3.5M154.8,204.7l-1.4-3.4M154.2,206l-4.6,1.2M154.1,207.3l-3.1,0M153.5,208.8l-4.1-0.4M152.3,209.4l0.3-1.4M150.2,211.6l0.9-2.2M148.2,213.5l-2.6-1.9M146.8,214.2l-2.1-3.2M145.3,214.6l-1.6-2.5M141.7,216.6l-1.9-0.1M138.4,218.1l-3.5-1.2M135.4,219l-1.1-2.2M135.1,217.5l1.2,1.3M136.6,216.4l1.4,1.3M141.9,213.6l1.8,1.3M138.7,211l0.4-2.9M137.4,211.5l-1.2-0.9M136,211.8l0.7-2.3M437.7,204l0.6-3M428.9,196.7l1.8-2.3M427.8,196.9l-2.8-3.7M425.9,196.5l7.4-0.7M426.2,195.6l0.4,3.7M425.7,193.4l3.9-0.6M424.5,192.5l4.8-3.5M423.7,191.4l3.7-1.5M423.2,188.5l5.5-2.1M422.4,187.4l2.5-0.6M421.4,186.3l5.5-2.5M420.8,185.1l5.9-0.9M422,182.4l-2.3,3.8M422.4,181.6l5-2.7M422,180.2l5.5-0.4M423.7,176.6l5.5-1.2M424.8,175.8l-0.7,3.2M426.6,175.9l0.8,4.9M426.7,175.9l1.3-1.7M425.4,176.4l-2.5-2.3M424.1,177.5l0.2-2.5M422.8,177l1.8-2.3M421.8,175.8l0.9-3.3M418.8,173.1l1.1-1.6M418,172.3l4-1.5M416.8,170.1l5,2.1M417.3,166.4l3.2,0.4M416.7,165.8l-0.2-2.7M415.6,165.2l3.7-0.9M414.8,163.9l4.3-1.6M413.6,163.7l-1.5-2.8M412.8,162.2l6.4,0.4M410.9,159.4l0.9-2.1M409.2,158.4l2.5,0.3M408.9,157.7l1-1.8M407.8,157.2l2.9-3.8M401.1,153.4l-1.8-3.2M399.6,153.2l-1.4-3.8M394,154.3l-2-1.3M389.5,153.9l2.1-4.9M385.4,154.6l4.3-1.9M384.4,153.8l2.4-4.7M381.9,152.8l2.6-1.2M377,153l3.5-2.3M375.5,152.4l0.6-4.5M373.9,151.9l4.7-2.1M372.4,150.9l2.7-2.6M371.4,149.5l3.1,0M376,148.8l2.6,3.7M380,146.4l-4.3,2.9M381.6,146l4.2,1M382.5,143.1l6.1-1M383,142.1l2.8,2.5M384.6,142.1l0.9,4M386.6,140.6l2,1.7M387.9,139.9l1.7,3.7M389.2,140.2l-1.5,4.5M390.6,140.1l2.5,1.6M396.3,137.4l2.6-1M396.8,136.4l1.5,1.3M398,135.8l2.9,2.9M402.4,136.4l0.8,5.1M404.2,136.6l2.6,4.4M406,136.9l-0.8,3.2M413.6,136.3l-5-0.8M415.5,135.6l1.4,4.8M416.4,135.2l3.4,2.3M417.8,134.9l-2.4,2M420.7,134l-1,1.9M425.7,136.1l3.2,4.1M430,135.1l0.3,3.9M433,136.2l-4,1.1M434.7,134.4l-1,4.7M436.3,133.6l4.9,1.9M439,133.3l6.6,3.1M443.1,133.8l0.9,4.6M447.2,133.7l-1.3,3.7M451.2,132.5l-0.3,2.8M455.2,131.1l3.6,4.4M456.6,131.2l-2.7,2M458,131.2l0.2,3.4M460.2,129.9l-5.1,3M461.7,130.4l1.5,4.3M464.6,129.9l-1.3,5.1M468.4,130.1l-5,3.4M472.5,129.7l-0.6,3M476.9,129.4l-1.6,4.5M478.1,130.2l-4.9,2.9M479.6,130.5l0.5,4.2M482.4,131.8l-4,1.8M483.6,133l-5,0.2M484.8,133.6l-1.6,2.9M487.7,133.4l7.2,2.2M488.7,132.3l0.9,4.6M492.2,131.9l0.4,2.2M495.8,132l-3.3,2.3M497.6,133.2l-6.3-0.3M498.2,134.2l-3.8,1.4M499.2,134.2l0.4,4.9M500.3,133.9l0.6,4.3M501.4,134l-2.9,2.6M503.8,134.3l3.7,4.6M505,135.9l-2.8,0.3M506.7,136.6l-1.2,1.4M507.8,137.2l-5.7,2.9M508.8,137.1l4.5,2.7M513.5,137.8l-1.1,1.6M514.9,138l-0.7,1.8M516.7,138.3l-4.8,3.8M518.5,138.4l1.7,1.8M525.2,137.3l4.3,3.9M527,138.4l-5.4-2.5M518.9,141.6l-3.7-0.2M518.4,142.7l-3.2-3.3M517.7,144.1l-6.9-2M516.7,145.2l0.4-2.8M515.5,146.2l-7.4-1.5M514.9,147.7l-2.8-1.4M514.4,150.1l-5.6-3.2M513.8,151.2l-4.2,0.9M511.9,152.4l-3.3-0.5M511.8,158.7l-2.4-2.9M509.1,161.1l-7.1-0.9M507,162.5l-3.1-0.4M506,164l-7.8,1.1M504.8,165l2.7-4.8M503.2,165.7l-3.4-1.2M502.2,168.9l-7.4-1.8M501.9,170.3l-7.1-0.4M505.7,172.1l-3.5-1.2M504.8,172.6l1.5-3.1M503.1,172.7l-2.9-0.9M501.5,173.8l-1.2-2.9M500.5,175.3l-2.5-1.3M499.5,176.8l-2.1-2.3M496.6,177.9l-3.5-1.4M494.1,179.5l1.7-2M492.9,179.7l-1.2-1.7M491.8,180.6l-2.7-3M490.7,181.2l-2.1-5M489.4,180.5l6.6-1.4M487.5,181.6l-2.9-2.5M482.3,181.2l0.1-3.3M481.6,181.4l-5-2.5M480,183.4l-5.5-1.4M475,187.1l-0.5-2.1M473.5,187.2l-0.6-1.7M468.7,187.6l-1.7-3.1M464.3,186.6l-2.3-1.8M461.7,185.9l-6.4-2.7M460.1,186.9l-1.9-1.9M459.7,188.3l-3.9,2.9M460,190l-4.2,0.6M459.6,191.8l-2-1M458.4,193.1l-3.4-3.2M456.7,193.8l0.4-3.6M454.8,196.4l-3.2,1M453.9,198.6l-6.9,0.9M450.5,202.1l-5.4,0M447.8,206.3l-6.5-3M389.8,543l-2.6-1.6M384.8,547.1l-3.9,1.1M384.5,548.7l1.6-2M383.4,550.4l-3.3,1M384.5,551.6l-2.1,1.8M386.2,552.3l-0.5,1.7M387.1,553.6l-4.3,0.7M387.1,556.4l0.2-1.5M385.2,557.9l-1.5-1.1M383.8,558.8l-1.2-1.2M382.5,559.9l-1.7-2.3M381,560.7l-0.3-2.8M379.5,561.7l-2.8-1.4M379,563.3l-2.3-0.8M379.9,564.6l-1.5,1.5M380.9,567.4l-1.4-1.7M380.4,569.1l-2-0.1M378.2,569.9l-0.1-1.2M377.2,570.5l-4.4-0.9M376,571.4l0.1-1.7M374.8,572.1l-2.1,0.4M373.6,573.3l0.6-1.8M370.5,574.1l-1.2-2.8M367.9,570.6l3.2-1M365.1,570.2l2.1-2.2M364.6,568.2l2.8,1.4M363.9,566.8l1-1.8M363.6,566l3.1,2.4M363.5,564.8l1.6-1M362.5,563.4l2.4-2.8M361.3,561.9l4.1-1.8M360.1,559.7l4.4-1.3M360.5,559.1l0.1,1.9M361.4,558.4l4.5,0M361.3,554.5l0.7,1.4M361.3,553.3l2.4-2.1M366.1,549.6l2.1,1.7M367,548.2l1.2-0.9M366.2,547.3l1.4-2.1M365.7,546.2l3,1M366.3,545.1l1,2.3M369.8,535.3l1.9,2.3M370.5,534.6l2.6-1.2M381.3,573.2l-2.1,0.7M383.4,575l-0.6,2M384.9,578.9l0.8-2.1M382.7,579.6l2.6-1.8M381.3,579.3l-1.9-3M372,576.6l0.8-1.2M371.9,575l-0.1,1.3M373.5,574.6l0.8,2.7M374.7,573.7l2.8,1.2M375.4,572.6l2-0.3M376.1,571.3l0.9,1.2M377.4,570.8l0.6,1.5M379.2,571l-1.2,3M629.4,211.6l0.8-1.4M634.2,206.1l-2.2-1.6M622.4,202.5l2.6,0M622.8,198l4.5,0.4M623.6,197.1l2.2,1.9M628.7,190.7l-0.1,1.5M630.3,190.9l-1.8,1.6M632.8,189.1l2.5-0.3M625.7,188.1l-0.8-1.2M625.1,189.2l-3.5,0.3M623.2,192.5l2.5-1.8M619.5,195.6l-1.1-1.5M618.6,197.1l-4.6-0.8M615.7,198.2l3.6-2M614.2,198.1l0.5-1.5M611.5,202.9l-2.8,0.4M613.5,205.8l-2.6,1.3M615.3,208.5l-3.5-1.2M594.5,212.6l4,1.7M594.9,211.2l1.7,0.7M594.4,210.3l1.6-2.7M593.6,209.3l2.5-0.7M588.2,210.6l4.6-0.4M587.9,210.9l-2.2-0.7M583.9,212.9l0.8-2.1M582.5,212.7l3.2-1.3M580.2,212.2l1.3-1M582,198.9l2.3,2.7M587.3,196.3l2.1,2.1M589.6,195.7l2.6,1.3M590.4,194.8l3.9,0.3M591.2,194l-0.7,1.5M592.1,193.3l1.6,0.6M602.9,181.5l-0.3,2M605.6,180.5l0.7,2.8M611.2,177l1.9,1.6M614.5,175.7l-2,0.2M617,175.4l-1.2,1.8M618.3,175.6l2.7,1.1M621,173.3l1.6,2.3M624.2,172.4l-1,1.8M627.6,172.9l-2.8,2.7M629.7,172.5l-0.2,1.8M630.5,173.4l-3.6-0.1M632.1,172.1l-1.1,1M636.5,169.1l0.2,2.3M641.9,173.5l-0.2,2.4M645.9,172.7l-2.2-0.2M646.6,173.6l-1.8,1.9M647.9,174.6l-3,0.9M745.6,169.2l3.5-1.2M747.8,165.8l1.3,2.3M753.1,166.9l-1.8,1.1M388.5,197l-1.3-1.7M386.2,197.8l-4.8-1.7M384.2,198.9l-0.1-4.1M381.2,198.4l-0.1-2.7M378,198.2l4.9,2.2M377.3,197.1l3.8-3.9M374.7,197.7l-1.2-4.7M374,196.9l6.4,0.4M370.2,195.1l7-1.4M366.3,193l3.4-0.9M362.6,192.4l-0.5-1.7M357.6,194.8l-1.2-1.5M360.7,187.5l5.7,1.5M365.5,188.1l4.9-1.6M366.2,186.5l6,1.3M366.2,185.3l4.7-0.9M367.5,181.1l1.8-2.6M366.2,181.7l-4-3.3M365.1,181.6l5-1M364,180.6l1.5-2.6M360.5,178.7l3.8-0.8M359.5,178l2.4-3.4M354,175.3l4-2.3M353.3,173.8l5.7-0.2M352.5,172.5l0.6-4.5M347.4,174.1l-6.9-1.9M346.3,174.5l-1.7-4.6M341.7,173.3l-6.1,1.2M338.2,173.9l1.8-1.2M331.7,173.8l-3.1-1.5M327.2,171.8l0.5-3.9M325.9,172l0.5-1.6M321.9,166.8l1.7,3.5M322.6,164.7l3.1,3.4M324.9,162.8l4-3.8M327.3,160.1l3.2,1M338.8,160.4l-5,3.3M340.1,160.4l2.3,1M341.5,160.2l-2.4,3.5M346.4,164.3l-1.9,2.7M347.5,164.8l0.8,4.1M349.1,163.5l-0.5,3.4M354,164.9l-0.4,2.6M355.2,166.1l-2.6,1.2M356.5,166.9l0.2,1.7M362.6,166.1l-4.6,2.3M363.7,167.3l-6.4,2.8M367.9,167.5l1.4,4.1M369.8,169.7l-4.9-0.3M370.4,170.7l-2.6,2.7M371.7,170.7l5,4.1M378.5,173.1l1,4.8M379.2,173.8l-5.3,1.6M379.6,175.4l-2.6,0.1M381.5,177.4l3.5-0.1M382.5,176.8l-0.6,1.6M383.4,177.6l-2.8-0.1M384.5,178.4l-0.2,2.4M385.8,179l-6.5,2.1M386.1,180.3l-4.5-2.4M386.6,181.4l-0.6,2.2M388.1,181.5l4.3,3.5M392.1,183.4l-1.5,4.5M393.3,183.4l2.2,2.4M399,184.6l-6.5,2.2M397.7,186.2l-3.6-1.8M393.9,189.2l-6.7,0.2M392,190.2l4.3-2.9M390.8,190l-0.2-2M390.1,191.2l-3.6,0.3M368.8,171.2l5.9-2.1M369.8,176.9l5.4,0.8M361.4,175.7l6.1-1.2 -1.9,1.2ZM370.7,171.4l3.3-0.1 -1,1.2ZM339.7,167.9l3.1,1 -1,1.2ZM328.7,163l4-1.3M362.7,174.6l5.1,0.5M363.1,170.1l3.4,0.4M374.2,181.2l5.1,0.9 -1.6,1.2ZM334.6,163l5.8,0.4M393.8,184.7l6-1.4M375.5,190.2l5.7,1.7 -1.8,1.2ZM350.9,167.2l4.3,0.9M372.5,176.9l4.1,1.1 -1.3,1.2ZM365.7,172.4l7.4-2.2M368.5,182.7l4.8-1.5M375,178.5l3.6-1.2 -1.1,1.2ZM365.7,179l7.6,2.1 -2.4,1.2ZM287.2,178.4l-0.6-1.7M286,178.9l-4.4-1.1M284.1,178.1l3.5-3.3M282.8,178.4l-0.5-2.1M280.1,178.7l-2.5-1.5M272.5,178.8l-2.8-0.6M271.7,179.4l1.6-1.5M266.8,177.4l1.2-1.9M263.1,176.6l-1-1.8M262.2,177.3l-4.4,1.4M257.5,178.2l1.3-2.3M254.4,178l5.6,3.2M254.2,176.8l6.1-2.4M253.1,176.5l-1.4-1.8M251.9,176.5l5.5-1.6M248.8,173.5l4.8,1.1M250.8,172.6l5.8,2.8M248.3,168.5l-0.6-4.3M250,164l5.4,2.1M251.3,163.4l0.5,2.6M252.3,163.9l-2.1,0.9M252.6,164.9l-4.9-0.2M253.3,165.3l2.8,3.4M257,164.2l-0.4,4.2M258.6,164.3l0.1,3.3M259.9,165.4l-4.5,2.6M261.6,164.2l-1.9,3.4M264.9,166.1l-6.8,0.9M266.3,166.3l1.5,3.2M270.3,165.4l-4.5,1M271.3,165.7l2.5,2.5M275.1,164.1l1.1,2.4M276.1,163.8l-1.7,2.8M280,164.3l-5,1.3M281.1,165.4l-1.6,4.3M282.1,166.1l-6.6,1.9M287,169.6l-1.9,4.5M288.9,170.7l-2.1,1.5M290,173.8l-5.2,2.7M269.3,170.5l3.5,0.3 -1.1,1.2ZM258.5,164.3l5.3,1.4 -1.6,1.2ZM270,171l7.1-1.4M233,170.6l-2.7-3.5M237.7,169.3l0-1.6M241.3,169.7l-2.2-3.5M242.4,168.8l-4.7-3.1M244.1,166.3l-3.4,0.5M245,165.4l-0.5-4M246,165.9l5.6-3.1M246.8,166.8l-0.4-4M247.9,166.6l-4.5-1.5M250.6,163.5l-2.3-1M251,162.7l-4.8,0.6M250.1,160.6l-4.3,2.1M249,160.3l4.6,2.7M248.1,159.9l-2.2,1.8M245.9,158l0.9,1.8M239.4,159.3l5.5,1.9M229.4,164.6l3.1,4.2M247.4,165.7l3.4-1 -1,1.2ZM387.7,139.8l-2.5-0.6M385.3,139.6l-5.2-1.9M384.5,140.8l-5.5-1.9M383.7,141.3l0.9-3.8M381,140.8l1.5-2.6M379.5,140.7l1.1-4.9M378.5,141.3l-3.9,0.8M377.3,142.2l-2.6-4.6M375.6,142l1.5-1.9M372.6,142.2l-1.1-2.6M370.3,143.5l2.8-2.1M369,142.6l4.1-1.3M366.5,143.3l-2.3-1.1M365.6,144.4l-0.8-2.2M364.5,145l-6.7-2.5M362.2,145.3l0-3.8M361.5,147.1l-3.6,0.7M360.9,147.5l1.1-1.7M356.9,148.9l-0.8-4.4M354.8,150.2l-1.1-3.4M354.2,150.7l-5.6-2.3M349.4,155.5l-5-3.3M348.5,156l1.1-4.2M344.4,155l-3.1-3.3M341.9,155.8l0.9-3.4M340.1,155.8l0-3M333.7,153.3l-4.4-3M332,153.6l-2.9-3M327.3,154.6l5.1-1.1M326.9,152.2l2.8-0.3M328.4,148.2l1.9,3.6M332,148.1l-3.3,0.2M332.8,148.9l-3,4M332.7,142.6l-0.8-1.7M330,141.7l2.2-1.1M322.4,140.3l3.5-3.2M322.7,135.8l-2.8,1.4M324,136.5l-2.5,2.4M331.4,136.6l-5.1,1.8M334.4,137.1l-6.1,2.4M336,137l0.7,4M338.4,134.6l4.2-0.3M339.3,134.3l-3.6,2.2M340.7,134.5l0,4.4M342.2,134l2.1,1.7M343.4,133.3l5.8,1.3M345.9,131.6l1,2.2M350,133.1l-2.9,1.7M351.3,133.4l0.8,4.2M352.8,132.7l1.7,2.1M355.5,133.3l1.2,2M358.2,134l-0.6,2M362.6,133.6l2.1,2.8M365.4,133.5l-4.4,0.8M366.5,134.2l0.4,3.8M367.8,133.8l-1.1,4.7M370.2,132.2l3.8,3.8M374.6,131.9l-3.2,0.4M375.6,132.7l-0.9,3.9M376.6,132.6l3.2,1.5M377.7,132.1l4.5,3.9M380.9,133l0,3.2M382.2,133l-0.3,4.2M387.9,133.6l-0.4,4.7M349.6,139.8l4.7,0.5M348.5,147.3l3.4,1.1M337.1,151.8l5-1.5M353.4,149.1l4.9,1.2M341.6,153.4l9,1.7M350.9,148.7l3.3,0.3 -1,1.2ZM355.2,137.4l4.9,1.6M347.2,144.2l10,0.6 -3,1.2ZM343.3,137.4l9.3-2.4 -2.9,1.2ZM371.9,138.2l7.6,0 -2.3,1.2ZM353.3,143.6l8.7-0.2M346.9,142.8l6.2-0.1 -1.9,1.2ZM345.2,145.4l7.6-0.7M356.3,147.6l7.8,0.3 -2.3,1.2ZM342.9,134.5l5.5-1.9M345.5,141.5l9.6-0.9M364.7,134.6l5-0.7 -1.5,1.2ZM348.3,139l6.1,1.4 -1.9,1.2ZM327.5,153.3l9.7,0.3M347.2,147.6l5.9-0.6M379.9,136.1l9.7-1M367.3,141.1l4.8-0.4M355,144.6l4.5,1.2 -1.4,1.2ZM384.3,140.6l4.1-0.7 -1.2,1.2ZM370,138.5l9.3,0.7M383.2,139.1l8.6-3M345.7,139.8l5.2-1.3M329.4,155.1l5.8-2M345,138.7l4.9-0.6M334.8,150.4l8.7,3.1M377.9,136.5l9.6-1.6M376.6,135.1l3.6,0.6M335.8,137.4l6.4-0.7 -1.9,1.2ZM351.1,141.6l8.3,0.6 -2.5,1.2ZM351.4,147.2l7,0.8 -2.1,1.2ZM344.1,135.8l6.6-2 -2.1,1.2ZM338.9,138.6l6.5,1.4M388.2,135l3.2,1.2 -1,1.2ZM335,151l4.9,1.1 -1.5,1.2ZM366.2,141.2l5.3,1.9M337.6,154l8.3,0.6 -2.5,1.2ZM321.2,137.8l6.4-1.2 -1.9,1.2ZM330.2,141.4l6.6,1.3M362.9,143.1l9.4,3.1 -3,1.2ZM329.3,151.3l6.1-1.6 -1.9,1.2ZM351.5,149.2l5.4-1.7 -1.7,1.2ZM341.5,139.2l4,1M356.2,146.1l5.2-0.7 -1.6,1.2ZM324.3,146.1l-2.9-0.8M316,146.6l6.4,1.1M313.3,144.4l0.5-2.9M309.7,139.7l-0.3,3.7M310.6,139.1l2,1.1M312.5,138.1l-2.9,0.6M313.5,139.1l-3.4,2M314.6,139.4l0.9,1.9M317.8,138l0.3,3.8M321.6,138.5l-3.8,2.8M321.9,139.9l-2.6-0.2M322.6,141.2l-4.2,3.3M324.2,141.3l2.3,1.7M328,146.9l-6.1,0M321.4,144.5l7.5,2M323.8,142.5l3.7,1.3M324.5,142.1l4.5,0.7 -1.4,1.2ZM311.9,141.5l6.6-0.7 -2,1.2ZM327,146.9l6.4,1.5 -2,1.2ZM327.9,144.3l4.7,0.2M312.8,140.3l6.7-0.7M346.3,157.5l-3.4-1.2M340.8,160.2l2.3-1.3M338.4,161.7l1.6-4M336.7,160.7l3.6-2.8M335.4,159.6l0.1-1.8M330.4,159.6l4.7-1.1M329.2,158.8l1.4-3.7M327.9,158.9l-2.4-2.2M326.7,159.7l-2.5-0.7M323.5,161.1l0.2-3.7M322.6,160l3.6-2.4M321.8,158.7l1.6-1.6M318.1,157.7l5.3-0.4M317.6,156.8l1-2M317.4,154.5l3.4,3.1M320.5,153.5l4.2,3.8M324.6,154.4l0,2.9M327.4,153.1l5.1,3.1M330.3,152.6l-2.8,1.2M332.9,154.1l-1,2.8M335.4,155.6l-1.8,1.5M339.8,155.6l2.8,2.8M318.9,154.5l4.5,0.1 -1.4,1.2ZM334.3,155.9l4.4-1.2 -1.4,1.2ZM330.4,156l7.8,0.1M341.9,159.7l6.9,0.8 -2.1,1.2ZM336.8,156.5l3.4,0.3 -1,1.2ZM321.5,154.5l3.3-0.6 -1,1.2ZM320.8,165.5l-4.5-1.9M313.8,167.8l-0.3-4M310.4,168.2l-5.1-3.2M309.1,167.8l3.5-2.3M308.1,166.3l4.5-1.7M307.9,164.7l2.5,1.6M309.2,164.3l-6.7,1.9M312,164.6l5.3,0.6M315.4,162.7l2.3,0.7M317.9,161.6l0.5,1.8M319.5,162.8l2.8,0.9M320.8,162.2l-1,2.4M321.4,162.9l-2.9-1.4M311.7,166l4.4,1M301.5,168.7l-0.5-3.5M299.7,168.5l1.2-2.9M296.9,168.6l-3.5,0.6M296.2,169.5l-0.2-2.5M291.8,165.3l2.5,3.5M301,163.8l-7.3,0M303.9,167.4l-7,1.2M303.2,168.7l-0.7-3.6M294.7,167.3l4.2,0.2 -1.3,1.2ZM274.2,161.6l1.1-3M272.8,161.3l3.6-2M270.4,159.5l-1.3-3.9M266.1,161.6l3.6-2M264.5,162.6l-2.7-3.6M261.4,160.3l6.4-1.7M260.8,159.3l1.1-3.7M257,158.8l1.9-1.3M252.7,160l0.2-3.8M251.6,159l4.4-3M250.1,156.3l-1.6,4M258.4,155.1l0.5,2.3M260.7,154.5l-2,4M263.4,154.4l5.2,1.3M264.2,153.4l4.8,1.3M267.1,155l-4.1,1.4M271.5,155.1l6.7,0.1M273.3,155.4l1.8,1.5M277.2,155.7l4.5,3.8M278.6,155.5l-3.4,3.5M261.9,159.2l3.1,0 -0.9,1.2ZM261.4,156.8l5.5,1.4 -1.7,1.2ZM264.9,156.6l4.5,0.9M253.3,159.2l5.4-0.1M252.6,157l6.9,1.6 -2.1,1.2ZM300.4,157.9l-4.7-1.5M297,158.1l-0.7-2.4M293.5,158.4l-1.2-1.8M289.1,156.3l2.8-0.1M288.4,155.4l2.5-2.7M290.4,152.3l-0.1,4.7M291.7,152.2l-3.4,2.3M293,152.8l-3.8,2.4M296.3,153.8l6,1.3M297.5,153.2l2.6,4.3M298.8,153.5l-0.9,3.3M301.7,155.1l0.7,1.7M302.6,155.8l-5.9,2.2M289.3,157.3l6.8,1.1M285.2,156.8l5.2,0.2 -1.5,1.2ZM252.2,155l-5.4-0.6M247.4,155.7l-4.8-1.5M243.6,156.4l0.6-2.4M239.5,153.9l-1.3-1.5M238.4,154.5l-1.4-3.8M236.9,152.1l0.7,2M242.3,154.1l2.3,3.2M245.9,150.3l2,2.9M251.1,151.3l-1.9,3M252.4,153.4l-6.9-0.4M250.8,154.1l5.3,1.2 -1.6,1.2ZM249.7,154.5l6,0.6M305.9,150.1l-2.1-1.7M303.4,151.5l-0.1-1.9M299.9,152.5l-0.8-2.4M298.1,151.7l-0.7-2.3M294.9,148.9l2.9-2.2M294.1,148.1l2.6,0.3M292.3,147.1l-1.8-3.8M299.5,147.6l-4.4,2.2M302,148.3l3,0.9M305.5,147.3l-2.6,0.8M305.3,151l5-0.1M297.8,145.6l3.3,0.6M304.9,180.4l-4.6-3.5M301.8,179.5l4.8-3.1M301.6,178l5.8,2.2M302,177l5.1-1.2M303.3,175.5l-1.7,4.2M304.8,174.6l3.9,3M306,173.5l1,4M307.3,175l-6.9-1.5M345.5,195.1l-2.8-1.8M339.1,197l-0.6-2M337.2,190.5l-3.3,0.8M338.5,190.6l1.2,1.4M342.1,189.8l0.6,3.1M344.4,190.3l-2.9-0.5M344.8,191.7l-1.7,1M414.9,235.4l-3,2.4M411.8,235l3.1,1.9M502.1,188.4l5.6,1.9M503.1,187.6l1.1,3.9M505.7,187l1.8,3M507.9,188.8l-2.5,4.9M510.1,188.8l0.1,2.2M511.7,187l2.1,2.3M514.3,186.6l-0.2,2.2M515.7,187l1.9,1.5M518.6,187.1l5.7,2.7M519.9,186.4l2.1,4.1M521.2,185.9l3.6,4.3M522.8,186.2l-0.2,2.2M523.4,187.4l-3.7-0.2M526.6,187.5l1.3,3.5M527.7,189.4l-7.6,1.6M528.7,191.6l-2.3,0.8M528.2,193l-2.5-1.5M526.9,193.8l0.1-1.6M525.3,193.6l-0.3-2.3M524.7,194.2l-3.3,1.1M521,195.6l-1.9-1.1M519.9,196.9l-1.8-1.8M516.7,197.8l0.3-4.8M515.4,196.9l6.5-0.8M512.9,194l6.8-2.7M511.7,192.9l3.9-0.2M510.6,192.6l0.1-1.7M507.8,194.8l1.5-3.3M506.7,194.8l-1.2-3.2M505.4,194.8l-0.2-1.9M504.4,193.6l2,3.3M504,190.1l3.1-3M502.4,189.6l-1.2-2.5M504.2,190.1l4.2,0.7M502.8,189.6l0.7-1.6M550.2,213.2l0.7,1.2M549.5,217.4l3.5-0.5M551.1,221.4l1.4-0.1M545.1,222.4l-0.6,0.8M595.2,145.5l1.2,1.8M596.3,145.1l4.3,1.3M600.6,144l-1,1.5M604.5,140.9l1.6,1.9M611.3,143l-1.7,1.4M614.2,142.4l0.3,1.6M616.7,142.9l-2.7,2.1M620.9,145.1l2.2-2.1M616.1,149.1l-1.7-1.5M615.2,149.8l-3.7-0.3M611.2,151l-1.6-1.4M608.7,153.8l3.2-1.8M604.7,151.8l1.9-2.8M600.6,148.1l1.8-0.7M598.9,147.4l-1.5-2.8M596.2,147.5l-0.1-1.5M623.6,140.7l-0.9,1.2M627,140.9l1.3,1.9M627.6,140.1l3.2-0.4M631.9,141.2l-1.2,2.6M633.6,141.3l-1.1,3M631.5,144.9l-2.9-1.9M630.3,146.2l-2.1,0.3M629.5,147.5l-2.3-2.6M623.7,144.2l-0.1-1.8M621.4,142.7l-0.3-2M623.7,150l1.9,2.7M624.9,150.3l-4.4,0.5M630.2,148.3l1.5,0.9M630.9,148.9l-3,0.3M625.2,150.4l-3.3,1.4M709.6,173.2l0.8-1.7M717.9,172.8l-1.1-2.5M717,168.7l-2.8,0M716.7,162.5l0.9-1.5M717.8,162.8l1.1-1.3M723.2,160.7l2.4-1.6M724.4,161.2l0.7-1.6M727.6,158.9l0.6-1.6M729.7,157.4l-2.4-0.1M730.7,157.7l-1.6-1.7M734,155.3l-3.7,0.2M737.1,153.1l-2.9,2.1M732.9,153.9l0.4,1.8M725.5,157.1l-2.5,2.2M720.7,156.2l2.7,2M719.4,157.2l1.2,1.1M713.4,161l4.3,0.3M710.9,162l-0.9,1.6M710,161.5l0.6,2.7M707.2,165.2l0,2.2M705.9,165.4l1,1.3M704.7,166.1l3.2,0.5M704.6,168.4l0.8,2.4M354.9,162.7l3,0.2M356.1,162.2l-3,1.7M357.4,162.8l-2.6,2.9M359.9,163.5l-2.1,2.2M355.7,166l-3.7-2.6M353.7,166.6l4.8-0.5M352.5,165.6l2.1-2.8M311,157.5l1.8,2.9M312.3,157.6l-2,1.7M308.1,158.8l-2-1.5M291.6,148.4l0.5-4.4M285.5,148l-0.5-1.8M288.4,147.5l3.7-1.1M259.5,147.8l-0.3,3.1M261.7,148.1l0.2,1.6M265.2,150.6l-2.2-3.4M263,151.4l5.1-1.5M260.6,150.6l-2.5-1.5M259.3,151l-0.4-2.6M258.2,150.6l2-2.1M267.2,145.4l-1.2,1.9M267.2,148.7l-6.7,0.2M244.5,155.7l3.6,2.1M248.9,155.7l-2.6,1.8M249.2,156.8l-4.9-1.6M245,156.9l1.4-3.2M283.9,157.2l-5.9,2.7M283.9,158.5l0.5-4.7M279.3,162.4l1.7,3.4M280.4,162.1l-5.3,3M282.4,162.4l-1.4,1.5M355.9,181.4l4.6,2.5M356.9,180.4l0.2,1.7M361.6,181l-1.2,3.9M362,182.6l-3.8-2.6M357.8,181.9l-2-4.5M340.7,197.4l-3.9,1.1M349.5,201.7l1.1-1.7M388.4,201.3l3.7,4.3M389.6,200.8l0.9,4.7M391.5,201.3l-1.1,1.6M391.2,202.2l-5.1-2.4M389.6,202.6l2.4-3.3M418.9,174.2l-0.3,3.4M418.2,175.9l3-4.5M298.1,141.1l0.2,2.4M299.6,141.8l0,3.8M298.6,143.2l-2.2-4M297.2,142.7l1.9-3.4M279.6,150.2l1.6,1.6M280.9,149.9l-2.4,1.3M283.2,150.2l-6.5,1.3M281.5,151.3l6.2-1.6M280.4,151.3l-3.8-3.6M279.3,151.3l6-2.3M307.6,149.1l1.1,1.6M312.5,150.6l-1.6-2.5M311.3,151l-2-4.6M309.8,151.1l-3.3-2.2M308.3,151.1l1.1-4.2M306.9,150.4l-0.2-3.8M322.1,149.7l-0.5,3.9M321.4,151.2l-0.3-3.9M320.1,151.2l-0.7-2.8M321.7,153.5l2.6-2.3M625.4,147.5l3.9,1.2M627.8,146.3l2.6,1.1M627.1,148.5l-2.4-1.9M625.6,148.3l3.5-1.7M364.3,538.3l2.3-0.7M367.2,537.1l-3.7,1M364.8,540l3.2-0.7M361.5,560.5l2.4-1.2M361,559.4l2.6-0.1M364.8,558.3l-2.3,0.7" fill="#000"/>
<path d="M316.8,249.9l4.4-2.6 4-1.6 1.9-2.6 4.8,0.3 4.1,2.6 1.1,3.3 -0.9,1.3 -4.3,0 -2.7-0.4 -2.7-1.9 -2.7,1.3 -3.5,0.3ZM328.4,266.1l2.7-0.4 1.6-3.8 -0.5-3.9 2.4-2.6 1.4-2.6 -2.7-0.3 -2.7,1 -2.2,3.5 0.3,4.9ZM337.1,252.2l2.9-0.4 4.1,0.4 3.2,0.6 2.1,3.2 -4,1 -0.5,3.9 -1.9,1 -0.6-2.6 -2.4,0 0.3-3.6 -2.2-2.2ZM340.3,265.7l2.4,1.3 4.1-1.3 4-1.9 1.6-1.6 -3.8,1 -3.2,0.3 -2.7,1.3ZM350,260.9l3.5,0 4,0 2.2-1.9 -0.8-1 -3.5,1 -3.8,0.6ZM304.2,237.9l1.3-3.5 -2.7-2.6 -1.9-3.2 -3.2-2 1.9,2.9 0,3.3 3.5,3.2ZM296.9,235.4l-1.9-3.6 -1.1-2.3 1.9,1.7 1.9,3.2ZM300.4,238.3l-1.6-2.3 -1.4-1.9 1.9,0.9 1.6,2.3ZM264.6,211.1l5.4-1.6 5.3-0.3 4.1,0 -5.4,0.9 -5.4,0.7ZM290.2,218.5l1.3-3.5 -2.7-1.6 -0.8,3.2ZM249.8,203.7l4-2.9 5.4-0.7 6.7-2.3 4.1,0 -5.4,1.7 -2.7,3.2 -5.4,1 -2.7,0.6ZM232.2,190.1l5.4-3.6 5.4-2.2 4.1,1.9 -4.1,1.9 2.7,2 -5.4,1.3 -4-2ZM325.2,240.8l1.9-2.2 0.8,1.9ZM372.3,186.5l4.1-1.6 -1.4,2ZM290.2,197.2l2.7-1.6 0.5,1.9ZM648.3,206.9l1.6-3.2 3.7,0 -0.5,2.2 -2.4,1.3ZM657.4,203.7l1.9-3.9 3.2,1.6 -1.8,2.6ZM598.4,211.4l2.4-2.2 1.9,1.3 -2.1,1.6ZM637.8,213.4l1.3-3.3 1.1,2ZM721.8,258.6l0.8-4.8 3.5-2.6 4.1-1 0.5,5.2 -2.7,4.5 -4,0.7ZM763,254.8l1.9-4.2 4.9-0.7 6.7,1.3 2.7-1.6 -1.3,1.9 -6.8,0 -4.6,3.3ZM844.4,234.4l3.5-1.6 4.1-3.3 5.3-4.8 3.8-4.2 -2.4,2.6 -2.7,4.8 -5.4,4.9 -4,1.6ZM770.6,264.1l3.2-1.3 2.2,1 -3,1ZM650.4,404.1l0.8-3.8 4.1-0.4 2.1,2 -0.8,3.9 -1.9,3.2 -2.1,1 -1.9-2ZM643.9,411.9l1.1,5.2 2.2,6.4 1.6,5.5 -1.6-1.6 -2.4-5.5 -1.1-6.4ZM656.6,431.9l1.6,4.6 0.6,4.8 1,5.8 -1.6-0.9 -0.8-4.9 -0.8-4.8ZM662,386.7l1.3,3.9 -1,2.2 -0.6-3.2ZM647.2,397l2.1-3.2 -0.8,2.2ZM601.4,358.2l1.9-1.3 1,2 -1.6,1.3ZM376.4,451l2.7,1 0.5,2.2 -2.1-0.9ZM333.5,362.4l2.5,1.3 0.5,1.3 -2.1-1ZM372.1,365.7l1.6,2.9 -1.4,2.6 -1.3-2ZM679.5,276.4l2.7-1.3 -0.8,2ZM686.8,277.4l1.6,2.2 -1.1,1ZM833.6,281.3l2.7-0.4 -1.3,1.7ZM667.4,212.4l2.1-1.6 0.6,1.9ZM694.3,221.4l4.1,1.7 -1.4,3.2 -1.3,1.6 2.7,0.7 -1.9-3.9ZM686.2,237.6l2.2,3.2 -2.7,2.3 1.4-3.2ZM678.2,246.7l2.7-2 -0.6,1.3ZM655.3,242.5l2.7,1.6 1.8,3.2 -3.2,1.6 -1.3-0.9 3.5-1.7Z"/>
<path d="M232.2,244.4l-5.4-1.3 -7.5-5.8 2.2-1 6.7,2.9 4,3.3 0,1.9M210.7,232.1l-4.1-4.2 1.4-1.9 2.1,2.6 0.6,3.5M154.9,215l-4.3,2.2 -2.2-2.2 3.8-1.6 2.7,1.6M398.5,242.1l-4.6-0.9 -2.7-1.6 5.4,0.9 1.9,1.6M110.2,196.2l-4.6-0.3 -3.2-1 4.5,0 3.3,1.3M119.1,206.9l-3.5,0.3 -1.4-0.9 3.5-0.7 1.4,1.3M114.2,228.1l2.2-1.3 2.1,0.5 -2.1,1.1 -2.2-0.3M108.8,229.7l2.2-1.3 2.1,0.5 -2.1,1.1 -2.2-0.3M103.4,231.3l2.2-1.3 2.2,0.5 -2.2,1.1 -2.2-0.3M97.2,232.6l2.2-1.3 2.2,0.5 -2.2,1.1 -2.2-0.3M92.7,232.9l2.1-1.3 2.2,0.5 -2.2,1.2 -2.1-0.4M86.7,233.9l2.2-1.3 2.1,0.5 -2.1,1.1 -2.2-0.3M82.7,234.2l2.2-1.3 2.1,0.5 -2.1,1.1 -2.2-0.3M1045.2,235.2l2.1-1.3 2.2,0.5 -2.2,1.1 -2.1-0.3M1041.1,233.6l2.2-1.3 2.1,0.5 -2.1,1.1 -2.2-0.3M1029.5,230.7l2.2-1.3 2.1,0.5 -2.1,1.1 -2.2-0.3M336,330.1l5.4-3.6 5.4-0.3 5.3,2.3 5.4,2.9 4.1,2.6 3.5,1.6 -3.5,1 -6,0 0.6-2.3 -2.7-2.9 -6.7-1.6 -4.1-1 -4,1.6 -2.7-0.3M364.5,340.8l4.3-3.9 3.5-0.3 4.4,0.9 4,3.3 -4.3,0.9 -4.1,2 -2.6-1.6 -4.1,0.3 -1.1-1.6M354,341.7l3.5-0.6 1.9,1.3 -1.9,0.9 -3.5-1.6M383.9,341.4l4.1,0 -0.3,1.3 -3.5,0 -0.3-1.3M398.2,366.3l2.4-0.3 0,2.2 -2.1,0 -0.3-1.9M354,319.7l1.4,3 0.5-2.3 -1.9-0.7M352.1,314.6l3.3,0.3 -1.9,0.3 -1.4-0.6M691.6,140.6l8.1-1.3 2.7,1.3 -6.7,1 -4.1-1M710.5,141.3l10.8-1.7 8.1-0.3 -5.4,2.3 -13.5-0.3M598.7,278l8.3-0.6 -1.3,4.8 -7-2.9 0-1.3M587.1,268.3l4,0 -0.2,5.9 -3.3,0.6 -0.5-6.5M588.2,263.5l2.1-1.6 0.3,3.8 -1.9,1 -0.5-3.2M628.3,286.1l4.1,0.3 3.5,0.7 -4.9,1 -2.7-2M652,287.7l6.2-2.2 -2.1,2.6 -2.2,0.9 -1.9-1.3M571.5,272.9l2.4-1 -0.3,1.9 -2.1-0.9M594.6,221.1l4.4-1.3 -0.9,3.3 -2.9-0.4 -0.6-1.6M614,216.6l2.2-2.9 -0.5,1.9 -1.7,1M889.7,341.1l4.6,0.3 -0.6,6.2 -1.1,3.2 2.5,4.2 4,3.9 -1.3-2.6 -6.8,0.3 -1-2.6 -1.7-4.8 1.1-4.9 0.3-3.2M899.9,360.5l3.3,0.6 0.5,4.2 -1.9-0.6 -1.9-4.2M900.2,364l1.9,1.7 0.2,2.9 -1.3-1 -0.8-3.6M894.8,368.6l3-2.9 -0.8,5.8 -1.7-1 -0.5-1.9M893.5,362.7l3.2,1 -1.6,3.3 -1.4-0.7 -0.2-3.6M889.4,357.6l2.7,0.3 -0.5,3.2 -2.2-3.5M880.8,373.7l3.5-3.8 3-5.5 -1.7,3.2 -3.2,4.8 -1.6,1.3M874.9,427.4l4,0.3 6.7,0 0,1.7 -5.9,0.6 -4.3-0.6 -0.5-2M887.8,428.1l8.1-0.7 0,2 -7.6,0.3 -0.5-1.6M885.6,431.6l4.9,0.3 -1.6,2 -3.3-2.3M897.8,434.2l4-4.2 5.9-1.9 -3.2,3.2 -4.6,2.6 -2.1,0.3M908.5,397.7l1.4-3.9 1.9,3.2 -1.1,5.5 -1.3-1.6 -0.9-3.2M909.9,410.9l4-0.9 3.5,1.9 -3.5,0.3 -4-1.3M904.8,411.2l2.9,0.4 -1.3,1.6 -1.6-2M965.1,419l4.1-1.9 4-2.3 2.2,1 -3.5,3.2 -4.1,1.9 -2.7-1.9M971.3,409.3l3.3,2.3 2.6,4.2 -1.8-2.6 -4.1-3.9M981.8,418.7l3,3.2 -1.4,0.7 -1.6-3.9M988,424.5l6.8,3.2 -2.7-0.9 -4.1-2.3M995.6,431l2.7,1.6 -1.7,0 -1-1.6M998.3,428.4l1.3,3.2 -0.8-1.6 -0.5-1.6M1013.9,449.4l1.6,1.9 -1.1,0 -0.5-1.9M1015.8,452.6l1.3,1.6 -1.1,0 -0.2-1.6M1006.9,465.9l4,2.9 4.1,4.2 -2.7-1 -4.1-3.2 -1.3-2.9M1042.7,457.5l3.5,0.3 -0.8,1.9 -2.4-0.3 -0.3-1.9M1046.8,454.9l2.9-1.3 -1,1.6 -1.9-0.3M144.7,337.2l2.7-0.3 -1.9,2.6 -0.8-2.3M142.8,333.3l1.9,0.3 -1.1,0.7 -0.8-1M138.7,331.4l1.4,0.3 -0.8,0.3 -0.6-0.6M134.7,329.4l1.1,0 -0.6,0.7 -0.5-0.7M400.1,568.1l4.6-1.3 0.5,2.9 -3.2,0 -1.9-1.6M405.5,567.1l3.8,0.6 -2.7,2 -1.1-2.6M462.6,575.5l5.4,1.6 -2.7-1 -2.7-0.6M750.4,559.3l4.6,0.7 -1.4,1.6 -2.7-0.3 -0.5-2M318.5,401.9l1.3,1.6 -0.3,0.6 -1-2.2M708.6,360.2l3.2,0 -1.3,0.9 -1.9-0.9M348.8,219.5l1.2-1.9 2,0.3 0.8,1.3 -1.4,1.6 -1.8-0.2 -0.8-1.1M1005,210.8l0.8-2 1.4,0.4 0.5,1.3 -0.9,1.6 -1.3-0.2 -0.5-1.1M1011.5,222.9l0.8-0.8 1.3,0.1 0.6,0.5 -1,0.7 -1.2-0.1 -0.5-0.4M983.7,238.5l0.7-1.5 1,0.2 0.5,1.1 -0.8,1.3 -1-0.2 -0.4-0.9M960.5,255.6l1.7-1.2 2.7,0.2 1,0.8 -1.9,1 -2.4-0.1 -1.1-0.7M967.5,252.3l1-0.9 1.6,0.1 0.7,0.7 -1.1,0.8 -1.5-0.1 -0.7-0.6M957,258.1l0.9-0.9 1.3,0.1 0.5,0.7 -0.9,0.8 -1.2-0.1 -0.6-0.6M973.5,249.1l0.6-0.8 1.1,0.1 0.4,0.5 -0.7,0.7 -1-0.1 -0.4-0.4M981,241.4l0.5-1.2 0.8,0.2 0.3,0.8 -0.5,0.9 -0.8-0.1 -0.3-0.6M374.4,579.9l2-1 3.4,0.2 1.3,0.6 -2.4,0.8 -3-0.1 -1.3-0.5M560.7,206.2l0.6-1.6 1.1,0.3 0.4,1 -0.7,1.3 -1-0.1 -0.4-0.9M544.8,200.6l0.8-1.1 1.3,0.2 0.6,0.7 -1,1 -1.2-0.1 -0.5-0.7M545.1,214.5l0.6-2.7 1.1,0.4 0.4,1.8 -0.7,2.3 -1-0.2 -0.4-1.6M908.8,315.4l0.7-1.2 1,0.2 0.5,0.8 -0.8,1 -1-0.1 -0.4-0.7M904.5,293l0.8-0.7 1.4,0.1 0.5,0.5 -0.9,0.7 -1.3-0.1 -0.5-0.5M849,408.3l1-1.9 1.6,0.3 0.6,1.3 -1.1,1.6 -1.5-0.1 -0.6-1.2M826.9,397.7l0.6-2 1.1,0.3 0.5,1.3 -0.8,1.7 -1-0.2 -0.4-1.1M830.5,405.8l0.6-2 0.9,0.3 0.4,1.3 -0.6,1.6 -0.9-0.1 -0.4-1.1M868.4,423.7l1.3-0.8 2.1,0.1 0.9,0.5 -1.5,0.7 -1.9-0.1 -0.9-0.4M879.4,428.9l1.8-1.2 3,0.2 1.2,0.8 -2.1,1 -2.7-0.1 -1.2-0.7M897.9,367.8l0.4-3.1 0.7,0.5 0.2,2.1 -0.4,2.6 -0.6-0.3 -0.3-1.8M898.6,369.4l0.6-1 1.1,0.2 0.4,0.6 -0.7,0.8 -1-0.1 -0.4-0.5M814.2,361.8l0.5-4.2 0.8,0.7 0.4,2.8 -0.6,3.6 -0.7-0.4 -0.4-2.5M817.1,377.9l0.4-1.6 0.6,0.3 0.3,1 -0.5,1.3 -0.6-0.1 -0.2-0.9M670.5,420.9l0.4-1.7 0.7,0.3 0.2,1.1 -0.4,1.5 -0.6-0.2 -0.3-1M681.3,438.9l0.4-1 0.6,0.2 0.3,0.6 -0.5,0.8 -0.6,0 -0.2-0.6M713.6,469.3l0.6-1 0.9,0.2 0.4,0.6 -0.7,0.8 -0.8,0 -0.4-0.6M719.4,466.7l0.5-1 0.8,0.2 0.3,0.6 -0.6,0.8 -0.7,0 -0.3-0.6M587.8,389.8l0.4-1.3 0.6,0.2 0.3,0.9 -0.5,1.1 -0.6-0.1 -0.2-0.8M519.3,309.5l0.8-0.7 1.2,0.1 0.5,0.5 -0.9,0.6 -1.1,0 -0.5-0.5M522.3,310.5l0.4-0.8 0.7,0.1 0.2,0.6 -0.4,0.6 -0.6-0.1 -0.3-0.4M526.6,309l0.4-1.7 0.7,0.3 0.3,1.2 -0.5,1.4 -0.6-0.1 -0.3-1.1M516.2,308.3l0.4-1 0.5,0.2 0.2,0.6 -0.4,0.8 -0.5-0.1 -0.2-0.5M500.7,352.2l0.4-0.9 0.7,0.1 0.3,0.7 -0.5,0.8 -0.6-0.1 -0.3-0.6M498.7,347l0.5-0.6 0.8,0.1 0.3,0.4 -0.5,0.5 -0.8-0.1 -0.3-0.3M495.2,278.8l0.7-0.6 1,0.1 0.5,0.4 -0.8,0.5 -1-0.1 -0.4-0.3M518.4,295.3l0.5-0.6 0.8,0.1 0.3,0.4 -0.6,0.5 -0.7-0.1 -0.3-0.3M398.5,348.7l0.5-1 0.8,0.2 0.3,0.6 -0.6,0.8 -0.7-0.1 -0.3-0.5M400.1,353.9l0.3-1 0.6,0.1 0.2,0.7 -0.4,0.8 -0.5-0.1 -0.2-0.5M365.9,268.9l1.4-0.5 2.5,0.1 0.9,0.3 -1.7,0.4 -2.1,0 -1-0.3M392.3,251l1.4-0.8 2.5,0.2 0.9,0.5 -1.7,0.6 -2.1,0 -1-0.5M399.8,251.8l1-1.9 1.6,0.3 0.7,1.3 -1.2,1.6 -1.4-0.1 -0.7-1.2M463.8,577l1.2-1 2.1,0.1 0.8,0.7 -1.4,0.8 -1.9-0.1 -0.8-0.5M92.4,469.6l0.3-0.8 0.6,0.1 0.2,0.5 -0.4,0.7 -0.5-0.1 -0.2-0.4M99.4,445.3l0.8-0.6 1.4,0.1 0.5,0.4 -0.9,0.5 -1.3-0.1 -0.5-0.3M1046.2,454.7l1-0.8 1.6,0.2 0.7,0.5 -1.2,0.6 -1.4,0 -0.7-0.5M161.8,458.3l0.4-0.8 0.7,0.1 0.2,0.5 -0.4,0.7 -0.7-0.1 -0.2-0.4M954.8,357.7l0.2-0.9 0.4,0.1 0.2,0.7 -0.3,0.8 -0.4-0.1 -0.1-0.6M991.8,426.9l1.3-0.8 2.1,0.1 0.9,0.6 -1.5,0.6 -1.9-0.1 -0.9-0.4M998.1,430.5l0.4-2.8 0.7,0.5 0.3,1.8 -0.5,2.3 -0.6-0.3 -0.3-1.5M994.8,432.1l1.1-0.8 1.9,0.1 0.7,0.5 -1.3,0.7 -1.7-0.1 -0.7-0.4M1013.9,450.7l0.5-1.8 0.8,0.3 0.3,1.2 -0.6,1.4 -0.7-0.1 -0.3-1M959.7,407.8l0.8-0.6 1.4,0.1 0.5,0.4 -0.9,0.5 -1.2-0.1 -0.6-0.3"/>
<path d="M232.8,242.5l75.7,0 1.6,0.9 4.3,0.4 4.1,1.6 5.1,0.3 3.2-1 9.4,4.6 3.8,2.9 2.7,2.2 0.3,7.5 -1.9,2.6 1.6,1.6 9.4-3.6 -0.2-1.9 7.2-2.3 3.8-2.9 9.4,0 1.9-1.3 1.4-2.6 0.8-1.6 2.1-2.4 2.5,0.3 1.3,0.8 0,4.5 1.1,1.7 1.1,1.2M185.1,175.9l0,30 5.4,1 4,3.6 5.4-3 5.4,4.6 4.6,5.8 4.8,1.9 -0.2,3.3M249.5,295.8l6.4-0.6 -0.2,0.6 9.9,3.9 7.9,0 0-1.6 4.5,0 4.1,3.5 1.3,3.6 3.8,1.9 1.6-2.6 3,0 2.9,4.9 2.2,2.6 1.1,3.5 5.1,1.7M230.9,251.5l2.7,0.3 0.5,1.7 4.9-0.4 5.4-0.9 5.4,0M249.8,242.5l0,9.7 0.2,3.2 -0.2,2.6 0,7.1M230.3,265.1l35.5,0M252.3,242.5l0,3.2 1,1.6 2.9,2.9 0.8,3.6 2.2,1.3 1.3,1.9 5.3,0 0,11.3M265.8,255.4l18.8,0M284.6,242.5l0,25.8M284.6,252.4l20.3,0M284.6,261.9l15,0 4,0.6 1.4,1 1.3,3.2 0.6,2.9 1.3,2 1.1,1.6 0.8,1.3 0,8.4M265.8,268.3l24.2,0M290,268.3l0,13M290,271.6l18.2,0M241.7,265.1l0,9.7 14.5,12.9 0.6,2.6 -0.9,2.6 0,2.3M257.7,265.1l0,18.8 -1.8,0.3 0.3,3.5M257.7,281.3l52.4,0M271.2,268.3l0,31.4M287.3,281.3l0,16.1 -9.5,0M287.5,282.9l8.1,0 0,6.5 2.6,0.9 4.1,1 4,0.3 4.1,0.7 1.2,0.1 0,5 0.9,3.3 -0.2,4.2M310.5,282.9l0,9.4M310.1,282.9l13.7,0M311.6,294.2l7.7,0M316.8,249.9l-0.5,1.9 -1.6,1.7 0.5,2.5 3.8,3.3 0.3,0.9 0.2,2.6 2.5,2.3 -2.2,2.6 -1.1,2.6 -0.2,1.6 2.1,2.3 1.4,1.2 -0.3,2.6 2.1,2.3 1.1,1 -1.1,1.6 -0.5,1.6 -1.1,2.9 -1.3,1.6 -1.1,2.6 -0.3,2.6 0.3,2.6 -1.3,2.3 -0.3,1.6 5.1,0 -0.3,1.6 0.8,1M303.1,242.5l1.1,4.8 0.5,4.9 0.4,2.2 0,5.8 -0.1,3.3M305.1,260.2l14.2,0M306.9,269.6l11.6,0M320.9,263.5l7.5,0M321.4,250.2l3.8,2 2.7,0.6 1.1,2.3M329.2,266.1l0,7.7 -0.2,1 -0.8,2.6 -0.3,1.3M324.9,281.3l3-2.6 2.7-0.3 2.7-0.4 1.6-2.2 1.6-1.3 2.2,0.9 3.7,1.3 2.2-1.9 2.4-2.3 1.1-2.9M336.5,266.1l0,8.4M329.2,266.1l11.1,0M348,264.1l0,8.4 12.8,0 0.2,4 1.8,0.1M350.1,264.1l0,1 11.9,0 1.7,1.9 -1.1,1.7 0,2.9 -1,0.9M363.7,267l2.2,1.3M367.4,255.4l0.1,4.5 0.1,2.8 -0.6,2.2 0,2.8 -0.6,0.6M372.3,255.4l-1.3,2.3 -1.1,2.5 -0.2,2.5M367.6,262.7l6.1,0 0.5-0.4M367,265l5.6,0M371.5,265l0,2.4M373.5,254.4l0.2,4.2 0.8,2.9M339.5,282.7l21,0M323.8,282.6l15.7,0M344.9,282.6l-2.5,1.9 -4.5,3.2M321.7,287.7l19.4,0M339.5,282.6l4.6-3 -1.7-2.9M344.1,279.6l4.5,0.4 2.2-3.6 3-1.6 1.8-1 1.9,1.3 1.9,2.9M350.8,272.5l0,1.7 3-1.3 1.8,0.9M341.1,287.7l2.1-0.6 3.6,0.3 0.5,1 3,0 3.1,3.1M341.1,287.7l2.4,3.9 1.9,2.6 1.1,2.9M334.4,287.7l1,6.8 0.6,2.9 0,3.3 0.2,0.9 5.2,0.4 2.1,0.6 0.6-1.3 1.3,0.3M327.4,287.7l-0.7,10.1 0.1,5.5M336,300.7l-7,0 0.2,2.2M316.6,354l0-2.6 1.3-2.6 3.5,0 0-0.9 -2.7-2.6 1.1-0.2 0-1.8 4.9,0 1-0.6 1.4-1.6M324.7,343.3l0,6.2 0.8,0M322.2,356.6l1.9-2.3 0.3-1.6 3-2.6M324.4,354.3l2.1,1.7 2.2,0.3 -0.3,1.3M329.8,358.9l1.6-1 1.9-2.3 2.7-1.9 2.7-0.3 2.1-1M334.1,365l2.7,0.3 2.7,0.4M341.6,375l0-3.2 0.8-1.9M356.4,373.1l0.6,2.3 -1.9,2.2M371.7,337.2l0.1,2.9 -0.8,0.7 0.5,2.5M372.9,362.7l-2.7,2.3 -1.9,4.2 1.6,4.2 1.1,4.9 5.1,0 1.9,2.9 5.1-0.3 -0.8,5.5 1.4,3.8 -1.4,1.6 1.9,5.2 0.5,0M384.7,397l-0.5-1.6 -7.3,0 0,1.9 1.9,1.7 -2.4,0.3 0,2.2 1.6,3 -1.3,10M376.7,414.5l-2.2-1.3 1.9-3.6 -7.8-0.9 -4.1-6.2 -2.4-1.3M362.1,401.2l-2.7-1.6 -3.2,0 -3.5-3.2M362.1,401.2l-0.5,4.6 -3.3,3.5 -4.3,2.6 -1.1,3.9 -2.1,1.3 -2.4-2 0.2-3.2M376.7,414.5l-8.1,2.9 -0.8,3.2 -2.2,4.2 3,6.5 1.9,1.9 4.3-1.6 0,4.9 2.7-0.4M377.5,436.1l2.4,5.2 -0.8,3.6 -1.1,3.9 0.5,1.6 -1,0.9 2.1,2.3 -1.9,3.9 -2.4,2.7M377.7,457.5l1.9,4.8 0.8,4.9 1.6,7.4 1.9,0M377.5,436.1l4.3-0.6 7-3.2 0.3,5.8 2.6,3.2 6.2,3.2 4.1,1 0.8,8.1 5.1,0 -0.3,3.2 2.5,2.3 -1.4,5.8 -0.5,1.3M408.2,466.2l-2.4-2.9 -7,1 -1.7,2.9 -0.8,5.5M396.3,472.7l-4.6,1.9 -2.4-2.2 -2.7-1 -2.7,3.2M383.9,474.6l-0.2,3.9 -3.3,1.6 0.3,5.5 -3.5,7.4 -0.8,6.2 -1.1,2.6 1.1,6.8 -1.1,6.4 -1.9,4.2 0.3,6.8 -1.9,2.9 -0.3,8.1 0.3,5.8 1.4,2 -1.4,3.5 -0.5,3.9 -1.4,2.9 0.3,4.2 -3,1.7 1.1,4.2 1.9,0.6 0.8,3.2 9.7,1.3M380.2,571l0,7.4M396.3,472.7l4.3,5.2 5.4,3.2 3.8,1.6 -2.7,5.8 5.7,1 1.8-0.3 3.3-5.5M408.2,466.2l0.8,6.2 5.9,0.6 0.8,5.5 3,0.3 -0.8,4.9M417.9,483.7l2.1,1.3 0.3,3.5 -4.8,3.6 -5.7,6.4M409.8,498.5l4.3,2 4.1,2.6 2.9,3.9 0,2.9M409.8,498.5l-1.6,7.5 -0.6,4.8M403.3,374.1l-2.9,4.2 -0.8,3.5 1.8,2.3M401.4,384.1l-5.6,3.9 -4.9-0.4 1.7,5.2 1.6,1 -5.1,4.8 -4.4-1.6M401.4,384.1l2.5,2.6 0.8,1.6 -1.4,3.9 2.7,4.5 2.7-0.7 4.1-1.2M410.9,381.5l-0.3,3.2 -1.9,3.3 1.9,2.2 2.2,4.6M419.5,382.1l-1.1,4.3 1.1,3.2 -1.6,3.9M412.8,394.8l5.1-1.3 4.6,0.3 3.5-6.5M559.1,287.4l1.3,2 0,4.8 1.4,2.6 -4.9,1.3 -1.6,2.9 -3.8,2.9 -4,1.3 -5.9,2.9 0,3.3M529.4,311.4l12.2,0 0,5.4 -8.9,0 0,8.1 -2.7,1.6 0,5.5 -10.8,0M541.6,312.6l10.5,7.5 -4.6,0 2.7,27.5 0.5,3.2 -14.5,0.3 -2.2-0.6 -1.9,2.5 -3.5-4.2 -2.7-1.6 -4,0.4 -1.4,1.6M552.1,320.1l16.1,12.6 0,1.3 4.9,2.9 0.8,2.6 2.4-0.4 4.3-1.2 4.6-4.3 12.1-8.7M597.3,324.9l-6.7-9.4 1.1-3.5 -0.3-4.9 -0.8-3.8 -1.1-6.2 -4.3-5.8 2.2-3.6 -0.3-4.8 1.1-1.3M590.6,303.3l2.2-4.9 3.2-2.9 0-1.9M597.3,324.9l8.1,1.6 24.3,11.4 0-1.7 2.7,0 0-6.4 0-23.3 -0.8-2.6 1.3-5.2M632.4,329.8l32,0M605.4,326.5l2.4,8.4 -1,11.4 -5.4,8 0.2,2.3M629.7,337.9l0,12.2 -3,0.7 -2.4,8.1 1.3,6.4 1.1,0.4 1.6,6.1 2.7,2.3 2.2,3.2 5.6,7.1M626.7,365.7l-5.1,3.8 -5.4,2.3 -6.7,4.2 -2.7,0.6 -4.1-7.7 4.3-0.3 -1.6-3.3 -2.4-6.8M601.6,356.6l-2.9,1.9 -6.8-0.3 -8,0.7 -7.9-1.7 -1.3,5.9M576.3,339.1l0,10.1 -1.9,1.9 -6.7,1.3 -2.2,0.3 2.2,4.9 3.2,3.2 0.6,1.6 3.2,0.7M565.5,352.7l-5.9,2.3 -5.4,2.9 -3.5,5.5 -0.5,3.9M532.1,353l2.2,7.8 3.8,1.3 4,1.6 1.3,4.2 4.1-0.9 2.7,0.3 7.3,2.9 -1.1,8.7 0.8,5.5M520,360.8l8.1-1 0,3.3 -3.5,2.2M519.7,356.9l7.6,0 0.5,1 -8.1,0.6M528.1,360.8l6.2,0M529.2,371.8l2.1-2.9 4.1-0.3 1.8,4.8 2.5,3.6 2.4-0.7 1.3-2.9 0-5.5M537.2,373.4l-3.2,5.2M542.1,376.3l2.7,6.8 0,3.6M557.5,365.3l7.2-0.3 1.6,8.4 1.9,7.8M557.5,370.2l0-4.9M564.7,365l2.7,0.3 1.9,6.5 0,9.1M567.4,365.3l4.1-2.9M574.7,363.1l-2.4,8.7 0,8.4M603,358.5l-2.4,10.1 -3.8,9.7 -4.9,1.6 -3.7,5.5M606.8,376.6l-2.7,8.1 4,9.7 1.4-4.8 5.6,0 0-3.2 10.5,1.2 6.8-2.9 6.4-0.3 5.7,2.3 3.8,2.9 8.3-2.3M591.4,393.5l9.4,0.3 7.3,1.3M615.1,389.6l-2.1,9.7 -0.3,3.2 -4.1,4.9 -1,6.4 -3.5,2.9 -4.1-0.9 -2.1,3.9M594.9,413.5l2.4-4.8 6.5-1.3 -1.1-4.9 1.4-4.8 -3.3-3.9M591.4,397.7l4,0 0-3.9M597.9,419.7l2.1,0.3 9.7,0 1.1,4.5 6.7-1 1.4,3.3 4.8-2.3 0,12 6,0 0,6.4 -5.4,0 0,10.4 3.7,4.5M596.8,456.8l5.9,0.4 12.1,0 13.2,0.6 5.2,0.7M621.6,460.1l6.7-1 4.9-0.6M621.6,460.1l0,11.9 -2.7,0 0,20.7 -9.4,0.7M618.9,481.1l1.9,6.5 3.5-1.7 2.7-3.2 6.7,1.3 3.8-6.5 6.7-4.8M633.2,458.5l1.9,5.5 4.5,3.2 4.6,5.5 5.1,0.6M649.3,473.3l3-3.5 1.6-5.8 -0.3-4.9 0.3-4.2 -7-3.6M633.2,458.5l4.6,0.3 5.1-6.2 4-1.3 -0.5-1.9 8.1-3.2 -1.4-1.7 0.8-3.2 0.8-5.5 -1.1-4.5 -5.1-2.6M648.5,428.7l-5.6-0.3 -1.4,2.6 0.8,4.5 -0.8,3.9 1.6,1.6 2.2-0.7 0,3.9 -4.9-3.2 -2.6-2.6 -4.6-1.3 -2.5,1 -1-1.6M654.5,446.2l3.5,1.6 3.5,4.8 -1.4,3.6 -2.4-3.6 0.3-4.8M653.6,431.3l3,0.6 2.4,6.5 7,0.3 8.1-3.8M649.3,473.3l1.9,6.8 0,4.9 2.4,2.7M648.5,485l2.7,0 0.3,3.2 -2.4,1 -1.1-2 0.5-2.2M637.8,496.6l4-3.2 2.4,2.9 -2.4,3.5 -2.7-0.9 -1.3-2.3M656.3,404.1l10,6.5 0.3,1.6 4,3.9M656.3,404.1l0.3-4.2 1.4-2.9 1.3-1.9 -2.7-7.8M677.1,406.4l-1.6-5.5 0-9.1 2.4-3.5M656.6,387.3l5.1-1.3 5.7,3.3 4,0.6 6.5-1.6 3-3.2 5.3-0.4 8.1-9.7 -10.7-3.2 -2.7-5.5 -0.6-1 -2.7,0 1.6-4.8 1.9-0.7M680.3,365.3l1.1-1.6M656.6,387.3l3.5-3.9 -3.5-5.1 -2.7-3.3 3-4.8 0.5-3.6 1.9-1.3 3-5.5 1-5.1 1.4-8.8 4.3-3.2M648.3,389.6l1,4.2 -4.5,11.6 2.4-0.9 0.8,4.2 -0.8,1.9 0,4.5 -3,0 -1.1-5.5 1.7-4.2M647.2,404.1l9.1,0M643.1,409.6l4.9-0.9M644.2,415.1l0.6,6.8 3.2,5.8 0.5,1M657.1,299.7l1.9,5.8 1.7-6.4 0.2-3.9 -1.3-1.3M660.9,295.2l0.6-2 2.1-2.9 -1.6-1.3M660.9,295.2l3.3,1.3 5.3-3.6 6-3.2 0.5-6.8 3.2-2M659,305.8l3,0.7 4-2.6 1.4-1.6 -2.7-3.2 5.4-1.7 0.5-0.6 -1.1-3.9M662,284.8l1.9-2.9 3.5,0 5.4,0 6.4-1 6.5-0.3 -2.1-7.1 2.1-1M676.8,266.7l5.4,1.3 0.5,3.2 3,1.3 4.6,2.6 4-2.6 2.5,4.2M710.2,280.3l3-2.3 5.9-0.6 5.7,2.2 5.1,3 0,3.2M685.7,280.6l1.9,3.9 1.3,3.2 -1.3,3.3 1.3,3.2 4.6,6.5 2.5,3.2M670.6,296.8l7.6,3.5 7.2,6.2 4.9,0.3 3.2-3.2 0.8,0.6M690.3,306.8l2.7,0.3 2.4,1.7M680.3,347.9l1.4-3.6 3.2,0.3 5.1,0.7 3,0.6 12.1-6.4 8.1-3.3 1.9-6.4 -1.4-2.3 -7-0.6 -2.7-4.2M705.1,339.5l3,7.4M713.7,327.5l2.2-4.5 0.3-2.9 0.5-2M684.9,344.6l2.7,7.8 -1.4,6.5 -4,0.9M729.9,285.8l-1.9,5.2 1.1,8.1 2.4,1.6 -2.4,3.5 2.4,4.2 2.7,4.6 1.4,1.9 -4.6,4.5M729.1,304.2l4.3,1.6 10.2-1.6 0.3-3.2 4.3-2.6 3.5-1 1.9-4.2 3-2.2 1.3-7.8 3.8-1.6 5.1-1M729.9,285.8l3,1 5.9-3.3 5.4-3.5 4,1.3 4.1-2 2.1-2.2 2.7,0.9 0.6,3.9 5.3-1.9 3.8,0.6M748.8,323.9l1.6-1.6 5.9-0.3 -2.7-6.8 0.5-4.8 5.7-2.3 4.3-4.8 1.9-3 -0.8-5.5 3,1.7 4.3-10.4 2.1,0M766.8,280.6l2.7,2.3 5.1,3.2 3,3.9 -0.5,5.8 2.1,4.9 4.3,2.6 2.4-0.4 5.4,3.6 5.4,3.9 5.7,0.3 1.9-0.3 1.9-0.4 5.6,1 1.4,2.9 5.1-6.8 5.4-1.3 3.5,3.9M783.5,303.3l-2.7,4.5 5.1,2.9 5.4,1.6 4.9,2.6 6.2,0.6 0-4.8M804.3,310.4l0,2.9 2.7,1.3 5.9-0.4M802.4,315.5l1.9,0.4 2.7,3.2 7,1 -1.1,1.9 -2.2,2.3 1.1,2.2 1.9-2.2 0.8,7.7 -0.8,2M802.4,315.5l0,3.9 2.1,2.9 -0.5,3.6 0.8,4.8M827.2,309.7l-3,2.9 -2.7,2.3 -1.6,4.5 0.3,3.9 -3.8,0 0.3,6.5 -2.2,2.2M827.2,309.7l3.7,2 0,5.5 -2.9,3.5 0,2.9 3.5,2.3 0.8,3.2 2.4,2.3 3,1M834.7,334.9l-2.9,2 -3.3,4.2 -0.8,3.2 3,4.5 -1.1,3 2.7,7.1 1.1,3.8 -2.2,4.9M837.7,332.4l-3,2.5 2.4,2.6 0.8,6.2 2.2-1.6 3.5-0.7 3.5,3.2 0.3,4.6 2.1,1.6 -1,3.9M837.7,332.4l2.4-3.9 3.8-0.7 4.8-2.2 3.8,4.2 3.5,1.6M840.1,328.5l2.4,5.1 4.3,1 -1.6,3.3 3.3,2.9 3.7,5.5 2.5,5.5 0.2,1.6 -0.2,7.1 -4.1,2.6 -0.5,2.2 -3.5,2M854.9,353.4l-6.4,1.3 -6,0 -1.3,2.5 1.1,5.9M834.7,380.2l2.7,1.9 2.7-1.2M860.3,394.4l1.9,3.3 4.6-1.3 4.6,0.3 3.2-3.2 1.6-3.9 1.4-2.6 4.3,0.3M944.9,409.3l0,21M906.4,278.7l4.6-2.6M900.2,271.6l4.3-3.3 5.4-1.6 2.7-1.6 4.3-1.6M801.6,241.8l2.7,3.3 4.5,2.2 1.4,6.5 6.7,1.6 5.4,2.6 2.7,4.5 9.4,0.7 5.4,0.9 8.1,2 6.8-2.3 6.7-1 5.4-3.5 -0.6-3.9 6,0 5.4-3.2 4.8-1.6 5.4-0.7 -3.5-4.2 -6.7,0.6 -1.1-1.2 2.9-5.2M801.6,241.8l4.6-2.2 7.5-3 5.9,2.3 7.6,1 3.2-3.9 2.7-3.2 7.3,1.9 0,2.9 6.2,0.7 6.7,0.9 4,2 6.8,0.3 8.1-2.9 7.2,1.3M879.4,239.9l3,0.9 5.1-3.5 3-5.8 0.5-2.9 6.8-0.7 6.2,2 4.5,8.7 0.9,1.9 7.8,2.3 0.8,3.9 4,0 6.2-2.3 -2.1,4.5 -2.5,6.2 -4.8,0.6 -0.8,4.5 -1.1,3.3M801.6,241.8l-4.9,2.3 -0.8,4.5 -7.3-0.3 -1.8,5.5 -6.2,1.6 2.1,5.8 -1.6,3.3 -8.6,3.8 -2.7,2 -5.9,1.9 -0.6,2.6 3.5,5.8M541.3,265.4l1.6-0.6 4.3,0.6 1.1,1 -1.9,1.9 -0.3,4.2 -1.3,0.4 1.3,4.5 -1,3.2M560.1,260.6l6.8,1.9 6.7,1.3M585.2,259.3l-1.3-3.9 0-2.9 -2.5-1 4.1-4.5 1.6-4.5 -4.9-1.7 -1.6,0 -4.3-1.6 -4.6-3.5M574.2,234.7l4.3,0 2.7,1.9 0.5-3.2 2.2-1.6 0.5-3.2M581.2,236.6l1,4.2M588.2,223.4l3.5,0.3M597.6,238.3l1.1,1.9 3.5,2.9 -2.2,1.6 0,2.6 -6.7,0.3 -2.4-0.3M597.6,238.3l5.9-2.3 1.4,0.3M603.3,226.6l1,4.2 0.3,3.6 0.3,1.9 4,1.3 1.6,0.7 5.2,2.5 3.2,1 7,0.3M585.5,247l5.4,0.3 -0.3,1.3 2.7,0.7 -1.1,1.9 -3,1.3 -1.6-1.6 -3.7,1.6M593.3,249.3l4.6-0.4 4,1.7 0,2.9M601.9,250.6l6.5-0.7 2.7-4.2M602.2,243.1l3.2-0.6 5.1,1.3 0.6,1.9 4.6,0.6 4.5-2.2 4.6,0.3 1.1-2.3M618.4,225l8,0 1.9,1.6 1.1,3.9 -0.8,3.9 1.3,2.2 -4,5.5M624.8,244.4l1.9,1.3 -4.6,5.2 -2.4,0.6M608.4,249.9l2.4,2.3 4.9,0.3 4-1 3,3.3 2.9,1.6 0.6,1.6M626.7,245.7l5.4,1 4.6-2 4.3,5.5 0,3.6 4,1M626.2,258l6.2,1.6 5.4-1.3 4.3,1.3M626.2,258l-0.8,3.9 1.6,5.5 5.4,0 3.7-1.3 4.3-1M636.1,266.1l-1,3.2M620.8,268.3l3.2-0.3 3-0.6M617.3,265.4l2.9-1.3 0.6,4.2 -1.4,4.2M595.2,210.5l2.7-3.6 0.8-4.8 -0.8-4.9 4.8-4.8 2.7-5.5 4.1-4.2 4-3.3 6.2-1.9M619.7,177.5l8.6,4.2 1.4,5.8 0.5,0.6M619.7,177.5l4.6,1.3 8.1,0 2.7-3.6 5.3-1 2.7,3 4.9-2M643.1,177.2l-1.3,2.2 4,2.6 -2.7,2.9 2.7,3.6 -0.8,3.9 4.9,5.1 -5.4,5.2 -4.6,2.6M545.3,223.1l-1.9,1.6 4.6,1.3"/>
<path d="M777.9,290l5.3-3.9 5.4,0 8.1-1.6 9.5-0.6 2.6,0.6 1.4,6.5 5.4,3.2 5.4,1.6 5.4,0 4,3.3 1.4,4.8 0,3.2 -0.9,3.3M808.8,284.5l1.4-7.4 5.4-3.3 4-5.5 4.9-5.5M815.6,273.8l8.1,1 8.1,0.6 5.3,4.2 5.4,3.9 -1.3,4.2 -4.1,2.6 4.1,2.3 -4.1,2.2 -8-3.2 -2.7,4.2M824.5,262.8l4.6,5.5 5.3,1.7 8.1,1.6 2.7,6.4 1.4,1.6 4-5.8 2.7-0.6 2.7,6.4 -2.7,8.1 -2.7,4.9 0,2.6 6.7,2.9 4.1-3.9 2.7-4.8M846.6,279.6l1.3,3.3 2.7,3.2 2.7,1.6M842.5,283.5l4.1-3.9M850.6,273.8l2.7-4.8 5.4,0.3 6.2,3.9 1.9-3.2 5.4,1.6 1.3-4.9 6.7-3.2 5.4,3.2 2.7,3.9M864.9,273.2l-2.2,4.8 0,6.5 1.4,4.5 6.7-2.2 0-3.9 2.2-4.9 -0.8-6.4M870.8,283.5l5.4,1 2.7-4.9 3.5-2.5M864.1,289.4l0,4.8 2.7,2.3 5.4,0.9 4,0.7 2.7-8.1 -2.7-5.5M878.9,290l0-1.6 4,1 3.5-1.7M878.9,290l5.4,4.2 1.3,3.2 -1.3,2.6 2.7,0.3 3.5,0.4M884.3,300l0,3.9 -1.4,1.6 1.4,3.9 5.1,3.6M857.3,298.1l0,2.6 2.7,3.2 -1.3,3.2 5.4-2.6 6.7,1 6.8-1.6 -1.4-5.8M858.7,307.1l1.3,6.5 1.4,3.2 4,3.3 4.1-1 2.7-3.9 0-6.4 -1.4-3.3M877.6,303.9l5.3,1.6M884.3,309.4l-4.1,4.2 -2.6,4.9 2.6,5.8M877.6,318.5l-4.1,2.5 -4-1.9M865.4,320.1l1.4,1.6 -1.4,3.2 -4,4.9 -0.8,1.6M861.4,316.8l-2.7,1.7 -5.4,1.6 -5.4,1.6 2.7,3.9 -1.3,0.6M858.7,307.1l-4,0 -4.1,1.7 -2.7,3.2 -2.7,3.2 2.7,5.5M830.9,310.4l3.5,0 5.4,0 5.4-1.6 2.7,3.2M837.1,294.8l4.1-2.2 4,1.6 5.4,1M850.6,308.8l-1.3-4.9 4-1.6 4-1.6M885.6,266.7l5.4-3.2 6.8-3.3 5.4,3.3 2.6,3.9M885.6,266.7l2.7-6.5 5.4-6.4 5.4,0 5.4,1.6 5.4,1.6 5.4,1.6 2.7,1.6M893.7,253.8l2.7-4.9 2.7-4.8 4.1-4.9 1.3-4.8 -5.4-3.2 -8.1-2.6"/>
<path d="M845.2,278l1.4,1.6 4-5.8 2.7-0.6 2.7,6.4 -2.7,8.1 -2.7,4.9 0,2.6 6.7,2.9 4.1-3.9 2.7-4.8M846.6,279.6l1.3,3.3 2.7,3.2 2.7,1.6M850.6,273.8l2.7-4.8 5.4,0.3 6.2,3.9 1.9-3.2 5.4,1.6 1.3-4.9M885.6,266.7l2.7,3.9M864.9,273.2l-2.2,4.8 0,6.5 1.4,4.5 6.7-2.2 0-3.9 2.2-4.9 -0.8-6.4M870.8,283.5l5.4,1 2.7-4.9 3.5-2.5M864.1,289.4l0,4.8 2.7,2.3 5.4,0.9 4,0.7 2.7-8.1 -2.7-5.5M878.9,290l0-1.6 4,1 3.5-1.7M878.9,290l5.4,4.2 1.3,3.2 -1.3,2.6 2.7,0.3 3.5,0.4M884.3,300l0,3.9 -1.4,1.6 1.4,3.9 5.1,3.6M857.3,298.1l0,2.6 2.7,3.2 -1.3,3.2 5.4-2.6 6.7,1 6.8-1.6 -1.4-5.8M858.7,307.1l1.3,6.5 1.4,3.2 4,3.3 4.1-1 2.7-3.9 0-6.4 -1.4-3.3M877.6,303.9l5.3,1.6M884.3,309.4l-4.1,4.2 -2.6,4.9 2.6,5.8M877.6,318.5l-4.1,2.5 -4-1.9M865.4,320.1l1.4,1.6 -1.4,3.2 -4,4.9 -0.8,1.6M861.4,316.8l-2.7,1.7 -5.4,1.6 -5.4,1.6 2.7,3.9 -1.3,0.6M858.7,307.1l-4,0 -4.1,1.7 -2.7,3.2 -2.7,3.2 2.7,5.5M845.2,308.8l2.7,3.2M845.2,294.2l5.4,1M850.6,308.8l-1.3-4.9 4-1.6 4-1.6" stroke-width="1.5" shape-rendering="auto"/>
<path d="M823.7,287.7l5.4,1.7 5.3-3.3 5.4,5.8 -2.1-4.2 7-3.5 1.9-3.6 5.4-4.2 1.3-7.1 5.4,0.3 5.4,1 0.8,2.9 -2.2,6.1 -0.5,8.1 1.3,1.3 7.6-0.9 5.1-2 4-3.9 4.1-2.9 1.9-0.6M810.2,290.3l8.1,0.7 8.1,3.2 4,6.5 2.2,8.1 0.5,4.8 2.2-1.6 1.3,3.9 3.2,0 2.7-3.9 4.3-4.2 5.2-2.6 5.3-4.5 7.6,0.9 3.2,2.3 1.6,1.9 3.3-3.8 4.6,2.5 2.6-2.2 3.8-2.9 1.1-2.3 3.2,0.3 4.1,1.7M829.1,289.4l4,4.8 4,6.5 2.2,8.1 0.3,6.4" stroke="#2846f0" stroke-width="1.3" shape-rendering="auto"/>
</g>
<path d="M237.4,641.4L240,640.8L247.9,640.0L255.8,641.4L265,640.8L269,644.0L279.5,644.0L286.1,638.7L288.8,634.8L296.7,633.5L305.9,634.8L298,637.4L292.7,640.0L296.7,642.7L303.3,638.7L316.5,636.6L324.4,635.6L332.3,638.7L345.5,638.7L353.4,636.6L361.3,636.1L366.5,633.5L360,629.5L369.2,626.9L377.1,624.2L382.4,617.6L387.6,613.7L395.5,609.7L403.5,607.1L411.4,605.8L416.6,598.7L408.7,608.4L398.2,612.4L390.3,617.6L389,622.9L395.5,625.5L400.8,630.8L402.1,638.7L392.9,644.0L382.4,646.1L369.2,647.2L356,646.6L353.4,649.3L363.9,651.9L356,653.2L345.5,651.9L340.2,654.5L350.7,657.2L363.9,659.8L377.1,662.5L387.6,665.1L398.2,666.4L408.7,669.0L424.5,666.4L440.4,665.1L456.2,663.8L472,661.1L487.8,658.5L490.5,655.9L477.3,654.5L466.7,654.5L472,651.9L487.8,649.3L503.6,646.6L514.2,644.0L511.5,641.4L519.5,638.7L530,636.1M419.3,661.1L429.8,654.5L440.4,651.9L448.3,655.9L443,659.8L429.8,661.1ZM371.8,657.2L382.4,654.5L383.7,656.1L373.1,658.8ZM386.3,659.3L400.8,657.7L401.3,660.3L387.6,661.4ZM356,648.0L363.9,646.1L366.5,648.2L358.6,650.3ZM371.8,625.5L379.7,622.9L383.7,628.2L385,633.5L377.1,636.1L370.5,632.1ZM361.3,628.2L366.5,626.9L367.9,631.3L362.6,632.1ZM400.8,568.1L408.7,566.5L409.3,569.1L401.3,570.2ZM463.6,574.9L468.3,576.8L467.3,578.1ZM512.1,642.7L520,640.0L527.9,636.1L535.8,630.8L546.4,630.3L556.9,629.5L564.8,632.1L572.7,629.5L588.5,628.2L607,626.9L625.5,629.5L638.6,628.2L649.2,626.9L655.8,622.4L662.4,624.2L669,626.9L678.2,622.4L688.7,619.7L699.3,616.3L708.5,613.7L716.4,614.5L723,617.6L736.2,619.0L752,620.3L753.3,625.5L747.3,631.3L750.7,634.8L757.3,630.8L767.8,625.5L778.4,621.6L788.9,619.0L799.5,616.3L810,615.0M810,616.0L813.6,616.2L824,616.2L831.8,617.0L836.9,612.3L847.3,613.6L857.6,616.2L868,612.8L878.3,616.2L891.3,617.0L901.6,615.4L912,617.5L921,614.4L927.5,611.8L935.3,614.9L948.2,617.0L958.6,618.8L971.5,622.7L987,624.8L1002.6,627.9L1018.1,630.4L1025.8,633.0L1018.1,638.2L1007.7,642.1L1003.8,648.6L1010.3,652.4L1020.7,651.1L1012.9,654.3L1002.6,657.6L993.5,661.0L1000,664.1L1012.9,668.7L1028.4,671.3L1050.4,673.9" fill="none" stroke="#000" stroke-width="1" stroke-linejoin="round" shape-rendering="crispEdges"/>
</g>
<rect x="80" y="425" width="158" height="266" fill="#fff" stroke="#000" stroke-width="2"/>
<rect x="97" y="500" width="49" height="23" fill="#961414"/>
<text x="163 184 198.5" y="519" class="lg">特 旱</text>
<rect x="97" y="525" width="49" height="23" fill="#ff0000"/>
<text x="163 184 198.5" y="544" class="lg">重 旱</text>
<rect x="97" y="550" width="49" height="23" fill="#ff7d00"/>
<text x="163 184 198.5" y="569" class="lg">中 旱</text>
<rect x="97" y="575" width="49" height="23" fill="#ffff00"/>
<text x="163 184 198.5" y="594" class="lg">轻 旱</text>
<rect x="97" y="600" width="49" height="23" fill="#c8ffc8"/>
<text x="163 184 198.5" y="619" class="lg">无 旱</text>
<text x="122.5 150 182.5" y="453" class="lgt">图 例</text>
<text x="162.5" y="684" text-anchor="middle" class="nd">空白处无资料</text>
<rect x="80" y="109" width="970" height="582" fill="none" stroke="#000" stroke-width="2"/>
<rect x="75" y="109" width="5" height="1" fill="#000"/>
<text x="44.3" y="116.2" class="ay" textLength="27.0" lengthAdjust="spacingAndGlyphs">90N</text>
<rect x="75" y="206" width="5" height="1" fill="#000"/>
<text x="44.3" y="213.2" class="ay" textLength="27.0" lengthAdjust="spacingAndGlyphs">60N</text>
<rect x="75" y="303" width="5" height="1" fill="#000"/>
<text x="44.3" y="310.2" class="ay" textLength="27.0" lengthAdjust="spacingAndGlyphs">30N</text>
<rect x="75" y="400" width="5" height="1" fill="#000"/>
<text x="50.3" y="407.2" class="ay" textLength="21.0" lengthAdjust="spacingAndGlyphs">EQ</text>
<rect x="75" y="497" width="5" height="1" fill="#000"/>
<text x="45.8" y="504.2" class="ay" textLength="25.5" lengthAdjust="spacingAndGlyphs">30S</text>
<rect x="75" y="594" width="5" height="1" fill="#000"/>
<text x="45.8" y="601.2" class="ay" textLength="25.5" lengthAdjust="spacingAndGlyphs">60S</text>
<rect x="75" y="691" width="5" height="1" fill="#000"/>
<text x="45.8" y="698.2" class="ay" textLength="25.5" lengthAdjust="spacingAndGlyphs">90S</text>
<rect x="80" y="691" width="1" height="6" fill="#000"/>
<text x="68.5" y="711" class="ax" textLength="24.0" lengthAdjust="spacingAndGlyphs">180</text>
<rect x="242" y="691" width="1" height="6" fill="#000"/>
<text x="224.5" y="711" class="ax" textLength="35.3" lengthAdjust="spacingAndGlyphs">120W</text>
<rect x="403" y="691" width="1" height="6" fill="#000"/>
<text x="390.0" y="711" class="ax" textLength="27.7" lengthAdjust="spacingAndGlyphs">60W</text>
<rect x="565" y="691" width="1" height="6" fill="#000"/>
<text x="561.5" y="711" class="ax" textLength="8.0" lengthAdjust="spacingAndGlyphs">0</text>
<rect x="727" y="691" width="1" height="6" fill="#000"/>
<text x="713.9" y="711" class="ax" textLength="26.5" lengthAdjust="spacingAndGlyphs">60E</text>
<rect x="888" y="691" width="1" height="6" fill="#000"/>
<text x="871.8" y="711" class="ax" textLength="34.0" lengthAdjust="spacingAndGlyphs">120E</text>
<rect x="1050" y="691" width="1" height="6" fill="#000"/>
<text x="1038.5" y="711" class="ax" textLength="24.0" lengthAdjust="spacingAndGlyphs">180</text>
<text y="106.5" class="hd"><tspan x="590.9" textLength="53.5" lengthAdjust="spacingAndGlyphs">NATIONAL</tspan> <tspan x="650.9" textLength="45.8" lengthAdjust="spacingAndGlyphs">CLIMATE</tspan> <tspan x="704.4" textLength="44.7" lengthAdjust="spacingAndGlyphs">CENTER</tspan> <tspan x="756.7" textLength="12.0" lengthAdjust="spacingAndGlyphs">OF</tspan> <tspan x="776.4" textLength="33.8" lengthAdjust="spacingAndGlyphs">CHINA</tspan> <tspan x="818.5" textLength="98.2" lengthAdjust="spacingAndGlyphs">METEOROLOGICAL</tspan> <tspan x="923.3" textLength="93.8" lengthAdjust="spacingAndGlyphs">ADMINISTRATION</tspan></text>
<text y="125" class="cn16"><tspan x="694.5">中国气象局</tspan> <tspan x="792">国家气候中心</tspan></text>
<text x="937" y="685" class="dt" textLength="64" lengthAdjust="spacingAndGlyphs">20051220</text>
<text><tspan class="cn20" x="335.5" y="747">全球干旱监测图</tspan> <tspan class="dg" x="510.8" y="747.6" letter-spacing="4.31" textLength="63.73" lengthAdjust="spacingAndGlyphs">2005</tspan><tspan class="cn20" x="571.3" y="747">年</tspan><tspan class="dg" x="594.3" y="747.6" letter-spacing="0.65" textLength="26.00" lengthAdjust="spacingAndGlyphs">12</tspan><tspan class="cn20" x="619.0" y="747">月</tspan><tspan class="dg" x="642.0" y="747.6" letter-spacing="0.90" textLength="26.40" lengthAdjust="spacingAndGlyphs">19</tspan><tspan class="cn20" x="676.4" y="747">日</tspan><tspan class="cn20" x="696.3" y="747">监测</tspan></text>
<text transform="scale(0.8,1)" x="375.60 395.55 415.50 435.45 455.40 475.35 495.30 515.25 535.20 555.15 575.10 595.05 615.00 634.95 654.90 674.85 694.80 714.75 734.70 754.65 774.60 794.55 814.50 834.45 854.40 874.35 894.30 914.25 934.20 954.15 974.10 994.05 1014.00 1033.95 1053.90 1073.85 1093.80 1113.75 1133.70 1153.65" y="775.5" class="en" text-anchor="middle">Map of Global Drought Monitor 2005.12.19</text>
</svg>
</body>
</html>
